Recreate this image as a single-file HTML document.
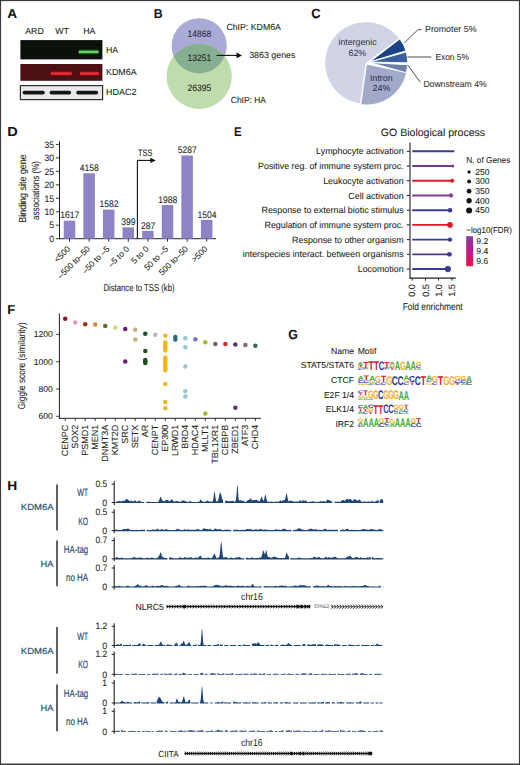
<!DOCTYPE html>
<html><head><meta charset="utf-8"><style>
html,body{margin:0;padding:0;background:#fff;}
svg{display:block;font-family:"Liberation Sans", sans-serif;text-rendering:geometricPrecision;}
</style></head><body>
<svg width="520" height="765" viewBox="0 0 520 765">
<rect x="0" y="0" width="520" height="765" fill="#fff"/>
<text x="0" y="0" font-size="100" font-weight="bold" fill="#111" stroke="#111" stroke-width="0.365" transform="translate(7.16 17.6) scale(0.13713 0.12936)">A</text>
<text x="34.5" y="34.33" font-size="8.8" fill="#231f20" stroke="#231f20" stroke-width="0.08" text-anchor="middle">ARD</text>
<text x="62.1" y="34.33" font-size="8.8" fill="#231f20" stroke="#231f20" stroke-width="0.08" text-anchor="middle">WT</text>
<text x="89.3" y="34.33" font-size="8.8" fill="#231f20" stroke="#231f20" stroke-width="0.08" text-anchor="middle">HA</text>
<rect x="20.4" y="40.1" width="82" height="19.3" fill="#0b100b" />
<rect x="78.3" y="49.6" width="20.6" height="4.6" rx="1.5" fill="#1f5a1f" opacity="0.9"/>
<rect x="78.6" y="50.5" width="20" height="2.8" rx="1" fill="#38a038"/>
<rect x="79" y="51.2" width="19.4" height="1.4" fill="#7ce67c"/>
<rect x="20.4" y="64" width="82" height="16.8" fill="#4c1012" />
<rect x="50.4" y="71.3" width="21.8" height="4.4" rx="1.5" fill="#8a1418" opacity="0.9"/>
<rect x="50.7" y="72.0" width="21.2" height="3" rx="1" fill="#c81e26"/>
<rect x="51" y="72.7" width="20.6" height="1.5" fill="#ea3439"/>
<rect x="79.6" y="71.3" width="19.7" height="4.4" rx="1.5" fill="#8a1418" opacity="0.9"/>
<rect x="79.9" y="72.0" width="19.1" height="3" rx="1" fill="#c81e26"/>
<rect x="80.2" y="72.7" width="18.5" height="1.5" fill="#ea3439"/>
<rect x="20.4" y="85.6" width="82.2" height="14" fill="#e9e9e9" stroke="#2e2e2e" stroke-width="1.2"/>
<rect x="22.6" y="90.8" width="22.2" height="3.7" rx="1.8" fill="#151515"/>
<rect x="49.6" y="90.8" width="21.5" height="3.7" rx="1.8" fill="#151515"/>
<rect x="76.2" y="90.8" width="22" height="3.7" rx="1.8" fill="#151515"/>
<text x="106" y="52.63" font-size="8.8" fill="#231f20" stroke="#231f20" stroke-width="0.08">HA</text>
<text x="106" y="75.13" font-size="8.8" fill="#231f20" stroke="#231f20" stroke-width="0.08" textLength="30.6" lengthAdjust="spacingAndGlyphs">KDM6A</text>
<text x="106" y="94.83" font-size="8.8" fill="#231f20" stroke="#231f20" stroke-width="0.08" textLength="30.6" lengthAdjust="spacingAndGlyphs">HDAC2</text>
<text x="0" y="0" font-size="100" font-weight="bold" fill="#111" stroke="#111" stroke-width="0.407" transform="translate(153.78 17.6) scale(0.12298 0.12936)">B</text>
<circle cx="199.2" cy="45.8" r="27.6" fill="#a9abd6" />
<circle cx="199.2" cy="76.3" r="32.6" fill="#bfdcac" />
<clipPath id="cpTop"><circle cx="199.2" cy="45.8" r="27.6"/></clipPath>
<circle cx="199.2" cy="76.3" r="32.6" fill="#86ae90" clip-path="url(#cpTop)"/>
<text x="199.4" y="37.4" font-size="9.3" fill="#2a2a3a" stroke="#2a2a3a" stroke-width="0.08" text-anchor="middle" textLength="24" lengthAdjust="spacingAndGlyphs">14868</text>
<text x="199.4" y="61.3" font-size="9.3" fill="#1f2a22" stroke="#1f2a22" stroke-width="0.08" text-anchor="middle" textLength="24" lengthAdjust="spacingAndGlyphs">13251</text>
<text x="199.4" y="91.2" font-size="9.3" fill="#1f2a1a" stroke="#1f2a1a" stroke-width="0.08" text-anchor="middle" textLength="24" lengthAdjust="spacingAndGlyphs">26395</text>
<line x1="216.5" y1="55.4" x2="238" y2="55.4" stroke="#111" stroke-width="1.1" />
<path d="M242,55.4 L236.5,52.6 L236.5,58.2 Z" fill="#111"/>
<text x="249.2" y="58.43" font-size="8.8" fill="#231f20" stroke="#231f20" stroke-width="0.08" textLength="46.2" lengthAdjust="spacingAndGlyphs">3863 genes</text>
<text x="226.4" y="29.53" font-size="8.8" fill="#231f20" stroke="#231f20" stroke-width="0.08" textLength="54.5" lengthAdjust="spacingAndGlyphs">ChIP: KDM6A</text>
<text x="230.8" y="102.93" font-size="8.8" fill="#231f20" stroke="#231f20" stroke-width="0.08" textLength="35.2" lengthAdjust="spacingAndGlyphs">ChIP: HA</text>
<text x="0" y="0" font-size="100" font-weight="bold" fill="#111" stroke="#111" stroke-width="0.389" transform="translate(311.27 17.77) scale(0.12848 0.13418)">C</text>
<path d="M366.1,63 L360.35,103.9 A41.3,41.3 0 1 1 399.3,38.43 Z" fill="#d1d3e6" stroke="#fff" stroke-width="0.9"/>
<path d="M366.5,64 L406.7,72.55 A41.1,41.1 0 0 1 360.78,104.7 Z" fill="#a3a9c9" stroke="#fff" stroke-width="0.9"/>
<path d="M370,61.8 L399.83,38.91 A37.6,37.6 0 0 1 405.96,50.81 Z" fill="#1b4582" stroke="#fff" stroke-width="0.9"/>
<path d="M370,62.1 L406.21,51.99 A37.6,37.6 0 0 1 407.59,62.76 Z" fill="#3b5f98" stroke="#fff" stroke-width="0.9"/>
<path d="M370,62.6 L407.54,64.76 A37.6,37.6 0 0 1 406.23,72.65 Z" fill="#6b7ea6" stroke="#fff" stroke-width="0.9"/>
<text x="357.5" y="45.3" font-size="8.8" fill="#3b3f55" stroke="#3b3f55" stroke-width="0.08" text-anchor="middle">intergenic</text>
<text x="357.3" y="55.63" font-size="8.8" fill="#3b3f55" stroke="#3b3f55" stroke-width="0.08" text-anchor="middle">62%</text>
<text x="381.3" y="81.33" font-size="8.8" fill="#34385a" stroke="#34385a" stroke-width="0.08" text-anchor="middle">Intron</text>
<text x="381.4" y="91.33" font-size="8.8" fill="#34385a" stroke="#34385a" stroke-width="0.08" text-anchor="middle">24%</text>
<path d="M404.2,43 L418,29.7 L421.5,29.7" fill="none" stroke="#3a3a3a" stroke-width="0.9"/>
<line x1="407.5" y1="57" x2="431.3" y2="57" stroke="#3a3a3a" stroke-width="0.9" />
<path d="M407.7,65 L420.4,82.3" fill="none" stroke="#3a3a3a" stroke-width="0.9"/>
<text x="425" y="32.23" font-size="8.8" fill="#333" stroke="#333" stroke-width="0.08" textLength="51.5" lengthAdjust="spacingAndGlyphs">Promoter 5%</text>
<text x="435.4" y="60.03" font-size="8.8" fill="#333" stroke="#333" stroke-width="0.08" textLength="33.6" lengthAdjust="spacingAndGlyphs">Exon 5%</text>
<text x="423.4" y="87.23" font-size="8.8" fill="#333" stroke="#333" stroke-width="0.08" textLength="63.2" lengthAdjust="spacingAndGlyphs">Downstream 4%</text>
<text x="0" y="0" font-size="100" font-weight="bold" fill="#111" stroke="#111" stroke-width="0.345" transform="translate(7.13 135.9) scale(0.14512 0.13082)">D</text>
<line x1="59.5" y1="141.3" x2="59.5" y2="239.2" stroke="#231f20" stroke-width="1" />
<line x1="59" y1="238.7" x2="216.1" y2="238.7" stroke="#231f20" stroke-width="1" />
<line x1="55.9" y1="238.7" x2="59.5" y2="238.7" stroke="#231f20" stroke-width="0.9" />
<text x="54" y="241.93" font-size="9.4" fill="#231f20" stroke="#231f20" stroke-width="0.08" text-anchor="end" textLength="4.8" lengthAdjust="spacingAndGlyphs">0</text>
<line x1="55.9" y1="225.23" x2="59.5" y2="225.23" stroke="#231f20" stroke-width="0.9" />
<text x="54" y="228.46" font-size="9.4" fill="#231f20" stroke="#231f20" stroke-width="0.08" text-anchor="end" textLength="4.8" lengthAdjust="spacingAndGlyphs">5</text>
<line x1="55.9" y1="211.76" x2="59.5" y2="211.76" stroke="#231f20" stroke-width="0.9" />
<text x="54" y="214.99" font-size="9.4" fill="#231f20" stroke="#231f20" stroke-width="0.08" text-anchor="end" textLength="9.6" lengthAdjust="spacingAndGlyphs">10</text>
<line x1="55.9" y1="198.29" x2="59.5" y2="198.29" stroke="#231f20" stroke-width="0.9" />
<text x="54" y="201.52" font-size="9.4" fill="#231f20" stroke="#231f20" stroke-width="0.08" text-anchor="end" textLength="9.6" lengthAdjust="spacingAndGlyphs">15</text>
<line x1="55.9" y1="184.82" x2="59.5" y2="184.82" stroke="#231f20" stroke-width="0.9" />
<text x="54" y="188.05" font-size="9.4" fill="#231f20" stroke="#231f20" stroke-width="0.08" text-anchor="end" textLength="9.6" lengthAdjust="spacingAndGlyphs">20</text>
<line x1="55.9" y1="171.35" x2="59.5" y2="171.35" stroke="#231f20" stroke-width="0.9" />
<text x="54" y="174.58" font-size="9.4" fill="#231f20" stroke="#231f20" stroke-width="0.08" text-anchor="end" textLength="9.6" lengthAdjust="spacingAndGlyphs">25</text>
<line x1="55.9" y1="157.88" x2="59.5" y2="157.88" stroke="#231f20" stroke-width="0.9" />
<text x="54" y="161.11" font-size="9.4" fill="#231f20" stroke="#231f20" stroke-width="0.08" text-anchor="end" textLength="9.6" lengthAdjust="spacingAndGlyphs">30</text>
<line x1="55.9" y1="144.41" x2="59.5" y2="144.41" stroke="#231f20" stroke-width="0.9" />
<text x="54" y="147.64" font-size="9.4" fill="#231f20" stroke="#231f20" stroke-width="0.08" text-anchor="end" textLength="9.6" lengthAdjust="spacingAndGlyphs">35</text>
<rect x="63.75" y="220.65" width="11.5" height="18.05" fill="#8c84c6" />
<text x="69.7" y="218.32" font-size="9.5" fill="#231f20" stroke="#231f20" stroke-width="0.08" text-anchor="middle" textLength="19" lengthAdjust="spacingAndGlyphs">1617</text>
<line x1="69.5" y1="238.7" x2="69.5" y2="241.7" stroke="#231f20" stroke-width="0.9" />
<text x="70.9" y="249.5" font-size="8.4" fill="#231f20" stroke="#231f20" stroke-width="0.08" text-anchor="end" transform="rotate(-45 70.9 249.5)">&lt;500</text>
<rect x="83.35" y="173.24" width="11.5" height="65.46" fill="#8c84c6" />
<text x="89.3" y="170.9" font-size="9.5" fill="#231f20" stroke="#231f20" stroke-width="0.08" text-anchor="middle" textLength="19" lengthAdjust="spacingAndGlyphs">4158</text>
<line x1="89.1" y1="238.7" x2="89.1" y2="241.7" stroke="#231f20" stroke-width="0.9" />
<text x="90.5" y="249.5" font-size="8.4" fill="#231f20" stroke="#231f20" stroke-width="0.08" text-anchor="end" transform="rotate(-45 90.5 249.5)">–500 to–50</text>
<rect x="102.95" y="209.6" width="11.5" height="29.1" fill="#8c84c6" />
<text x="108.9" y="207.27" font-size="9.5" fill="#231f20" stroke="#231f20" stroke-width="0.08" text-anchor="middle" textLength="19" lengthAdjust="spacingAndGlyphs">1582</text>
<line x1="108.7" y1="238.7" x2="108.7" y2="241.7" stroke="#231f20" stroke-width="0.9" />
<text x="110.1" y="249.5" font-size="8.4" fill="#231f20" stroke="#231f20" stroke-width="0.08" text-anchor="end" transform="rotate(-45 110.1 249.5)">–50 to –5</text>
<rect x="122.55" y="227.39" width="11.5" height="11.31" fill="#8c84c6" />
<text x="128.5" y="225.05" font-size="9.5" fill="#231f20" stroke="#231f20" stroke-width="0.08" text-anchor="middle" textLength="14.3" lengthAdjust="spacingAndGlyphs">399</text>
<line x1="128.3" y1="238.7" x2="128.3" y2="241.7" stroke="#231f20" stroke-width="0.9" />
<text x="129.7" y="249.5" font-size="8.4" fill="#231f20" stroke="#231f20" stroke-width="0.08" text-anchor="end" transform="rotate(-45 129.7 249.5)">–5 to 0</text>
<rect x="142.15" y="230.89" width="11.5" height="7.81" fill="#8c84c6" />
<text x="148.1" y="228.56" font-size="9.5" fill="#231f20" stroke="#231f20" stroke-width="0.08" text-anchor="middle" textLength="14.3" lengthAdjust="spacingAndGlyphs">287</text>
<line x1="147.9" y1="238.7" x2="147.9" y2="241.7" stroke="#231f20" stroke-width="0.9" />
<text x="149.3" y="249.5" font-size="8.4" fill="#231f20" stroke="#231f20" stroke-width="0.08" text-anchor="end" transform="rotate(-45 149.3 249.5)">5 to 0</text>
<rect x="161.75" y="205.02" width="11.5" height="33.68" fill="#8c84c6" />
<text x="167.7" y="202.69" font-size="9.5" fill="#231f20" stroke="#231f20" stroke-width="0.08" text-anchor="middle" textLength="19" lengthAdjust="spacingAndGlyphs">1988</text>
<line x1="167.5" y1="238.7" x2="167.5" y2="241.7" stroke="#231f20" stroke-width="0.9" />
<text x="168.9" y="249.5" font-size="8.4" fill="#231f20" stroke="#231f20" stroke-width="0.08" text-anchor="end" transform="rotate(-45 168.9 249.5)">50 to –5</text>
<rect x="181.35" y="155.46" width="11.5" height="83.24" fill="#8c84c6" />
<text x="187.3" y="153.12" font-size="9.5" fill="#231f20" stroke="#231f20" stroke-width="0.08" text-anchor="middle" textLength="19" lengthAdjust="spacingAndGlyphs">5287</text>
<line x1="187.1" y1="238.7" x2="187.1" y2="241.7" stroke="#231f20" stroke-width="0.9" />
<text x="188.5" y="249.5" font-size="8.4" fill="#231f20" stroke="#231f20" stroke-width="0.08" text-anchor="end" transform="rotate(-45 188.5 249.5)">500 to–50</text>
<rect x="200.95" y="219.84" width="11.5" height="18.86" fill="#8c84c6" />
<text x="206.9" y="217.51" font-size="9.5" fill="#231f20" stroke="#231f20" stroke-width="0.08" text-anchor="middle" textLength="19" lengthAdjust="spacingAndGlyphs">1504</text>
<line x1="206.7" y1="238.7" x2="206.7" y2="241.7" stroke="#231f20" stroke-width="0.9" />
<text x="208.1" y="249.5" font-size="8.4" fill="#231f20" stroke="#231f20" stroke-width="0.08" text-anchor="end" transform="rotate(-45 208.1 249.5)">&gt;500</text>
<line x1="137.4" y1="160.4" x2="137.4" y2="238.7" stroke="#111" stroke-width="1.1" />
<line x1="136.9" y1="160.4" x2="151.5" y2="160.4" stroke="#111" stroke-width="1.1" />
<path d="M155.8,160.4 L150.3,157.7 L150.3,163.1 Z" fill="#111"/>
<text x="145.2" y="155.63" font-size="9.4" fill="#111" stroke="#111" stroke-width="0.08" text-anchor="middle" textLength="14.2" lengthAdjust="spacingAndGlyphs">TSS</text>
<text x="26.1" y="188.5" font-size="10.1" fill="#231f20" stroke="#231f20" stroke-width="0.08" text-anchor="middle" textLength="68.5" lengthAdjust="spacingAndGlyphs" transform="rotate(-90 26.1 188.5)">Binding site gene</text>
<text x="39.4" y="190.5" font-size="10" fill="#231f20" stroke="#231f20" stroke-width="0.08" text-anchor="middle" textLength="59" lengthAdjust="spacingAndGlyphs" transform="rotate(-90 39.4 190.5)">associations (%)</text>
<text x="139" y="290.61" font-size="9.9" fill="#231f20" stroke="#231f20" stroke-width="0.08" text-anchor="middle" textLength="71.2" lengthAdjust="spacingAndGlyphs">Distance to TSS (kb)</text>
<text x="0" y="0" font-size="100" font-weight="bold" fill="#111" stroke="#111" stroke-width="0.438" transform="translate(234.04 135.6) scale(0.11407 0.12646)">E</text>
<text x="433" y="136.25" font-size="10.6" fill="#231f20" stroke="#231f20" stroke-width="0.08" text-anchor="middle" textLength="104.3" lengthAdjust="spacingAndGlyphs">GO Biological process</text>
<line x1="410" y1="142.5" x2="410" y2="278.6" stroke="#231f20" stroke-width="1.1" />
<line x1="409.5" y1="278.1" x2="455.8" y2="278.1" stroke="#231f20" stroke-width="1.1" />
<line x1="406.7" y1="151.3" x2="410" y2="151.3" stroke="#231f20" stroke-width="1" />
<line x1="412.2" y1="151.3" x2="453.5" y2="151.3" stroke="#393d8f" stroke-width="1.9" />
<circle cx="453.5" cy="151.3" r="0.95" fill="#393d8f" />
<text x="403.6" y="154.36" font-size="8.9" fill="#231f20" stroke="#231f20" stroke-width="0.08" text-anchor="end">Lymphocyte activation</text>
<line x1="406.7" y1="166.02" x2="410" y2="166.02" stroke="#231f20" stroke-width="1" />
<line x1="412.2" y1="166.02" x2="452.7" y2="166.02" stroke="#783a8c" stroke-width="1.9" />
<circle cx="452.7" cy="166.02" r="1.5" fill="#783a8c" />
<text x="403.6" y="169.08" font-size="8.9" fill="#231f20" stroke="#231f20" stroke-width="0.08" text-anchor="end">Positive reg. of immune system proc.</text>
<line x1="406.7" y1="180.74" x2="410" y2="180.74" stroke="#231f20" stroke-width="1" />
<line x1="412.2" y1="180.74" x2="452.2" y2="180.74" stroke="#dc1a26" stroke-width="1.9" />
<circle cx="452.2" cy="180.74" r="1.9" fill="#dc1a26" />
<text x="403.6" y="183.8" font-size="8.9" fill="#231f20" stroke="#231f20" stroke-width="0.08" text-anchor="end">Leukocyte activation</text>
<line x1="406.7" y1="195.46" x2="410" y2="195.46" stroke="#231f20" stroke-width="1" />
<line x1="412.2" y1="195.46" x2="451" y2="195.46" stroke="#853c96" stroke-width="1.9" />
<circle cx="451" cy="195.46" r="2.1" fill="#853c96" />
<text x="403.6" y="198.52" font-size="8.9" fill="#231f20" stroke="#231f20" stroke-width="0.08" text-anchor="end">Cell activation</text>
<line x1="406.7" y1="210.18" x2="410" y2="210.18" stroke="#231f20" stroke-width="1" />
<line x1="412.2" y1="210.18" x2="450" y2="210.18" stroke="#393d8f" stroke-width="1.9" />
<circle cx="450" cy="210.18" r="2.3" fill="#393d8f" />
<text x="403.6" y="213.24" font-size="8.9" fill="#231f20" stroke="#231f20" stroke-width="0.08" text-anchor="end">Response to external biotic stimulus</text>
<line x1="406.7" y1="224.9" x2="410" y2="224.9" stroke="#231f20" stroke-width="1" />
<line x1="412.2" y1="224.9" x2="450" y2="224.9" stroke="#dc1a26" stroke-width="1.9" />
<circle cx="450" cy="224.9" r="2.8" fill="#dc1a26" />
<text x="403.6" y="227.96" font-size="8.9" fill="#231f20" stroke="#231f20" stroke-width="0.08" text-anchor="end">Regulation of immune system proc.</text>
<line x1="406.7" y1="239.62" x2="410" y2="239.62" stroke="#231f20" stroke-width="1" />
<line x1="412.2" y1="239.62" x2="450" y2="239.62" stroke="#393d8f" stroke-width="1.9" />
<circle cx="450" cy="239.62" r="2.2" fill="#393d8f" />
<text x="403.6" y="242.68" font-size="8.9" fill="#231f20" stroke="#231f20" stroke-width="0.08" text-anchor="end">Response to other organism</text>
<line x1="406.7" y1="254.34" x2="410" y2="254.34" stroke="#231f20" stroke-width="1" />
<line x1="412.2" y1="254.34" x2="449.4" y2="254.34" stroke="#463a92" stroke-width="1.9" />
<circle cx="449.4" cy="254.34" r="2.45" fill="#463a92" />
<text x="403.6" y="257.4" font-size="8.9" fill="#231f20" stroke="#231f20" stroke-width="0.08" text-anchor="end">interspecies interact. between organisms</text>
<line x1="406.7" y1="269.06" x2="410" y2="269.06" stroke="#231f20" stroke-width="1" />
<line x1="412.2" y1="269.06" x2="447.9" y2="269.06" stroke="#393d8f" stroke-width="1.9" />
<circle cx="447.9" cy="269.06" r="3.1" fill="#393d8f" />
<text x="403.6" y="272.12" font-size="8.9" fill="#231f20" stroke="#231f20" stroke-width="0.08" text-anchor="end">Locomotion</text>
<line x1="412.2" y1="278.1" x2="412.2" y2="280.6" stroke="#231f20" stroke-width="1" />
<text x="415.4" y="284" font-size="9.2" fill="#231f20" stroke="#231f20" stroke-width="0.08" text-anchor="end" transform="rotate(-90 415.4 284)">0.0</text>
<line x1="425.5" y1="278.1" x2="425.5" y2="280.6" stroke="#231f20" stroke-width="1" />
<text x="428.7" y="284" font-size="9.2" fill="#231f20" stroke="#231f20" stroke-width="0.08" text-anchor="end" transform="rotate(-90 428.7 284)">0.5</text>
<line x1="438.5" y1="278.1" x2="438.5" y2="280.6" stroke="#231f20" stroke-width="1" />
<text x="441.7" y="284" font-size="9.2" fill="#231f20" stroke="#231f20" stroke-width="0.08" text-anchor="end" transform="rotate(-90 441.7 284)">1.0</text>
<line x1="451.9" y1="278.1" x2="451.9" y2="280.6" stroke="#231f20" stroke-width="1" />
<text x="455.1" y="284" font-size="9.2" fill="#231f20" stroke="#231f20" stroke-width="0.08" text-anchor="end" transform="rotate(-90 455.1 284)">1.5</text>
<text x="432.7" y="309.94" font-size="10" fill="#231f20" stroke="#231f20" stroke-width="0.08" text-anchor="middle" textLength="60" lengthAdjust="spacingAndGlyphs">Fold enrichment</text>
<text x="466.3" y="162.66" font-size="8.6" fill="#231f20" stroke="#231f20" stroke-width="0.08" textLength="44" lengthAdjust="spacingAndGlyphs">N. of Genes</text>
<circle cx="469.1" cy="171.9" r="1.6" fill="#111" />
<text x="475.3" y="174.86" font-size="8.6" fill="#231f20" stroke="#231f20" stroke-width="0.08">250</text>
<circle cx="469.1" cy="181.52" r="1.95" fill="#111" />
<text x="475.3" y="184.48" font-size="8.6" fill="#231f20" stroke="#231f20" stroke-width="0.08">300</text>
<circle cx="469.1" cy="191.14" r="2.3" fill="#111" />
<text x="475.3" y="194.1" font-size="8.6" fill="#231f20" stroke="#231f20" stroke-width="0.08">350</text>
<circle cx="469.1" cy="200.76" r="2.65" fill="#111" />
<text x="475.3" y="203.72" font-size="8.6" fill="#231f20" stroke="#231f20" stroke-width="0.08">400</text>
<circle cx="469.1" cy="210.38" r="3" fill="#111" />
<text x="475.3" y="213.34" font-size="8.6" fill="#231f20" stroke="#231f20" stroke-width="0.08">450</text>
<text x="466.3" y="232.76" font-size="8.6" fill="#231f20" stroke="#231f20" stroke-width="0.08" textLength="45.6" lengthAdjust="spacingAndGlyphs">−log10(FDR)</text>
<defs><linearGradient id="gFDR" x1="0" y1="0" x2="0" y2="1"><stop offset="0" stop-color="#7f3f9c"/><stop offset="0.45" stop-color="#c01890"/><stop offset="1" stop-color="#ec1040"/></linearGradient></defs>
<rect x="466.2" y="236.2" width="6.8" height="30" fill="url(#gFDR)" />
<text x="476.3" y="244.36" font-size="8.6" fill="#231f20" stroke="#231f20" stroke-width="0.08">9.2</text>
<text x="476.3" y="254.06" font-size="8.6" fill="#231f20" stroke="#231f20" stroke-width="0.08">9.4</text>
<text x="476.3" y="263.56" font-size="8.6" fill="#231f20" stroke="#231f20" stroke-width="0.08">9.6</text>
<text x="0" y="0" font-size="100" font-weight="bold" fill="#111" stroke="#111" stroke-width="0.384" transform="translate(7.23 313.6) scale(0.13009 0.12936)">F</text>
<line x1="59.4" y1="313.5" x2="59.4" y2="418.8" stroke="#231f20" stroke-width="1" />
<line x1="58.9" y1="418.3" x2="261" y2="418.3" stroke="#231f20" stroke-width="1" />
<line x1="56.2" y1="416.3" x2="59.4" y2="416.3" stroke="#231f20" stroke-width="0.9" />
<text x="52.8" y="419.26" font-size="8.6" fill="#231f20" stroke="#231f20" stroke-width="0.08" text-anchor="end">600</text>
<line x1="56.2" y1="389" x2="59.4" y2="389" stroke="#231f20" stroke-width="0.9" />
<text x="52.8" y="391.96" font-size="8.6" fill="#231f20" stroke="#231f20" stroke-width="0.08" text-anchor="end">800</text>
<line x1="56.2" y1="361.7" x2="59.4" y2="361.7" stroke="#231f20" stroke-width="0.9" />
<text x="52.8" y="364.66" font-size="8.6" fill="#231f20" stroke="#231f20" stroke-width="0.08" text-anchor="end">1000</text>
<line x1="56.2" y1="334.4" x2="59.4" y2="334.4" stroke="#231f20" stroke-width="0.9" />
<text x="52.8" y="337.36" font-size="8.6" fill="#231f20" stroke="#231f20" stroke-width="0.08" text-anchor="end">1200</text>
<text x="25.4" y="366" font-size="10" fill="#231f20" stroke="#231f20" stroke-width="0.08" text-anchor="middle" textLength="87" lengthAdjust="spacingAndGlyphs" transform="rotate(-90 25.4 366)">Giggle score (similarity)</text>
<line x1="65.2" y1="418.3" x2="65.2" y2="420.9" stroke="#231f20" stroke-width="0.9" />
<text x="68.3" y="424.7" font-size="9" fill="#231f20" stroke="#231f20" stroke-width="0.08" text-anchor="end" transform="rotate(-90 68.3 424.7)">CENPC</text>
<circle cx="65.2" cy="318.8" r="2.25" fill="#851a1c" />
<line x1="75.21" y1="418.3" x2="75.21" y2="420.9" stroke="#231f20" stroke-width="0.9" />
<text x="78.31" y="424.7" font-size="9" fill="#231f20" stroke="#231f20" stroke-width="0.08" text-anchor="end" transform="rotate(-90 78.31 424.7)">SOX2</text>
<circle cx="75.21" cy="322.6" r="2.25" fill="#d9a0c4" />
<line x1="85.22" y1="418.3" x2="85.22" y2="420.9" stroke="#231f20" stroke-width="0.9" />
<text x="88.32" y="424.7" font-size="9" fill="#231f20" stroke="#231f20" stroke-width="0.08" text-anchor="end" transform="rotate(-90 88.32 424.7)">PSMD1</text>
<circle cx="85.22" cy="324.2" r="2.25" fill="#923a14" />
<line x1="95.23" y1="418.3" x2="95.23" y2="420.9" stroke="#231f20" stroke-width="0.9" />
<text x="98.33" y="424.7" font-size="9" fill="#231f20" stroke="#231f20" stroke-width="0.08" text-anchor="end" transform="rotate(-90 98.33 424.7)">MEN1</text>
<circle cx="95.23" cy="324.6" r="2.25" fill="#e08a36" />
<line x1="105.24" y1="418.3" x2="105.24" y2="420.9" stroke="#231f20" stroke-width="0.9" />
<text x="108.34" y="424.7" font-size="9" fill="#231f20" stroke="#231f20" stroke-width="0.08" text-anchor="end" transform="rotate(-90 108.34 424.7)">DNMT3A</text>
<circle cx="105.24" cy="326" r="2.25" fill="#5a6e2a" />
<line x1="115.25" y1="418.3" x2="115.25" y2="420.9" stroke="#231f20" stroke-width="0.9" />
<text x="118.35" y="424.7" font-size="9" fill="#231f20" stroke="#231f20" stroke-width="0.08" text-anchor="end" transform="rotate(-90 118.35 424.7)">KMT2D</text>
<circle cx="115.25" cy="327.5" r="2.25" fill="#cadb74" />
<line x1="125.26" y1="418.3" x2="125.26" y2="420.9" stroke="#231f20" stroke-width="0.9" />
<text x="128.36" y="424.7" font-size="9" fill="#231f20" stroke="#231f20" stroke-width="0.08" text-anchor="end" transform="rotate(-90 128.36 424.7)">SRC</text>
<circle cx="125.26" cy="329.1" r="2.25" fill="#6e1a72" />
<circle cx="125.26" cy="361.4" r="2.25" fill="#6e1a72" />
<line x1="135.27" y1="418.3" x2="135.27" y2="420.9" stroke="#231f20" stroke-width="0.9" />
<text x="138.37" y="424.7" font-size="9" fill="#231f20" stroke="#231f20" stroke-width="0.08" text-anchor="end" transform="rotate(-90 138.37 424.7)">SETX</text>
<circle cx="135.27" cy="329.7" r="2.25" fill="#bdb57e" />
<circle cx="135.27" cy="339.6" r="2.25" fill="#bdb57e" />
<line x1="145.28" y1="418.3" x2="145.28" y2="420.9" stroke="#231f20" stroke-width="0.9" />
<text x="148.38" y="424.7" font-size="9" fill="#231f20" stroke="#231f20" stroke-width="0.08" text-anchor="end" transform="rotate(-90 148.38 424.7)">AR</text>
<circle cx="145.28" cy="333.7" r="2.25" fill="#1d4f23" />
<circle cx="145.28" cy="351.1" r="2.25" fill="#1d4f23" />
<circle cx="145.28" cy="360" r="2.25" fill="#1d4f23" />
<circle cx="145.28" cy="361.5" r="2.25" fill="#1d4f23" />
<circle cx="145.28" cy="363" r="2.25" fill="#1d4f23" />
<line x1="155.29" y1="418.3" x2="155.29" y2="420.9" stroke="#231f20" stroke-width="0.9" />
<text x="158.39" y="424.7" font-size="9" fill="#231f20" stroke="#231f20" stroke-width="0.08" text-anchor="end" transform="rotate(-90 158.39 424.7)">CENPT</text>
<circle cx="155.29" cy="334.8" r="2.25" fill="#b8b8b8" />
<line x1="165.3" y1="418.3" x2="165.3" y2="420.9" stroke="#231f20" stroke-width="0.9" />
<text x="168.4" y="424.7" font-size="9" fill="#231f20" stroke="#231f20" stroke-width="0.08" text-anchor="end" transform="rotate(-90 168.4 424.7)">EP300</text>
<circle cx="165.3" cy="335.7" r="2.25" fill="#f2b623" />
<circle cx="165.3" cy="342.4" r="2.25" fill="#f2b623" />
<circle cx="165.3" cy="344" r="2.25" fill="#f2b623" />
<circle cx="165.3" cy="345.6" r="2.25" fill="#f2b623" />
<circle cx="165.3" cy="347.2" r="2.25" fill="#f2b623" />
<circle cx="165.3" cy="348.8" r="2.25" fill="#f2b623" />
<circle cx="165.3" cy="350.5" r="2.25" fill="#f2b623" />
<circle cx="165.3" cy="357.5" r="2.25" fill="#f2b623" />
<circle cx="165.3" cy="359.2" r="2.25" fill="#f2b623" />
<circle cx="165.3" cy="361" r="2.25" fill="#f2b623" />
<circle cx="165.3" cy="362.8" r="2.25" fill="#f2b623" />
<circle cx="165.3" cy="364.6" r="2.25" fill="#f2b623" />
<circle cx="165.3" cy="366.4" r="2.25" fill="#f2b623" />
<circle cx="165.3" cy="368.2" r="2.25" fill="#f2b623" />
<circle cx="165.3" cy="370.2" r="2.25" fill="#f2b623" />
<circle cx="165.3" cy="384" r="2.25" fill="#f2b623" />
<circle cx="165.3" cy="402.1" r="2.25" fill="#f2b623" />
<circle cx="165.3" cy="408.2" r="2.25" fill="#f2b623" />
<line x1="175.31" y1="418.3" x2="175.31" y2="420.9" stroke="#231f20" stroke-width="0.9" />
<text x="178.41" y="424.7" font-size="9" fill="#231f20" stroke="#231f20" stroke-width="0.08" text-anchor="end" transform="rotate(-90 178.41 424.7)">LRWD1</text>
<circle cx="175.31" cy="337" r="2.25" fill="#1f6f8a" />
<circle cx="175.31" cy="339.4" r="2.25" fill="#1f6f8a" />
<line x1="185.32" y1="418.3" x2="185.32" y2="420.9" stroke="#231f20" stroke-width="0.9" />
<text x="188.42" y="424.7" font-size="9" fill="#231f20" stroke="#231f20" stroke-width="0.08" text-anchor="end" transform="rotate(-90 188.42 424.7)">BRD4</text>
<circle cx="185.32" cy="338.3" r="2.25" fill="#94c7d6" />
<circle cx="185.32" cy="347.2" r="2.25" fill="#94c7d6" />
<circle cx="185.32" cy="366.4" r="2.25" fill="#94c7d6" />
<circle cx="185.32" cy="391.2" r="2.25" fill="#94c7d6" />
<circle cx="185.32" cy="396.5" r="2.25" fill="#94c7d6" />
<line x1="195.33" y1="418.3" x2="195.33" y2="420.9" stroke="#231f20" stroke-width="0.9" />
<text x="198.43" y="424.7" font-size="9" fill="#231f20" stroke="#231f20" stroke-width="0.08" text-anchor="end" transform="rotate(-90 198.43 424.7)">HDAC4</text>
<circle cx="195.33" cy="339.3" r="2.25" fill="#707bbd" />
<line x1="205.34" y1="418.3" x2="205.34" y2="420.9" stroke="#231f20" stroke-width="0.9" />
<text x="208.44" y="424.7" font-size="9" fill="#231f20" stroke="#231f20" stroke-width="0.08" text-anchor="end" transform="rotate(-90 208.44 424.7)">MLLT1</text>
<circle cx="205.34" cy="342.3" r="2.25" fill="#a8b834" />
<circle cx="205.34" cy="413.6" r="2.25" fill="#a8b834" />
<line x1="215.35" y1="418.3" x2="215.35" y2="420.9" stroke="#231f20" stroke-width="0.9" />
<text x="218.45" y="424.7" font-size="9" fill="#231f20" stroke="#231f20" stroke-width="0.08" text-anchor="end" transform="rotate(-90 218.45 424.7)">TBL1XR1</text>
<circle cx="215.35" cy="343.9" r="2.25" fill="#6e6452" />
<line x1="225.36" y1="418.3" x2="225.36" y2="420.9" stroke="#231f20" stroke-width="0.9" />
<text x="228.46" y="424.7" font-size="9" fill="#231f20" stroke="#231f20" stroke-width="0.08" text-anchor="end" transform="rotate(-90 228.46 424.7)">CEBPB</text>
<circle cx="225.36" cy="343.9" r="2.25" fill="#e1232b" />
<line x1="235.37" y1="418.3" x2="235.37" y2="420.9" stroke="#231f20" stroke-width="0.9" />
<text x="238.47" y="424.7" font-size="9" fill="#231f20" stroke="#231f20" stroke-width="0.08" text-anchor="end" transform="rotate(-90 238.47 424.7)">ZBED1</text>
<circle cx="235.37" cy="344.4" r="2.25" fill="#52386e" />
<circle cx="235.37" cy="407.7" r="2.25" fill="#52386e" />
<line x1="245.38" y1="418.3" x2="245.38" y2="420.9" stroke="#231f20" stroke-width="0.9" />
<text x="248.48" y="424.7" font-size="9" fill="#231f20" stroke="#231f20" stroke-width="0.08" text-anchor="end" transform="rotate(-90 248.48 424.7)">ATF3</text>
<circle cx="245.38" cy="345" r="2.25" fill="#846a78" />
<line x1="255.39" y1="418.3" x2="255.39" y2="420.9" stroke="#231f20" stroke-width="0.9" />
<text x="258.49" y="424.7" font-size="9" fill="#231f20" stroke="#231f20" stroke-width="0.08" text-anchor="end" transform="rotate(-90 258.49 424.7)">CHD4</text>
<circle cx="255.39" cy="345.8" r="2.25" fill="#2b6b5a" />
<text x="0" y="0" font-size="100" font-weight="bold" fill="#111" stroke="#111" stroke-width="0.407" transform="translate(288.2 339.47) scale(0.12300 0.13418)">G</text>
<text x="354" y="353.56" font-size="8.6" fill="#231f20" stroke="#231f20" stroke-width="0.08" text-anchor="end">Name</text>
<text x="357.7" y="353.56" font-size="8.6" fill="#231f20" stroke="#231f20" stroke-width="0.08">Motif</text>
<text x="354" y="367.86" font-size="8.6" fill="#231f20" stroke="#231f20" stroke-width="0.08" text-anchor="end">STAT5/STAT6</text>
<text x="354" y="382.76" font-size="8.6" fill="#231f20" stroke="#231f20" stroke-width="0.08" text-anchor="end">CTCF</text>
<text x="354" y="397.56" font-size="8.6" fill="#231f20" stroke="#231f20" stroke-width="0.08" text-anchor="end">E2F 1/4</text>
<text x="354" y="411.86" font-size="8.6" fill="#231f20" stroke="#231f20" stroke-width="0.08" text-anchor="end">ELK1/4</text>
<text x="354" y="426.56" font-size="8.6" fill="#231f20" stroke="#231f20" stroke-width="0.08" text-anchor="end">IRF2</text>
<text x="0" y="0" font-size="100" font-weight="bold" fill="#26359a" transform="translate(357.69 370.18) scale(0.0775 0.0246)">C</text>
<text x="0" y="0" font-size="100" font-weight="bold" fill="#f4ad1c" transform="translate(357.7 368.44) scale(0.0751 0.0246)">G</text>
<text x="0" y="0" font-size="100" font-weight="bold" fill="#d0202a" transform="translate(357.91 366.72) scale(0.0861 0.0316)">T</text>
<text x="0" y="0" font-size="100" font-weight="bold" fill="#3daa3a" transform="translate(357.82 364.54) scale(0.0756 0.0443)">A</text>
<text x="0" y="0" font-size="100" font-weight="bold" fill="#f4ad1c" transform="translate(362.98 370.19) scale(0.0751 0.0123)">G</text>
<text x="0" y="0" font-size="100" font-weight="bold" fill="#26359a" transform="translate(362.97 369.31) scale(0.0775 0.0246)">C</text>
<text x="0" y="0" font-size="100" font-weight="bold" fill="#d0202a" transform="translate(363.19 367.59) scale(0.0861 0.0885)">T</text>
<text x="0" y="0" font-size="100" font-weight="bold" fill="#d0202a" transform="translate(368.47 370.2) scale(0.0861 0.1265)">T</text>
<text x="0" y="0" font-size="100" font-weight="bold" fill="#d0202a" transform="translate(373.75 370.2) scale(0.0861 0.1265)">T</text>
<text x="0" y="0" font-size="100" font-weight="bold" fill="#26359a" transform="translate(378.81 370.08) scale(0.0775 0.1229)">C</text>
<text x="0" y="0" font-size="100" font-weight="bold" fill="#3daa3a" transform="translate(384.22 370.2) scale(0.0756 0.0126)">A</text>
<text x="0" y="0" font-size="100" font-weight="bold" fill="#26359a" transform="translate(384.09 369.31) scale(0.0775 0.0246)">C</text>
<text x="0" y="0" font-size="100" font-weight="bold" fill="#d0202a" transform="translate(384.31 367.59) scale(0.0861 0.0885)">T</text>
<text x="0" y="0" font-size="100" font-weight="bold" fill="#d0202a" transform="translate(389.59 370.2) scale(0.0861 0.0253)">T</text>
<text x="0" y="0" font-size="100" font-weight="bold" fill="#26359a" transform="translate(389.37 368.44) scale(0.0775 0.0246)">C</text>
<text x="0" y="0" font-size="100" font-weight="bold" fill="#f4ad1c" transform="translate(389.38 366.69) scale(0.0751 0.0307)">G</text>
<text x="0" y="0" font-size="100" font-weight="bold" fill="#3daa3a" transform="translate(389.5 364.54) scale(0.0756 0.0443)">A</text>
<text x="0" y="0" font-size="100" font-weight="bold" fill="#3daa3a" transform="translate(394.78 370.2) scale(0.0756 0.1265)">A</text>
<text x="0" y="0" font-size="100" font-weight="bold" fill="#f4ad1c" transform="translate(399.94 370.08) scale(0.0751 0.1229)">G</text>
<text x="0" y="0" font-size="100" font-weight="bold" fill="#3daa3a" transform="translate(405.34 370.2) scale(0.0756 0.1265)">A</text>
<text x="0" y="0" font-size="100" font-weight="bold" fill="#3daa3a" transform="translate(410.62 370.2) scale(0.0756 0.1265)">A</text>
<text x="0" y="0" font-size="100" font-weight="bold" fill="#3daa3a" transform="translate(415.9 370.2) scale(0.0756 0.0253)">A</text>
<text x="0" y="0" font-size="100" font-weight="bold" fill="#26359a" transform="translate(415.77 368.42) scale(0.0775 0.0369)">C</text>
<text x="0" y="0" font-size="100" font-weight="bold" fill="#f4ad1c" transform="translate(415.78 365.8) scale(0.0751 0.0553)">G</text>
<text x="0" y="0" font-size="100" font-weight="bold" fill="#f4ad1c" transform="translate(357.68 384.78) scale(0.0811 0.0249)">G</text>
<text x="0" y="0" font-size="100" font-weight="bold" fill="#26359a" transform="translate(357.67 383) scale(0.0837 0.0435)">C</text>
<text x="0" y="0" font-size="100" font-weight="bold" fill="#3daa3a" transform="translate(357.81 379.96) scale(0.0816 0.0576)">A</text>
<text x="0" y="0" font-size="100" font-weight="bold" fill="#f4ad1c" transform="translate(363.38 384.78) scale(0.0811 0.0249)">G</text>
<text x="0" y="0" font-size="100" font-weight="bold" fill="#26359a" transform="translate(363.37 383) scale(0.0837 0.0373)">C</text>
<text x="0" y="0" font-size="100" font-weight="bold" fill="#d0202a" transform="translate(363.61 380.4) scale(0.0929 0.0640)">T</text>
<text x="0" y="0" font-size="100" font-weight="bold" fill="#26359a" transform="translate(369.07 384.78) scale(0.0837 0.0249)">C</text>
<text x="0" y="0" font-size="100" font-weight="bold" fill="#f4ad1c" transform="translate(369.08 383.02) scale(0.0811 0.0249)">G</text>
<text x="0" y="0" font-size="100" font-weight="bold" fill="#3daa3a" transform="translate(369.21 381.28) scale(0.0816 0.0767)">A</text>
<text x="0" y="0" font-size="100" font-weight="bold" fill="#26359a" transform="translate(374.77 384.76) scale(0.0837 0.0373)">C</text>
<text x="0" y="0" font-size="100" font-weight="bold" fill="#f4ad1c" transform="translate(374.78 382.08) scale(0.0811 0.0870)">G</text>
<text x="0" y="0" font-size="100" font-weight="bold" fill="#26359a" transform="translate(380.47 384.76) scale(0.0837 0.0373)">C</text>
<text x="0" y="0" font-size="100" font-weight="bold" fill="#d0202a" transform="translate(380.71 382.16) scale(0.0929 0.0895)">T</text>
<text x="0" y="0" font-size="100" font-weight="bold" fill="#f4ad1c" transform="translate(386.18 384.68) scale(0.0811 0.1243)">G</text>
<text x="0" y="0" font-size="100" font-weight="bold" fill="#26359a" transform="translate(391.87 384.68) scale(0.0837 0.1243)">C</text>
<text x="0" y="0" font-size="100" font-weight="bold" fill="#26359a" transform="translate(397.57 384.68) scale(0.0837 0.1243)">C</text>
<text x="0" y="0" font-size="100" font-weight="bold" fill="#26359a" transform="translate(403.27 384.76) scale(0.0837 0.0373)">C</text>
<text x="0" y="0" font-size="100" font-weight="bold" fill="#f4ad1c" transform="translate(403.28 382.14) scale(0.0811 0.0249)">G</text>
<text x="0" y="0" font-size="100" font-weight="bold" fill="#3daa3a" transform="translate(403.41 380.4) scale(0.0816 0.0640)">A</text>
<text x="0" y="0" font-size="100" font-weight="bold" fill="#d0202a" transform="translate(409.21 384.8) scale(0.0929 0.0384)">T</text>
<text x="0" y="0" font-size="100" font-weight="bold" fill="#26359a" transform="translate(408.97 382.08) scale(0.0837 0.0870)">C</text>
<text x="0" y="0" font-size="100" font-weight="bold" fill="#26359a" transform="translate(414.67 384.68) scale(0.0837 0.1243)">C</text>
<text x="0" y="0" font-size="100" font-weight="bold" fill="#d0202a" transform="translate(420.61 384.8) scale(0.0929 0.1279)">T</text>
<text x="0" y="0" font-size="100" font-weight="bold" fill="#f4ad1c" transform="translate(426.08 384.76) scale(0.0811 0.0373)">G</text>
<text x="0" y="0" font-size="100" font-weight="bold" fill="#26359a" transform="translate(426.07 382.14) scale(0.0837 0.0249)">C</text>
<text x="0" y="0" font-size="100" font-weight="bold" fill="#3daa3a" transform="translate(426.21 380.4) scale(0.0816 0.0640)">A</text>
<text x="0" y="0" font-size="100" font-weight="bold" fill="#26359a" transform="translate(431.77 384.76) scale(0.0837 0.0373)">C</text>
<text x="0" y="0" font-size="100" font-weight="bold" fill="#f4ad1c" transform="translate(431.78 382.08) scale(0.0811 0.0870)">G</text>
<text x="0" y="0" font-size="100" font-weight="bold" fill="#d0202a" transform="translate(437.71 384.8) scale(0.0929 0.1279)">T</text>
<text x="0" y="0" font-size="100" font-weight="bold" fill="#f4ad1c" transform="translate(443.18 384.68) scale(0.0811 0.1243)">G</text>
<text x="0" y="0" font-size="100" font-weight="bold" fill="#f4ad1c" transform="translate(448.88 384.68) scale(0.0811 0.1243)">G</text>
<text x="0" y="0" font-size="100" font-weight="bold" fill="#d0202a" transform="translate(454.81 384.8) scale(0.0929 0.0320)">T</text>
<text x="0" y="0" font-size="100" font-weight="bold" fill="#26359a" transform="translate(454.57 382.56) scale(0.0837 0.0373)">C</text>
<text x="0" y="0" font-size="100" font-weight="bold" fill="#f4ad1c" transform="translate(454.58 379.91) scale(0.0811 0.0559)">G</text>
<text x="0" y="0" font-size="100" font-weight="bold" fill="#3daa3a" transform="translate(460.41 384.8) scale(0.0816 0.0256)">A</text>
<text x="0" y="0" font-size="100" font-weight="bold" fill="#26359a" transform="translate(460.27 383) scale(0.0837 0.0435)">C</text>
<text x="0" y="0" font-size="100" font-weight="bold" fill="#f4ad1c" transform="translate(460.28 379.91) scale(0.0811 0.0559)">G</text>
<text x="0" y="0" font-size="100" font-weight="bold" fill="#26359a" transform="translate(465.97 384.76) scale(0.0837 0.0435)">C</text>
<text x="0" y="0" font-size="100" font-weight="bold" fill="#3daa3a" transform="translate(466.11 381.72) scale(0.0816 0.0831)">A</text>
<text x="0" y="0" font-size="100" font-weight="bold" fill="#3daa3a" transform="translate(357.82 399.6) scale(0.0728 0.0256)">A</text>
<text x="0" y="0" font-size="100" font-weight="bold" fill="#f4ad1c" transform="translate(357.7 397.8) scale(0.0724 0.0373)">G</text>
<text x="0" y="0" font-size="100" font-weight="bold" fill="#d0202a" transform="translate(357.91 395.2) scale(0.0830 0.0256)">T</text>
<text x="0" y="0" font-size="100" font-weight="bold" fill="#26359a" transform="translate(357.7 393.4) scale(0.0747 0.0373)">C</text>
<text x="0" y="0" font-size="100" font-weight="bold" fill="#3daa3a" transform="translate(362.91 399.6) scale(0.0728 0.0256)">A</text>
<text x="0" y="0" font-size="100" font-weight="bold" fill="#f4ad1c" transform="translate(362.79 397.8) scale(0.0724 0.0373)">G</text>
<text x="0" y="0" font-size="100" font-weight="bold" fill="#d0202a" transform="translate(363 395.2) scale(0.0830 0.0640)">T</text>
<text x="0" y="0" font-size="100" font-weight="bold" fill="#26359a" transform="translate(367.88 399.58) scale(0.0747 0.0186)">C</text>
<text x="0" y="0" font-size="100" font-weight="bold" fill="#f4ad1c" transform="translate(367.88 398.18) scale(0.0724 0.1056)">G</text>
<text x="0" y="0" font-size="100" font-weight="bold" fill="#f4ad1c" transform="translate(372.97 399.48) scale(0.0724 0.1243)">G</text>
<text x="0" y="0" font-size="100" font-weight="bold" fill="#26359a" transform="translate(378.06 399.48) scale(0.0747 0.1243)">C</text>
<text x="0" y="0" font-size="100" font-weight="bold" fill="#f4ad1c" transform="translate(383.15 399.48) scale(0.0724 0.1243)">G</text>
<text x="0" y="0" font-size="100" font-weight="bold" fill="#f4ad1c" transform="translate(388.24 399.48) scale(0.0724 0.1243)">G</text>
<text x="0" y="0" font-size="100" font-weight="bold" fill="#f4ad1c" transform="translate(393.33 399.48) scale(0.0724 0.1243)">G</text>
<text x="0" y="0" font-size="100" font-weight="bold" fill="#3daa3a" transform="translate(398.54 399.6) scale(0.0728 0.1279)">A</text>
<text x="0" y="0" font-size="100" font-weight="bold" fill="#3daa3a" transform="translate(403.63 399.6) scale(0.0728 0.1279)">A</text>
<text x="0" y="0" font-size="100" font-weight="bold" fill="#3daa3a" transform="translate(357.82 413.6) scale(0.0728 0.0443)">A</text>
<text x="0" y="0" font-size="100" font-weight="bold" fill="#d0202a" transform="translate(357.91 410.56) scale(0.0830 0.0379)">T</text>
<text x="0" y="0" font-size="100" font-weight="bold" fill="#26359a" transform="translate(357.7 407.9) scale(0.0747 0.0430)">C</text>
<text x="0" y="0" font-size="100" font-weight="bold" fill="#26359a" transform="translate(362.79 413.56) scale(0.0747 0.0369)">C</text>
<text x="0" y="0" font-size="100" font-weight="bold" fill="#d0202a" transform="translate(363 410.99) scale(0.0830 0.0253)">T</text>
<text x="0" y="0" font-size="100" font-weight="bold" fill="#3daa3a" transform="translate(362.91 409.25) scale(0.0728 0.0632)">A</text>
<text x="0" y="0" font-size="100" font-weight="bold" fill="#d0202a" transform="translate(368.09 413.6) scale(0.0830 0.0316)">T</text>
<text x="0" y="0" font-size="100" font-weight="bold" fill="#f4ad1c" transform="translate(367.88 411.38) scale(0.0724 0.0430)">G</text>
<text x="0" y="0" font-size="100" font-weight="bold" fill="#26359a" transform="translate(367.88 408.33) scale(0.0747 0.0492)">C</text>
<text x="0" y="0" font-size="100" font-weight="bold" fill="#d0202a" transform="translate(373.18 413.6) scale(0.0830 0.1265)">T</text>
<text x="0" y="0" font-size="100" font-weight="bold" fill="#d0202a" transform="translate(378.27 413.6) scale(0.0830 0.1265)">T</text>
<text x="0" y="0" font-size="100" font-weight="bold" fill="#26359a" transform="translate(383.15 413.48) scale(0.0747 0.1229)">C</text>
<text x="0" y="0" font-size="100" font-weight="bold" fill="#26359a" transform="translate(388.24 413.48) scale(0.0747 0.1229)">C</text>
<text x="0" y="0" font-size="100" font-weight="bold" fill="#3daa3a" transform="translate(393.45 413.6) scale(0.0728 0.0253)">A</text>
<text x="0" y="0" font-size="100" font-weight="bold" fill="#26359a" transform="translate(393.33 411.82) scale(0.0747 0.0369)">C</text>
<text x="0" y="0" font-size="100" font-weight="bold" fill="#f4ad1c" transform="translate(393.33 409.19) scale(0.0724 0.0614)">G</text>
<text x="0" y="0" font-size="100" font-weight="bold" fill="#26359a" transform="translate(398.42 413.56) scale(0.0747 0.0369)">C</text>
<text x="0" y="0" font-size="100" font-weight="bold" fill="#3daa3a" transform="translate(398.54 410.99) scale(0.0728 0.0253)">A</text>
<text x="0" y="0" font-size="100" font-weight="bold" fill="#f4ad1c" transform="translate(398.42 409.19) scale(0.0724 0.0614)">G</text>
<text x="0" y="0" font-size="100" font-weight="bold" fill="#3daa3a" transform="translate(403.63 413.6) scale(0.0728 0.0253)">A</text>
<text x="0" y="0" font-size="100" font-weight="bold" fill="#26359a" transform="translate(403.51 411.82) scale(0.0747 0.0369)">C</text>
<text x="0" y="0" font-size="100" font-weight="bold" fill="#d0202a" transform="translate(403.72 409.25) scale(0.0830 0.0632)">T</text>
<text x="0" y="0" font-size="100" font-weight="bold" fill="#26359a" transform="translate(357.69 427.17) scale(0.0775 0.0307)">C</text>
<text x="0" y="0" font-size="100" font-weight="bold" fill="#3daa3a" transform="translate(357.82 425.02) scale(0.0756 0.0443)">A</text>
<text x="0" y="0" font-size="100" font-weight="bold" fill="#f4ad1c" transform="translate(357.7 421.93) scale(0.0751 0.0492)">G</text>
<text x="0" y="0" font-size="100" font-weight="bold" fill="#3daa3a" transform="translate(363.1 427.2) scale(0.0756 0.1265)">A</text>
<text x="0" y="0" font-size="100" font-weight="bold" fill="#3daa3a" transform="translate(368.38 427.2) scale(0.0756 0.1265)">A</text>
<text x="0" y="0" font-size="100" font-weight="bold" fill="#3daa3a" transform="translate(373.66 427.2) scale(0.0756 0.1265)">A</text>
<text x="0" y="0" font-size="100" font-weight="bold" fill="#26359a" transform="translate(378.81 427.15) scale(0.0775 0.0553)">C</text>
<text x="0" y="0" font-size="100" font-weight="bold" fill="#f4ad1c" transform="translate(378.82 423.22) scale(0.0751 0.0676)">G</text>
<text x="0" y="0" font-size="100" font-weight="bold" fill="#3daa3a" transform="translate(384.22 427.2) scale(0.0756 0.0253)">A</text>
<text x="0" y="0" font-size="100" font-weight="bold" fill="#26359a" transform="translate(384.09 425.42) scale(0.0775 0.0430)">C</text>
<text x="0" y="0" font-size="100" font-weight="bold" fill="#d0202a" transform="translate(384.31 422.41) scale(0.0861 0.0569)">T</text>
<text x="0" y="0" font-size="100" font-weight="bold" fill="#3daa3a" transform="translate(389.5 427.2) scale(0.0756 0.0506)">A</text>
<text x="0" y="0" font-size="100" font-weight="bold" fill="#f4ad1c" transform="translate(389.38 423.65) scale(0.0751 0.0737)">G</text>
<text x="0" y="0" font-size="100" font-weight="bold" fill="#3daa3a" transform="translate(394.78 427.2) scale(0.0756 0.1265)">A</text>
<text x="0" y="0" font-size="100" font-weight="bold" fill="#3daa3a" transform="translate(400.06 427.2) scale(0.0756 0.1265)">A</text>
<text x="0" y="0" font-size="100" font-weight="bold" fill="#3daa3a" transform="translate(405.34 427.2) scale(0.0756 0.1265)">A</text>
<text x="0" y="0" font-size="100" font-weight="bold" fill="#26359a" transform="translate(410.49 427.15) scale(0.0775 0.0553)">C</text>
<text x="0" y="0" font-size="100" font-weight="bold" fill="#f4ad1c" transform="translate(410.5 423.22) scale(0.0751 0.0676)">G</text>
<text x="0" y="0" font-size="100" font-weight="bold" fill="#26359a" transform="translate(415.77 427.15) scale(0.0775 0.0553)">C</text>
<text x="0" y="0" font-size="100" font-weight="bold" fill="#d0202a" transform="translate(415.99 423.28) scale(0.0861 0.0696)">T</text>
<text x="0" y="0" font-size="100" font-weight="bold" fill="#111" stroke="#111" stroke-width="0.363" transform="translate(7.18 489.7) scale(0.13778 0.12936)">H</text>
<line x1="57" y1="484.5" x2="57" y2="530.5" stroke="#2e2e2e" stroke-width="1.5" />
<line x1="57" y1="540.5" x2="57" y2="586.3" stroke="#2e2e2e" stroke-width="1.5" />
<text x="53.5" y="510.23" font-size="8.8" fill="#2d4f7e" stroke="#2d4f7e" stroke-width="0.2" text-anchor="end" textLength="32.7" lengthAdjust="spacingAndGlyphs">KDM6A</text>
<text x="53.5" y="566.83" font-size="8.8" fill="#2d4f7e" stroke="#2d4f7e" stroke-width="0.2" text-anchor="end" textLength="13" lengthAdjust="spacingAndGlyphs">HA</text>
<text x="88.2" y="496.41" font-size="10.5" fill="#2d4f7e" stroke="#2d4f7e" stroke-width="0.2" text-anchor="end" textLength="11" lengthAdjust="spacingAndGlyphs">WT</text>
<text x="88.2" y="524.51" font-size="10.5" fill="#2d4f7e" stroke="#2d4f7e" stroke-width="0.2" text-anchor="end" textLength="9.9" lengthAdjust="spacingAndGlyphs">KO</text>
<text x="88.2" y="552.71" font-size="10.5" fill="#2d4f7e" stroke="#2d4f7e" stroke-width="0.2" text-anchor="end" textLength="24.4" lengthAdjust="spacingAndGlyphs">HA-tag</text>
<text x="88.2" y="581.31" font-size="10.5" fill="#2d4f7e" stroke="#2d4f7e" stroke-width="0.2" text-anchor="end" textLength="22.2" lengthAdjust="spacingAndGlyphs">no HA</text>
<line x1="114.2" y1="481.2" x2="114.2" y2="504.9" stroke="#231f20" stroke-width="1.1" />
<line x1="111.7" y1="484.2" x2="114.2" y2="484.2" stroke="#231f20" stroke-width="1" />
<line x1="111.7" y1="502.5" x2="115.2" y2="502.5" stroke="#231f20" stroke-width="1" />
<text x="107.2" y="487.03" font-size="9.4" fill="#231f20" stroke="#231f20" stroke-width="0.08" text-anchor="end" textLength="11.8" lengthAdjust="spacingAndGlyphs">0.5</text>
<text x="107.2" y="505.73" font-size="9.4" fill="#231f20" stroke="#231f20" stroke-width="0.08" text-anchor="end" textLength="4.9" lengthAdjust="spacingAndGlyphs">0</text>
<path d="M115,503.1 L115,501.9 L115.4,501.89 L115.8,501.88 L116.2,501.85 L116.6,501.79 L117,501.69 L117.4,501.54 L117.8,501.37 L118.2,501.18 L118.6,500.93 L119,500.77 L119.4,500.97 L119.8,501.22 L120.2,501.31 L120.6,501.32 L121,501.33 L121.4,501.38 L121.81,501.38 L122.21,501.07 L122.61,500.7 L123.01,500.64 L123.41,500.57 L123.81,501.01 L124.21,501.34 L124.61,500.9 L125.01,500.01 L125.41,499.38 L125.81,499.42 L126.21,499.61 L126.61,499.31 L127.01,498.87 L127.41,499.11 L127.81,499.72 L128.21,500.09 L128.61,500.3 L129.01,500.55 L129.41,500.87 L129.81,501.16 L130.21,501.3 L130.61,501.17 L131.01,500.83 L131.41,500.54 L131.81,500.57 L132.21,500.94 L132.61,501.37 L133.01,501.63 L133.41,501.59 L133.81,501.26 L134.21,500.75 L134.61,500.36 L135.01,500.35 L135.42,500.68 L135.82,501.1 L136.22,501.42 L136.62,501.6 L137.02,501.68 L137.42,501.65 L137.82,501.51 L138.22,501.22 L138.62,500.8 L139.02,500.46 L139.42,500.47 L139.82,500.81 L140.22,501.23 L140.62,501.54 L141.02,501.74 L141.42,501.84 L141.82,501.88 L142.22,501.89 L142.62,501.9 L143.02,501.9 L143.42,501.9 L143.82,501.9 L144.22,501.9 L144.22,503.1 Z" fill="#1d4677"/>
<path d="M146.22,503.1 L146.22,501.9 L146.62,501.89 L147.02,501.87 L147.42,501.84 L147.82,501.79 L148.22,501.73 L148.63,501.7 L149.03,501.7 L149.43,501.74 L149.83,501.8 L150.23,501.84 L150.63,501.88 L151.03,501.89 L151.43,501.9 L151.83,501.9 L152.23,501.9 L152.63,501.9 L153.03,501.9 L153.43,501.9 L153.83,501.9 L154.23,501.9 L154.63,501.9 L155.03,501.9 L155.43,501.9 L155.83,501.9 L156.23,501.9 L156.63,501.9 L157.03,501.9 L157.43,501.89 L157.83,501.85 L158.23,501.72 L158.63,501.39 L159.03,500.71 L159.43,499.6 L159.83,498.2 L160.23,497.03 L160.63,496.66 L161.03,497.26 L161.43,498.44 L161.83,499.61 L162.24,500.42 L162.64,500.86 L163.04,501.06 L163.44,501.14 L163.84,501.12 L164.24,501.04 L164.64,500.95 L165.04,500.84 L165.44,500.56 L165.84,500.06 L166.24,499.8 L166.64,499.96 L167.04,500.03 L167.44,499.97 L167.84,500.08 L168.24,500.37 L168.64,500.72 L169.04,501.07 L169.44,501.3 L169.84,501.29 L170.24,500.96 L170.64,500.35 L171.04,499.7 L171.44,499.35 L171.84,499.4 L172.24,499.72 L172.64,500.16 L173.04,500.61 L173.44,501.04 L173.84,501.38 L174.24,501.61 L174.64,501.69 L175.04,501.59 L175.45,501.31 L175.85,501.02 L176.25,500.93 L176.65,500.98 L177.05,501.05 L177.45,501.09 L177.85,501.19 L178.25,501.35 L178.65,501.53 L179.05,501.7 L179.45,501.81 L179.85,501.86 L180.25,501.85 L180.65,501.76 L181.05,501.54 L181.45,501.18 L181.85,500.79 L182.25,500.53 L182.65,500.51 L183.05,500.58 L183.45,500.53 L183.85,500.42 L184.25,500.51 L184.65,500.74 L185.05,501.04 L185.45,501.35 L185.85,501.61 L186.25,501.74 L186.65,501.72 L187.05,501.61 L187.45,501.65 L187.85,501.8 L188.25,501.88 L188.65,501.88 L189.06,501.78 L189.46,501.41 L189.86,500.85 L190.26,500.68 L190.66,501.13 L191.06,501.64 L191.46,501.85 L191.86,501.89 L192.26,501.9 L192.66,501.9 L193.06,501.9 L193.46,501.9 L193.86,501.9 L194.26,501.9 L194.66,501.9 L195.06,501.9 L195.46,501.9 L195.86,501.9 L196.26,501.9 L196.66,501.9 L197.06,501.9 L197.46,501.9 L197.86,501.89 L198.26,501.86 L198.66,501.8 L199.06,501.67 L199.46,501.41 L199.86,500.79 L200.26,499.7 L200.66,499.3 L201.06,500.04 L201.46,500.72 L201.86,501.09 L202.27,501.38 L202.67,501.57 L203.07,501.67 L203.47,501.76 L203.87,501.85 L204.27,501.88 L204.67,501.86 L205.07,501.81 L205.47,501.71 L205.87,501.53 L206.27,501.27 L206.67,500.95 L207.07,500.65 L207.47,500.5 L207.87,500.61 L208.27,500.93 L208.67,501.32 L209.07,501.61 L209.47,501.7 L209.87,501.52 L210.27,501.32 L210.67,501.46 L211.07,501.68 L211.47,501.73 L211.87,501.68 L212.27,501.53 L212.67,501.14 L213.07,500.11 L213.47,497.94 L213.87,494.77 L214.27,492.09 L214.67,491.8 L215.07,494.14 L215.47,497.4 L215.88,499.81 L216.28,500.97 L216.68,501.39 L217.08,501.49 L217.48,501.36 L217.88,500.85 L218.28,499.78 L218.68,498.11 L219.08,496.11 L219.48,494.23 L219.88,492.95 L220.28,492.55 L220.68,493.09 L221.08,494.34 L221.48,495.92 L221.88,497.42 L222.28,498.7 L222.68,499.84 L223.08,500.77 L223.08,503.1 Z" fill="#1d4677"/>
<path d="M225.08,503.1 L225.08,500.93 L225.48,500.67 L225.88,500.52 L226.28,500.53 L226.68,500.66 L227.08,500.85 L227.48,501.03 L227.88,501.19 L228.28,501.25 L228.68,501.13 L229.09,501.06 L229.49,501.26 L229.89,501.38 L230.29,501.26 L230.69,501.07 L231.09,500.91 L231.49,500.84 L231.89,500.9 L232.29,500.98 L232.69,500.81 L233.09,500.59 L233.49,501.01 L233.89,501.58 L234.29,501.74 L234.69,501.66 L235.09,501.48 L235.49,501.11 L235.89,500.11 L236.29,497.36 L236.69,492.08 L237.09,486.36 L237.49,484.86 L237.89,489.11 L238.29,495.21 L238.69,499.16 L239.09,500.49 L239.49,500.5 L239.89,500.22 L240.29,500.06 L240.69,500.14 L241.09,500.43 L241.49,500.81 L241.89,501.08 L242.29,500.98 L242.7,500.52 L243.1,500.28 L243.5,500.71 L243.9,501.35 L244.3,501.72 L244.7,501.83 L245.1,501.85 L245.5,501.82 L245.9,501.74 L246.3,501.57 L246.7,501.29 L247.1,500.93 L247.5,500.56 L247.9,500.26 L248.3,500.09 L248.7,500.03 L249.1,499.9 L249.5,499.45 L249.9,498.76 L250.3,498.44 L250.7,498.47 L251.1,498.78 L251.5,499.42 L251.9,500.13 L252.3,500.53 L252.7,500.47 L253.1,500.22 L253.5,500.12 L253.9,500.06 L254.3,499.98 L254.7,499.92 L255.1,499.91 L255.5,499.94 L255.91,499.99 L256.31,500.04 L256.71,500.07 L257.11,500.13 L257.51,500.28 L257.91,500.53 L258.31,500.85 L258.71,501.16 L259.11,501.35 L259.51,501.29 L259.91,500.85 L260.31,499.94 L260.71,498.67 L261.11,497.47 L261.51,496.85 L261.91,497.09 L262.31,498.02 L262.71,499.21 L263.11,500.2 L263.51,500.63 L263.91,500.17 L264.31,498.71 L264.71,496.63 L265.11,494.92 L265.51,494.64 L265.91,495.97 L266.31,498.03 L266.71,499.82 L267.11,500.94 L267.51,501.48 L267.91,501.71 L268.31,501.79 L268.71,501.82 L269.11,501.83 L269.52,501.82 L269.92,501.79 L270.32,501.74 L270.72,501.66 L271.12,501.58 L271.52,501.58 L271.92,501.68 L272.32,501.78 L272.72,501.84 L273.12,501.87 L273.52,501.89 L273.92,501.89 L274.32,501.85 L274.72,501.8 L275.12,501.76 L275.52,501.74 L275.92,501.71 L276.32,501.62 L276.72,501.54 L277.12,501.61 L277.52,501.78 L277.92,501.85 L278.32,501.82 L278.72,501.67 L279.12,501.41 L279.52,501.11 L279.92,500.83 L280.32,500.44 L280.72,500.31 L281.12,500.84 L281.52,501.24 L281.92,501.02 L282.32,500.74 L282.73,500.73 L283.13,500.6 L283.53,500.19 L283.93,499.93 L284.33,500.01 L284.73,499.98 L285.13,499.25 L285.53,497.56 L285.93,495.31 L286.33,493.63 L286.73,493.59 L287.13,495.19 L287.53,497.48 L287.93,499.51 L288.33,500.78 L288.73,501.33 L289.13,501.4 L289.53,501.18 L289.93,500.77 L290.33,500.41 L290.73,500.42 L291.13,500.62 L291.53,500.76 L291.93,500.85 L292.33,500.99 L292.73,501.2 L293.13,501.44 L293.53,501.58 L293.93,501.59 L294.33,501.62 L294.73,501.69 L295.13,501.71 L295.53,501.64 L295.93,501.54 L296.34,501.47 L296.74,501.49 L297.14,501.58 L297.54,501.7 L297.94,501.75 L298.34,501.67 L298.74,501.42 L299.14,501.03 L299.54,500.59 L299.94,500.26 L300.34,500.29 L300.74,500.78 L301.14,501.28 L301.54,501.45 L301.94,501.35 L302.34,500.93 L302.74,500 L303.14,499.74 L303.54,500.58 L303.94,501.05 L304.34,501.04 L304.74,500.8 L305.14,500.42 L305.54,500.18 L305.94,500.42 L306.34,501.03 L306.74,501.56 L307.14,501.81 L307.54,501.88 L307.94,501.89 L308.34,501.89 L308.74,501.89 L309.14,501.88 L309.55,501.83 L309.95,501.81 L310.35,501.81 L310.75,501.78 L311.15,501.68 L311.55,501.5 L311.95,501.31 L312.35,501.2 L312.75,501.2 L313.15,501.28 L313.55,501.43 L313.95,501.6 L314.35,501.74 L314.75,501.83 L315.15,501.87 L315.55,501.89 L315.95,501.89 L316.35,501.88 L316.75,501.87 L317.15,501.86 L317.55,501.87 L317.95,501.88 L318.35,501.88 L318.75,501.86 L319.15,501.8 L319.55,501.65 L319.95,501.39 L320.35,501.1 L320.75,500.98 L321.15,501.14 L321.55,501.45 L321.95,501.68 L322.35,501.7 L322.75,501.5 L323.16,501.18 L323.56,500.95 L323.96,501.03 L324.36,501.34 L324.76,501.63 L325.16,501.75 L325.56,501.67 L325.96,501.43 L326.36,501.04 L326.76,500.43 L327.16,499.64 L327.56,499.48 L327.96,499.96 L328.36,500.09 L328.76,499.96 L329.16,499.96 L329.56,500.13 L329.96,500.39 L330.36,500.7 L330.76,501.04 L331.16,501.35 L331.56,501.58 L331.96,501.73 L332.36,501.79 L332.36,503.1 Z" fill="#1d4677"/>
<path d="M334.76,503.1 L334.76,501.36 L335.16,501.47 L335.56,501.62 L335.96,501.73 L336.37,501.8 L336.77,501.8 L337.17,501.76 L337.57,501.72 L337.97,501.68 L338.37,501.68 L338.77,501.71 L339.17,501.77 L339.57,501.82 L339.97,501.85 L340.37,501.83 L340.77,501.63 L341.17,501.1 L341.57,500.47 L341.97,500.24 L342.37,500.24 L342.77,500.07 L343.17,499.9 L343.57,500.02 L343.97,500.37 L344.37,500.66 L344.77,500.7 L345.17,500.46 L345.57,500.04 L345.97,499.58 L346.37,499.17 L346.77,498.92 L347.17,498.87 L347.57,499.04 L347.97,499.34 L348.37,499.62 L348.77,499.74 L349.17,499.61 L349.57,499.28 L349.98,498.92 L350.38,498.75 L350.78,498.91 L351.18,499.4 L351.58,500.05 L351.98,500.63 L352.38,500.92 L352.78,500.83 L353.18,500.39 L353.58,499.78 L353.98,499.27 L354.38,499.07 L354.78,499.21 L355.18,499.52 L355.58,499.8 L355.98,499.93 L356.38,499.99 L356.78,500.16 L357.18,500.46 L357.58,500.67 L357.98,500.62 L358.38,500.38 L358.78,500.06 L359.18,499.6 L359.58,499.5 L359.98,499.99 L360.38,500.51 L360.78,500.98 L361.18,501.41 L361.58,501.68 L361.98,501.8 L362.38,501.83 L362.78,501.84 L363.19,501.86 L363.59,501.86 L363.99,501.85 L364.39,501.69 L364.79,501.34 L365.19,501.17 L365.59,501.46 L365.99,501.78 L366.39,501.88 L366.79,501.88 L367.19,501.8 L367.59,501.62 L367.99,501.39 L368.39,501.29 L368.79,501.42 L369.19,501.65 L369.59,501.81 L369.99,501.87 L370.39,501.87 L370.79,501.84 L371.19,501.66 L371.59,501.05 L371.99,500.58 L372.39,501.13 L372.79,501.6 L373.19,501.74 L373.59,501.79 L373.99,501.76 L374.39,501.65 L374.79,501.52 L375.19,501.46 L375.59,501.42 L375.99,501.3 L376.39,501.06 L376.8,500.73 L377.2,500.41 L377.6,500.16 L378,500.08 L378.4,500.34 L378.8,500.86 L378.8,503.1 Z" fill="#1d4677"/>
<path d="M379.6,503.1 L379.6,501.32 L380,500.81 L380.4,499.77 L380.8,499.22 L381.2,499.29 L381.6,499.24 L382,499.15 L382.4,499.31 L382.8,499.73 L383.2,500.28 L383.2,503.1 Z" fill="#1d4677"/>
<line x1="114.2" y1="509.2" x2="114.2" y2="533" stroke="#231f20" stroke-width="1.1" />
<line x1="111.7" y1="512.2" x2="114.2" y2="512.2" stroke="#231f20" stroke-width="1" />
<line x1="111.7" y1="530.6" x2="115.2" y2="530.6" stroke="#231f20" stroke-width="1" />
<text x="107.2" y="515.03" font-size="9.4" fill="#231f20" stroke="#231f20" stroke-width="0.08" text-anchor="end" textLength="11.8" lengthAdjust="spacingAndGlyphs">0.5</text>
<text x="107.2" y="533.83" font-size="9.4" fill="#231f20" stroke="#231f20" stroke-width="0.08" text-anchor="end" textLength="4.9" lengthAdjust="spacingAndGlyphs">0</text>
<path d="M115,531.2 L115,529.59 L115.4,529.54 L115.8,529.56 L116.2,529.61 L116.6,529.66 L117,529.69 L117.4,529.71 L117.8,529.76 L118.2,529.82 L118.6,529.89 L119,529.94 L119.4,529.98 L119.8,529.99 L120.2,530 L120.6,530 L121,530 L121.4,529.99 L121.81,529.96 L122.21,529.84 L122.61,529.43 L123.01,528.94 L123.41,528.9 L123.81,528.95 L124.21,528.93 L124.61,529.03 L125.01,529.19 L125.41,529.23 L125.81,529.06 L126.21,528.87 L126.61,528.82 L127.01,528.81 L127.41,528.75 L127.81,528.69 L128.21,528.72 L128.61,528.87 L129.01,529.12 L129.41,529.41 L129.81,529.66 L130.21,529.83 L130.61,529.92 L131.01,529.97 L131.41,529.99 L131.81,530 L132.21,530 L132.61,530 L133.01,530 L133.41,530 L133.81,530 L134.21,530 L134.61,530 L135.01,530 L135.42,530 L135.82,529.97 L136.22,529.91 L136.62,529.84 L137.02,529.82 L137.42,529.89 L137.82,529.96 L138.22,529.99 L138.62,529.99 L139.02,529.98 L139.42,529.96 L139.82,529.94 L140.22,529.9 L140.62,529.83 L141.02,529.78 L141.42,529.81 L141.82,529.86 L142.22,529.85 L142.62,529.82 L143.02,529.81 L143.42,529.8 L143.82,529.74 L144.22,529.64 L144.62,529.53 L145.02,529.46 L145.02,531.2 Z" fill="#1d4677"/>
<path d="M146.62,531.2 L146.62,529.69 L147.02,529.8 L147.42,529.88 L147.82,529.91 L148.22,529.93 L148.63,529.94 L149.03,529.93 L149.43,529.89 L149.83,529.87 L150.23,529.88 L150.63,529.91 L151.03,529.93 L151.43,529.9 L151.83,529.81 L152.23,529.66 L152.63,529.5 L153.03,529.42 L153.43,529.44 L153.83,529.55 L154.23,529.66 L154.63,529.66 L155.03,529.59 L155.43,529.61 L155.83,529.67 L156.23,529.57 L156.63,529.24 L157.03,528.85 L157.43,528.64 L157.83,528.77 L158.23,529.15 L158.63,529.55 L159.03,529.81 L159.43,529.9 L159.83,529.86 L160.23,529.72 L160.63,529.5 L161.03,529.28 L161.43,529.13 L161.83,529.08 L162.24,529.13 L162.64,529.29 L163.04,529.5 L163.44,529.69 L163.84,529.81 L164.24,529.84 L164.64,529.76 L165.04,529.56 L165.44,529.29 L165.84,529.15 L166.24,529.2 L166.64,529.33 L167.04,529.48 L167.44,529.6 L167.84,529.72 L168.24,529.82 L168.64,529.9 L169.04,529.96 L169.44,529.98 L169.84,529.99 L170.24,529.99 L170.64,529.98 L171.04,529.97 L171.44,529.96 L171.84,529.96 L172.24,529.97 L172.64,529.99 L173.04,530 L173.44,530 L173.84,530 L174.24,529.98 L174.64,529.95 L175.04,529.9 L175.45,529.83 L175.85,529.73 L176.25,529.53 L176.65,529.18 L177.05,528.83 L177.45,528.71 L177.85,528.86 L178.25,529.09 L178.65,529.24 L179.05,529.29 L179.45,529.41 L179.85,529.6 L180.25,529.74 L180.65,529.84 L181.05,529.91 L181.45,529.96 L181.85,529.98 L182.25,529.99 L182.65,529.98 L183.05,529.91 L183.45,529.71 L183.85,529.39 L184.25,529.19 L184.65,529.31 L185.05,529.61 L185.45,529.83 L185.85,529.86 L186.25,529.78 L186.65,529.7 L187.05,529.62 L187.45,529.52 L187.85,529.44 L188.25,529.45 L188.65,529.53 L189.06,529.64 L189.46,529.75 L189.86,529.82 L190.26,529.75 L190.66,529.61 L191.06,529.73 L191.46,529.91 L191.86,529.96 L192.26,529.93 L192.66,529.86 L193.06,529.76 L193.46,529.67 L193.86,529.62 L194.26,529.66 L194.66,529.75 L195.06,529.84 L195.46,529.84 L195.86,529.71 L196.26,529.44 L196.66,529.15 L197.06,529.02 L197.46,529.06 L197.86,529.17 L198.26,529.27 L198.66,529.38 L199.06,529.52 L199.46,529.68 L199.86,529.81 L200.26,529.91 L200.66,529.96 L201.06,529.97 L201.46,529.94 L201.86,529.85 L202.27,529.66 L202.67,529.34 L203.07,528.94 L203.47,528.57 L203.87,528.32 L204.27,528.27 L204.67,528.41 L205.07,528.64 L205.47,528.83 L205.87,528.92 L206.27,528.9 L206.67,528.86 L207.07,528.88 L207.47,529.01 L207.87,529.23 L208.27,529.44 L208.67,529.53 L209.07,529.37 L209.47,528.96 L209.87,528.6 L210.27,528.67 L210.67,529.12 L211.07,529.59 L211.47,529.83 L211.87,529.91 L212.27,529.96 L212.67,529.97 L213.07,529.92 L213.47,529.8 L213.87,529.55 L214.27,529.15 L214.67,528.69 L215.07,528.42 L215.47,528.47 L215.88,528.7 L216.28,528.91 L216.68,529.02 L217.08,529.11 L217.48,529.25 L217.88,529.41 L218.28,529.47 L218.68,529.38 L219.08,529.23 L219.48,529.12 L219.88,528.99 L220.28,528.96 L220.68,529.24 L221.08,529.6 L221.48,529.81 L221.88,529.88 L222.28,529.92 L222.68,529.95 L223.08,529.97 L223.48,529.96 L223.88,529.92 L224.28,529.86 L224.68,529.78 L225.08,529.71 L225.48,529.68 L225.88,529.7 L226.28,529.77 L226.68,529.84 L227.08,529.81 L227.48,529.57 L227.88,529.38 L228.28,529.61 L228.68,529.89 L229.09,529.99 L229.49,530 L229.89,530 L230.29,529.99 L230.69,529.98 L231.09,529.96 L231.09,531.2 Z" fill="#1d4677"/>
<path d="M233.09,531.2 L233.09,529.75 L233.49,529.77 L233.89,529.81 L234.29,529.81 L234.69,529.78 L235.09,529.71 L235.49,529.63 L235.89,529.59 L236.29,529.64 L236.69,529.74 L237.09,529.84 L237.49,529.84 L237.89,529.7 L238.29,529.71 L238.69,529.9 L239.09,529.99 L239.49,530 L239.89,529.99 L240.29,529.98 L240.69,529.95 L241.09,529.9 L241.49,529.83 L241.89,529.74 L242.29,529.66 L242.7,529.63 L243.1,529.66 L243.5,529.75 L243.9,529.84 L244.3,529.9 L244.7,529.91 L245.1,529.86 L245.5,529.73 L245.9,529.53 L246.3,529.3 L246.7,529.09 L247.1,528.98 L247.5,529.01 L247.9,529.11 L248.3,529.22 L248.7,529.27 L249.1,529.19 L249.5,528.92 L249.9,528.69 L250.3,528.83 L250.7,529.13 L251.1,529.35 L251.5,529.54 L251.9,529.69 L252.3,529.77 L252.7,529.8 L253.1,529.81 L253.5,529.81 L253.9,529.78 L254.3,529.74 L254.7,529.64 L255.1,529.4 L255.5,529.15 L255.91,529.27 L256.31,529.52 L256.71,529.59 L257.11,529.57 L257.51,529.6 L257.91,529.67 L258.31,529.7 L258.71,529.65 L259.11,529.52 L259.51,529.34 L259.91,529.16 L260.31,529.03 L260.71,528.96 L261.11,529.01 L261.51,529.18 L261.91,529.41 L262.31,529.62 L262.71,529.76 L263.11,529.78 L263.51,529.64 L263.91,529.43 L264.31,529.37 L264.71,529.56 L265.11,529.77 L265.51,529.84 L265.91,529.78 L266.31,529.67 L266.71,529.59 L267.11,529.6 L267.51,529.69 L267.91,529.81 L268.31,529.91 L268.71,529.96 L269.11,529.99 L269.52,529.99 L269.92,529.98 L270.32,529.97 L270.72,529.95 L271.12,529.94 L271.52,529.94 L271.92,529.96 L272.32,529.97 L272.72,529.99 L273.12,529.99 L273.52,529.99 L273.92,529.97 L274.32,529.92 L274.72,529.81 L275.12,529.64 L275.52,529.42 L275.92,529.24 L276.32,529.19 L276.72,529.3 L277.12,529.51 L277.52,529.72 L277.92,529.86 L278.32,529.9 L278.72,529.77 L279.12,529.53 L279.52,529.48 L279.92,529.71 L280.32,529.91 L280.72,529.97 L281.12,529.93 L281.52,529.82 L281.92,529.61 L282.32,529.33 L282.73,529.03 L283.13,528.82 L283.53,528.74 L283.93,528.77 L284.33,528.85 L284.73,528.95 L285.13,528.98 L285.53,529.07 L285.93,529.46 L286.33,529.79 L286.73,529.92 L287.13,529.96 L287.53,529.97 L287.93,529.95 L288.33,529.93 L288.73,529.91 L289.13,529.88 L289.53,529.84 L289.93,529.83 L290.33,529.87 L290.73,529.92 L291.13,529.95 L291.53,529.95 L291.53,531.2 Z" fill="#1d4677"/>
<path d="M293.13,531.2 L293.13,529.53 L293.53,529.63 L293.93,529.79 L294.33,529.91 L294.73,529.95 L295.13,529.91 L295.53,529.81 L295.93,529.67 L296.34,529.54 L296.74,529.46 L297.14,529.37 L297.54,529.16 L297.94,528.81 L298.34,528.41 L298.74,528.15 L299.14,528.12 L299.54,528.27 L299.94,528.52 L300.34,528.83 L300.74,529.12 L301.14,529.29 L301.54,529.36 L301.94,529.4 L302.34,529.47 L302.74,529.58 L303.14,529.71 L303.54,529.82 L303.94,529.9 L304.34,529.95 L304.74,529.98 L305.14,529.99 L305.54,529.99 L305.94,529.98 L306.34,529.95 L306.74,529.92 L307.14,529.85 L307.54,529.79 L307.94,529.76 L308.34,529.71 L308.74,529.57 L309.14,529.32 L309.55,529.02 L309.95,528.78 L310.35,528.71 L310.75,528.75 L311.15,528.8 L311.55,528.85 L311.95,528.95 L312.35,529.14 L312.75,529.35 L313.15,529.51 L313.55,529.56 L313.95,529.52 L314.35,529.43 L314.75,529.3 L315.15,529.22 L315.55,529.31 L315.95,529.43 L316.35,529.48 L316.75,529.54 L317.15,529.63 L317.55,529.74 L317.95,529.83 L318.35,529.87 L318.75,529.88 L319.15,529.87 L319.55,529.86 L319.95,529.85 L320.35,529.86 L320.75,529.9 L321.15,529.95 L321.55,529.98 L321.95,529.98 L322.35,529.95 L322.75,529.87 L323.16,529.71 L323.56,529.45 L323.96,529.14 L324.36,528.86 L324.76,528.7 L325.16,528.72 L325.56,528.9 L325.96,529.19 L326.36,529.5 L326.76,529.71 L327.16,529.77 L327.56,529.71 L327.96,529.67 L328.36,529.74 L328.76,529.85 L329.16,529.88 L329.56,529.8 L329.96,529.71 L330.36,529.67 L330.76,529.67 L331.16,529.71 L331.56,529.74 L331.96,529.76 L332.36,529.77 L332.76,529.79 L333.16,529.82 L333.56,529.85 L333.96,529.88 L334.36,529.89 L334.76,529.88 L335.16,529.86 L335.56,529.83 L335.96,529.79 L336.37,529.77 L336.77,529.77 L337.17,529.8 L337.57,529.84 L337.97,529.89 L337.97,531.2 Z" fill="#1d4677"/>
<path d="M339.97,531.2 L339.97,530 L340.37,530 L340.77,530 L341.17,529.98 L341.57,529.92 L341.97,529.75 L342.37,529.5 L342.77,529.35 L343.17,529.44 L343.57,529.64 L343.97,529.78 L344.37,529.82 L344.77,529.82 L345.17,529.74 L345.57,529.55 L345.97,529.27 L346.37,528.97 L346.77,528.75 L347.17,528.65 L347.57,528.64 L347.97,528.82 L348.37,529.22 L348.77,529.64 L349.17,529.88 L349.57,529.96 L349.98,529.97 L350.38,529.93 L350.78,529.83 L351.18,529.73 L351.58,529.73 L351.98,529.82 L352.38,529.9 L352.78,529.91 L353.18,529.86 L353.58,529.82 L353.98,529.82 L354.38,529.87 L354.78,529.91 L355.18,529.94 L355.58,529.94 L355.98,529.94 L356.38,529.95 L356.78,529.96 L357.18,529.98 L357.58,529.99 L357.98,529.99 L358.38,530 L358.78,530 L359.18,529.99 L359.58,529.98 L359.98,529.95 L360.38,529.89 L360.78,529.8 L361.18,529.67 L361.58,529.52 L361.98,529.4 L362.38,529.23 L362.78,529.08 L363.19,529.17 L363.59,529.16 L363.99,529.02 L364.39,528.98 L364.79,529.12 L365.19,529.32 L365.59,529.45 L365.99,529.48 L366.39,529.47 L366.79,529.49 L367.19,529.56 L367.59,529.67 L367.99,529.78 L368.39,529.86 L368.79,529.89 L369.19,529.83 L369.59,529.63 L369.99,529.31 L370.39,529.01 L370.79,528.92 L371.19,529.06 L371.59,529.24 L371.99,529.22 L372.39,529.09 L372.79,529.16 L373.19,529.39 L373.59,529.48 L373.99,529.44 L374.39,529.49 L374.79,529.66 L375.19,529.83 L375.59,529.94 L375.99,529.98 L376.39,529.98 L376.8,529.93 L377.2,529.81 L377.6,529.69 L378,529.65 L378.4,529.61 L378.8,529.44 L379.2,529.21 L379.6,529.03 L380,528.98 L380.4,529.06 L380.8,529.22 L381.2,529.44 L381.6,529.67 L382,529.85 L382.4,529.94 L382.8,529.97 L383.2,529.98 L383.2,531.2 Z" fill="#1d4677"/>
<line x1="114.2" y1="537.5" x2="114.2" y2="561.2" stroke="#231f20" stroke-width="1.1" />
<line x1="111.7" y1="540.5" x2="114.2" y2="540.5" stroke="#231f20" stroke-width="1" />
<line x1="111.7" y1="558.8" x2="115.2" y2="558.8" stroke="#231f20" stroke-width="1" />
<text x="107.2" y="543.33" font-size="9.4" fill="#231f20" stroke="#231f20" stroke-width="0.08" text-anchor="end" textLength="11.8" lengthAdjust="spacingAndGlyphs">0.7</text>
<text x="107.2" y="562.03" font-size="9.4" fill="#231f20" stroke="#231f20" stroke-width="0.08" text-anchor="end" textLength="4.9" lengthAdjust="spacingAndGlyphs">0</text>
<path d="M115,559.4 L115,558.14 L115.4,558.04 L115.8,557.81 L116.2,557.45 L116.6,557.12 L117,557.03 L117.4,557.25 L117.8,557.58 L118.2,557.8 L118.6,557.87 L119,557.9 L119.4,557.97 L119.8,558.06 L120.2,558.09 L120.6,557.99 L121,557.74 L121.4,557.47 L121.81,557.43 L122.21,557.65 L122.61,557.94 L123.01,558.11 L123.41,558.18 L123.81,558.19 L124.21,558.19 L124.61,558.19 L125.01,558.19 L125.41,558.19 L125.81,558.18 L126.21,558.18 L126.61,558.18 L127.01,558.19 L127.41,558.19 L127.81,558.19 L128.21,558.2 L128.61,558.2 L129.01,558.2 L129.41,558.2 L129.81,558.19 L130.21,558.18 L130.61,558.14 L131.01,558.08 L131.41,557.99 L131.81,557.91 L132.21,557.83 L132.61,557.72 L133.01,557.52 L133.41,557.24 L133.81,557.01 L134.21,556.98 L134.61,557.15 L135.01,557.39 L135.42,557.6 L135.82,557.73 L136.22,557.81 L136.62,557.87 L137.02,557.91 L137.42,557.94 L137.82,557.91 L138.22,557.81 L138.62,557.67 L139.02,557.54 L139.42,557.45 L139.82,557.44 L140.22,557.48 L140.62,557.57 L141.02,557.68 L141.42,557.78 L141.82,557.87 L142.22,558 L142.62,558.12 L143.02,558.16 L143.42,558.17 L143.82,558.18 L144.22,558.18 L144.62,558.19 L145.02,558.19 L145.42,558.19 L145.82,558.18 L146.22,558.1 L146.62,557.81 L147.02,557.39 L147.42,557.28 L147.82,557.63 L148.22,557.99 L148.63,558.12 L149.03,558.12 L149.43,558.11 L149.83,558.11 L150.23,558.09 L150.63,558 L151.03,557.81 L151.43,557.59 L151.83,557.48 L152.23,557.55 L152.63,557.75 L153.03,557.97 L153.43,558.11 L153.83,558.17 L154.23,558.19 L154.63,558.2 L155.03,558.2 L155.43,558.2 L155.83,558.19 L156.23,558.16 L156.63,558.09 L157.03,557.94 L157.43,557.7 L157.83,557.4 L158.23,557.03 L158.63,556.62 L159.03,556.11 L159.43,555.28 L159.83,554.03 L160.23,552.78 L160.63,552.34 L161.03,553.12 L161.43,554.58 L161.83,555.86 L162.24,556.58 L162.64,556.92 L163.04,557.15 L163.44,557.35 L163.84,557.51 L164.24,557.69 L164.64,557.87 L165.04,558.01 L165.44,558.08 L165.84,558.1 L166.24,558.1 L166.64,558.1 L167.04,558.12 L167.44,558.13 L167.44,559.4 Z" fill="#1d4677"/>
<path d="M169.04,559.4 L169.04,557.99 L169.44,557.77 L169.84,557.51 L170.24,557.31 L170.64,557.29 L171.04,557.39 L171.44,557.52 L171.84,557.65 L172.24,557.78 L172.64,557.91 L173.04,558.03 L173.44,558.11 L173.84,558.15 L174.24,558.18 L174.64,558.19 L175.04,558.19 L175.45,558.2 L175.85,558.2 L176.25,558.2 L176.65,558.2 L177.05,558.2 L177.45,558.2 L177.85,558.18 L178.25,558.15 L178.65,558.05 L179.05,557.87 L179.45,557.61 L179.85,557.31 L180.25,557.17 L180.65,557.26 L181.05,557.48 L181.45,557.72 L181.85,557.89 L182.25,557.96 L182.65,557.97 L183.05,557.96 L183.45,557.93 L183.85,557.72 L184.25,557.18 L184.65,556.9 L185.05,557.18 L185.45,557.4 L185.85,557.54 L186.25,557.73 L186.65,557.86 L187.05,557.86 L187.45,557.81 L187.85,557.78 L188.25,557.77 L188.65,557.75 L189.06,557.7 L189.46,557.61 L189.86,557.42 L190.26,557.15 L190.66,557 L191.06,557.14 L191.46,557.44 L191.86,557.69 L192.26,557.86 L192.66,557.99 L193.06,558.08 L193.46,558.13 L193.86,558.13 L194.26,558.09 L194.66,557.99 L195.06,557.84 L195.46,557.67 L195.86,557.53 L196.26,557.49 L196.66,557.54 L197.06,557.65 L197.46,557.76 L197.86,557.8 L198.26,557.7 L198.66,557.38 L199.06,556.84 L199.46,556.22 L199.86,555.76 L200.26,555.43 L200.66,555.61 L201.06,556.59 L201.46,557.32 L201.86,557.64 L202.27,557.85 L202.67,557.99 L203.07,558.07 L203.47,558.08 L203.87,558.03 L204.27,557.96 L204.67,557.9 L205.07,557.87 L205.47,557.89 L205.87,557.97 L206.27,558.05 L206.67,558.1 L207.07,558.02 L207.47,557.71 L207.87,557.33 L208.27,557.32 L208.67,557.53 L209.07,557.64 L209.47,557.82 L209.87,558.05 L210.27,558.16 L210.67,558.18 L211.07,558.16 L211.47,558.09 L211.87,557.93 L212.27,557.61 L212.67,557.04 L213.07,556.16 L213.47,555.09 L213.87,554.16 L214.27,553.79 L214.67,554.06 L215.07,554.75 L215.47,555.86 L215.88,557.08 L216.28,557.83 L216.68,558.1 L217.08,558.18 L217.48,558.16 L217.88,557.94 L218.28,557.5 L218.68,557.31 L219.08,557.15 L219.48,555.98 L219.88,553.29 L220.28,549.17 L220.68,544.68 L221.08,541.87 L221.48,542.42 L221.88,546.07 L222.28,550.78 L222.68,554.56 L223.08,556.71 L223.48,557.58 L223.88,557.75 L224.28,557.61 L224.68,557.37 L225.08,557.13 L225.48,556.95 L225.88,556.89 L226.28,557.02 L226.68,557.35 L227.08,557.72 L227.48,557.98 L227.88,558.11 L228.28,558.16 L228.68,558.16 L229.09,558.13 L229.49,558.07 L229.89,557.95 L230.29,557.77 L230.69,557.61 L231.09,557.52 L231.49,557.54 L231.89,557.63 L232.29,557.76 L232.69,557.9 L233.09,558.02 L233.49,558.1 L233.89,558.15 L234.29,558.16 L234.69,558.08 L235.09,557.86 L235.49,557.55 L235.89,557.43 L236.29,557.59 L236.69,557.74 L237.09,557.62 L237.49,557.25 L237.89,557.05 L238.29,557.27 L238.69,557.52 L239.09,557.36 L239.49,556.94 L239.89,556.82 L240.29,557.2 L240.69,557.72 L241.09,558.04 L241.49,558.16 L241.89,558.19 L242.29,558.2 L242.7,558.19 L243.1,558.18 L243.5,558.13 L243.9,558.04 L244.3,557.88 L244.3,559.4 Z" fill="#1d4677"/>
<path d="M245.9,559.4 L245.9,557.51 L246.3,557.64 L246.7,557.74 L247.1,557.74 L247.5,557.7 L247.9,557.72 L248.3,557.86 L248.7,558.01 L249.1,558.1 L249.5,558.14 L249.9,558.13 L250.3,558.09 L250.7,557.99 L251.1,557.81 L251.5,557.57 L251.9,557.4 L252.3,557.4 L252.7,557.57 L253.1,557.8 L253.5,557.99 L253.9,558.11 L254.3,558.15 L254.7,558.14 L255.1,558.09 L255.5,558.04 L255.91,558 L256.31,557.99 L256.71,557.99 L257.11,558.01 L257.51,558.04 L257.91,558.07 L258.31,558.05 L258.71,557.91 L259.11,557.63 L259.51,557.38 L259.91,557.4 L260.31,557.59 L260.71,557.63 L261.11,557.32 L261.51,556.64 L261.91,555.53 L262.31,553.89 L262.71,551.97 L263.11,550.56 L263.51,550.39 L263.91,551.46 L264.31,553.09 L264.71,554.3 L265.11,554.15 L265.51,552.45 L265.91,550.46 L266.31,550.05 L266.71,551.77 L267.11,554.3 L267.51,556.12 L267.91,556.85 L268.31,556.94 L268.71,556.93 L269.11,557.06 L269.52,557.32 L269.92,557.62 L270.32,557.82 L270.72,557.89 L271.12,557.84 L271.52,557.71 L271.92,557.55 L272.32,557.4 L272.72,557.24 L273.12,557.04 L273.52,556.78 L273.92,556.55 L274.32,556.51 L274.72,556.69 L275.12,556.94 L275.52,557.12 L275.92,557.21 L276.32,557.29 L276.72,557.41 L277.12,557.57 L277.52,557.75 L277.92,557.91 L278.32,558.02 L278.72,558.07 L279.12,558.07 L279.52,558.04 L279.92,558 L280.32,557.96 L280.72,557.95 L281.12,557.95 L281.52,557.97 L281.92,557.99 L282.32,557.99 L282.73,558.01 L283.13,558.06 L283.53,558.11 L283.93,558.13 L284.33,558.1 L284.73,557.95 L285.13,557.47 L285.53,556.32 L285.93,554.53 L286.33,552.9 L286.73,552.51 L287.13,553.4 L287.53,554.58 L287.93,555.4 L288.33,556.02 L288.73,556.61 L289.13,557.14 L289.13,559.4 Z" fill="#1d4677"/>
<path d="M290.33,559.4 L290.33,557.94 L290.73,558.03 L291.13,558.03 L291.53,558.07 L291.93,558.15 L292.33,558.19 L292.73,558.2 L293.13,558.2 L293.53,558.2 L293.93,558.2 L294.33,558.2 L294.73,558.2 L295.13,558.2 L295.53,558.2 L295.93,558.2 L296.34,558.2 L296.74,558.19 L297.14,558.16 L297.54,558.05 L297.94,557.81 L298.34,557.51 L298.74,557.34 L299.14,557.45 L299.54,557.71 L299.94,557.9 L300.34,557.95 L300.74,557.96 L301.14,558.03 L301.54,558.12 L301.94,558.18 L302.34,558.19 L302.74,558.18 L303.14,558.15 L303.54,558.13 L303.94,558.13 L304.34,558.16 L304.74,558.18 L305.14,558.2 L305.54,558.2 L305.94,558.2 L306.34,558.2 L306.74,558.2 L307.14,558.2 L307.54,558.19 L307.94,558.18 L308.34,558.16 L308.74,558.17 L309.14,558.17 L309.55,558.14 L309.95,558.07 L310.35,557.99 L310.75,557.96 L311.15,557.97 L311.55,558 L311.95,557.99 L312.35,557.93 L312.75,557.81 L313.15,557.6 L313.55,557.28 L313.95,556.92 L314.35,556.64 L314.75,556.57 L315.15,556.77 L315.55,557.16 L315.95,557.56 L316.35,557.84 L316.75,557.93 L317.15,557.75 L317.55,557.27 L317.95,557 L318.35,557 L318.75,556.93 L319.15,556.94 L319.55,557.12 L319.95,557.41 L320.35,557.72 L320.75,557.95 L321.15,558.09 L321.55,558.15 L321.95,558.15 L322.35,558.09 L322.75,558.08 L323.16,558.14 L323.56,558.13 L323.96,558.05 L324.36,557.88 L324.76,557.6 L325.16,557.26 L325.56,557 L325.96,556.83 L326.36,556.68 L326.76,557.08 L327.16,557.69 L327.56,557.89 L327.96,557.81 L328.36,557.5 L328.76,557.06 L329.16,556.92 L329.56,557.23 L329.96,557.62 L330.36,557.84 L330.76,557.89 L331.16,557.84 L331.56,557.72 L331.96,557.58 L332.36,557.47 L332.76,557.38 L333.16,557.27 L333.56,557.1 L333.96,556.92 L334.36,556.77 L334.76,556.71 L335.16,556.76 L335.56,556.89 L335.96,557.11 L336.37,557.38 L336.77,557.66 L337.17,557.89 L337.57,558.05 L337.97,558.13 L338.37,558.18 L338.77,558.19 L339.17,558.2 L339.57,558.2 L339.97,558.2 L340.37,558.2 L340.77,558.2 L341.17,558.2 L341.57,558.2 L341.97,558.2 L342.37,558.2 L342.77,558.2 L343.17,558.2 L343.57,558.2 L343.97,558.2 L344.37,558.19 L344.77,558.17 L345.17,558.1 L345.57,557.93 L345.97,557.66 L346.37,557.36 L346.77,557.11 L347.17,556.88 L347.57,556.68 L347.97,556.57 L348.37,556.55 L348.77,556.49 L349.17,556.21 L349.57,555.82 L349.98,555.69 L350.38,555.82 L350.78,556.22 L351.18,556.83 L351.58,557.19 L351.98,557.44 L352.38,557.73 L352.78,557.9 L353.18,557.97 L353.58,557.98 L353.98,557.93 L354.38,557.81 L354.78,557.63 L355.18,557.41 L355.58,557.18 L355.98,557.01 L356.38,556.93 L356.78,556.92 L357.18,556.99 L357.58,557.15 L357.98,557.43 L358.38,557.73 L358.78,557.96 L359.18,558.09 L359.58,558.13 L359.98,558.03 L360.38,557.6 L360.78,556.89 L361.18,556.95 L361.58,557.75 L361.98,558.11 L362.38,558.13 L362.78,558.07 L363.19,558 L363.59,557.94 L363.99,557.93 L364.39,557.97 L364.79,558.04 L365.19,558.11 L365.59,558.15 L365.99,558.12 L366.39,557.98 L366.79,557.67 L367.19,557.35 L367.59,557.27 L367.99,557.47 L368.39,557.68 L368.79,557.65 L369.19,557.4 L369.59,557.06 L369.99,556.88 L370.39,556.97 L370.79,557.26 L370.79,559.4 Z" fill="#1d4677"/>
<path d="M371.59,559.4 L371.59,557.77 L371.99,557.7 L372.39,557.33 L372.79,557.01 L373.19,557.26 L373.59,557.74 L373.99,558 L374.39,558.1 L374.79,558.14 L375.19,558.16 L375.59,558.16 L375.99,558.14 L376.39,558.12 L376.8,558.08 L377.2,558.06 L377.6,558.06 L378,558.07 L378.4,558.09 L378.8,558.09 L379.2,558.08 L379.6,558.06 L380,558.05 L380.4,558.06 L380.8,558.09 L381.2,558.13 L381.6,558.16 L382,558.18 L382.4,558.19 L382.8,558.2 L383.2,558.2 L383.2,559.4 Z" fill="#1d4677"/>
<line x1="114.2" y1="565" x2="114.2" y2="589.4" stroke="#231f20" stroke-width="1.1" />
<line x1="111.7" y1="568" x2="114.2" y2="568" stroke="#231f20" stroke-width="1" />
<line x1="111.7" y1="587" x2="115.2" y2="587" stroke="#231f20" stroke-width="1" />
<text x="107.2" y="570.83" font-size="9.4" fill="#231f20" stroke="#231f20" stroke-width="0.08" text-anchor="end" textLength="11.8" lengthAdjust="spacingAndGlyphs">0.7</text>
<text x="107.2" y="590.23" font-size="9.4" fill="#231f20" stroke="#231f20" stroke-width="0.08" text-anchor="end" textLength="4.9" lengthAdjust="spacingAndGlyphs">0</text>
<path d="M115,587.6 L115,586.34 L115.4,586.21 L115.8,586 L116.2,585.88 L116.6,585.97 L117,586.16 L117.4,586.28 L117.8,586.24 L118.2,586.1 L118.6,585.9 L119,585.68 L119.4,585.65 L119.8,585.92 L120.2,586.16 L120.6,586.23 L121,586.24 L121.4,586.27 L121.81,586.31 L122.21,586.35 L122.61,586.37 L123.01,586.38 L123.41,586.38 L123.81,586.38 L124.21,586.38 L124.61,586.39 L125.01,586.38 L125.41,586.36 L125.81,586.32 L126.21,586.23 L126.61,586.1 L127.01,585.92 L127.41,585.69 L127.81,585.54 L128.21,585.64 L128.61,585.89 L129.01,586.08 L129.41,586.21 L129.81,586.3 L130.21,586.35 L130.61,586.38 L131.01,586.39 L131.41,586.4 L131.81,586.4 L132.21,586.4 L132.61,586.4 L133.01,586.39 L133.41,586.38 L133.81,586.35 L134.21,586.3 L134.61,586.22 L135.01,586.1 L135.42,585.86 L135.82,585.49 L136.22,585.31 L136.62,585.18 L137.02,584.71 L137.42,584.15 L137.82,584.09 L138.22,584.55 L138.62,585.13 L139.02,585.6 L139.42,585.83 L139.82,585.68 L140.22,585.35 L140.62,585.45 L141.02,585.9 L141.42,586.2 L141.82,586.32 L142.22,586.37 L142.62,586.38 L143.02,586.38 L143.42,586.36 L143.82,586.31 L144.22,586.22 L144.62,586.04 L145.02,585.75 L145.42,585.47 L145.82,585.34 L146.22,585.3 L146.62,585.33 L147.02,585.54 L147.42,585.86 L147.82,586.11 L148.22,586.24 L148.63,586.29 L149.03,586.32 L149.43,586.35 L149.83,586.37 L150.23,586.39 L150.63,586.39 L151.03,586.36 L151.43,586.24 L151.83,585.96 L152.23,585.65 L152.63,585.6 L153.03,585.83 L153.43,586.08 L153.83,586.19 L154.23,586.24 L154.63,586.25 L155.03,586.21 L155.43,586.14 L155.83,586.1 L156.23,586.1 L156.63,586.06 L157.03,585.91 L157.43,585.77 L157.83,585.75 L158.23,585.85 L158.63,585.96 L159.03,586.02 L159.43,585.99 L159.83,585.89 L160.23,585.76 L160.63,585.58 L161.03,585.32 L161.43,585.04 L161.83,584.9 L162.24,585.01 L162.64,585.27 L163.04,585.52 L163.44,585.7 L163.84,585.82 L164.24,585.89 L164.64,585.93 L165.04,585.97 L165.44,585.99 L165.84,585.91 L166.24,585.73 L166.64,585.6 L167.04,585.68 L167.44,585.92 L167.84,586.16 L168.24,586.31 L168.64,586.37 L169.04,586.39 L169.44,586.4 L169.84,586.4 L170.24,586.4 L170.64,586.4 L171.04,586.4 L171.44,586.4 L171.84,586.4 L172.24,586.4 L172.64,586.4 L173.04,586.4 L173.44,586.4 L173.84,586.4 L174.24,586.39 L174.64,586.33 L175.04,586.18 L175.45,585.98 L175.85,585.82 L176.25,585.66 L176.65,585.6 L177.05,585.67 L177.45,585.78 L177.85,585.76 L178.25,585.39 L178.65,584.67 L179.05,584.41 L179.45,584.88 L179.85,585.35 L180.25,585.67 L180.65,585.92 L181.05,586.13 L181.45,586.27 L181.85,586.35 L182.25,586.39 L182.65,586.4 L183.05,586.4 L183.45,586.4 L183.85,586.4 L184.25,586.4 L184.65,586.4 L185.05,586.4 L185.45,586.4 L185.85,586.4 L186.25,586.39 L186.65,586.34 L187.05,586.21 L187.45,585.97 L187.85,585.7 L188.25,585.57 L188.65,585.66 L189.06,585.87 L189.46,586.04 L189.86,586.14 L190.26,586.21 L190.66,586.26 L191.06,586.29 L191.46,586.32 L191.86,586.36 L192.26,586.37 L192.66,586.36 L193.06,586.33 L193.46,586.29 L193.86,586.25 L194.26,586.22 L194.66,586.19 L195.06,586.16 L195.46,586.16 L195.86,586.18 L196.26,586.16 L196.66,586.06 L197.06,585.97 L197.46,585.99 L197.86,586.08 L198.26,586.11 L198.66,586.13 L199.06,586.17 L199.46,586.14 L199.86,586.05 L200.26,585.94 L200.66,585.85 L201.06,585.82 L201.46,585.83 L201.86,585.87 L202.27,585.92 L202.67,586.01 L203.07,586.05 L203.47,585.9 L203.87,585.63 L204.27,585.5 L204.67,585.54 L205.07,585.67 L205.47,585.84 L205.87,585.97 L206.27,586.13 L206.67,586.32 L207.07,586.39 L207.47,586.4 L207.87,586.4 L208.27,586.4 L208.67,586.4 L209.07,586.4 L209.47,586.4 L209.87,586.4 L210.27,586.4 L210.67,586.4 L211.07,586.4 L211.47,586.4 L211.87,586.39 L212.27,586.37 L212.67,586.33 L213.07,586.22 L213.47,586.03 L213.87,585.74 L214.27,585.41 L214.67,585.15 L215.07,585.03 L215.47,585.05 L215.88,585.09 L216.28,585 L216.68,584.85 L217.08,584.82 L217.48,584.98 L217.88,585.19 L218.28,585.31 L218.68,585.32 L219.08,585.26 L219.48,585.28 L219.88,585.52 L220.28,585.87 L220.68,586.14 L221.08,586.24 L221.48,586.2 L221.88,586.07 L222.28,585.92 L222.68,585.82 L223.08,585.79 L223.48,585.84 L223.88,585.9 L224.28,585.9 L224.68,585.79 L225.08,585.59 L225.48,585.37 L225.88,585.23 L226.28,585.28 L226.68,585.51 L227.08,585.8 L227.48,585.96 L227.88,585.87 L228.28,585.65 L228.68,585.62 L229.09,585.73 L229.49,585.75 L229.89,585.69 L230.29,585.68 L230.69,585.72 L231.09,585.78 L231.49,585.84 L231.89,585.92 L232.29,586 L232.69,586.05 L233.09,586.07 L233.49,586.07 L233.89,586.1 L234.29,586.14 L234.69,586.18 L235.09,586.2 L235.49,586.2 L235.89,586.18 L236.29,586.13 L236.69,586 L237.09,585.77 L237.49,585.5 L237.89,585.39 L238.29,585.52 L238.69,585.72 L239.09,585.88 L239.49,586 L239.89,586.09 L240.29,586.11 L240.69,586.07 L241.09,585.98 L241.49,585.92 L241.89,585.91 L242.29,585.86 L242.7,585.61 L243.1,585.58 L243.5,586 L243.9,586.31 L244.3,586.38 L244.7,586.39 L245.1,586.37 L245.5,586.31 L245.9,586.2 L246.3,586.1 L246.7,586.05 L247.1,585.99 L247.5,585.85 L247.9,585.69 L248.3,585.72 L248.7,585.97 L249.1,586.22 L249.5,586.34 L249.9,586.37 L250.3,586.31 L250.7,586.14 L251.1,585.82 L251.5,585.35 L251.9,584.83 L252.3,584.36 L252.7,584.07 L253.1,584.33 L253.5,585.11 L253.9,585.8 L254.3,586.16 L254.7,586.31 L255.1,586.37 L255.5,586.39 L255.91,586.4 L256.31,586.4 L256.71,586.4 L257.11,586.4 L257.51,586.39 L257.91,586.39 L258.31,586.39 L258.71,586.39 L259.11,586.38 L259.51,586.37 L259.91,586.36 L260.31,586.35 L260.71,586.31 L261.11,586.24 L261.51,586.18 L261.51,587.6 Z" fill="#1d4677"/>
<path d="M263.51,587.6 L263.51,586.3 L263.91,586.25 L264.31,586.16 L264.71,586.06 L265.11,585.99 L265.51,586 L265.91,586.06 L266.31,586.15 L266.71,586.21 L267.11,586.24 L267.51,586.25 L267.91,586.28 L268.31,586.31 L268.71,586.33 L269.11,586.31 L269.52,586.29 L269.92,586.27 L270.32,586.28 L270.72,586.31 L271.12,586.34 L271.52,586.37 L271.92,586.38 L272.32,586.38 L272.72,586.37 L273.12,586.35 L273.52,586.34 L273.92,586.32 L274.32,586.25 L274.72,586.11 L275.12,585.9 L275.52,585.76 L275.92,585.8 L276.32,585.98 L276.72,586.19 L277.12,586.32 L277.52,586.37 L277.92,586.37 L278.32,586.32 L278.72,586.18 L279.12,585.94 L279.52,585.67 L279.92,585.51 L280.32,585.52 L280.72,585.64 L281.12,585.73 L281.52,585.75 L281.92,585.68 L282.32,585.38 L282.73,585.19 L283.13,585.64 L283.53,586.06 L283.93,586.09 L284.33,585.9 L284.73,585.63 L285.13,585.53 L285.53,585.69 L285.93,585.97 L286.33,586.19 L286.73,586.31 L287.13,586.37 L287.53,586.39 L287.93,586.4 L288.33,586.4 L288.73,586.4 L289.13,586.4 L289.53,586.39 L289.93,586.38 L290.33,586.36 L290.73,586.32 L291.13,586.29 L291.53,586.27 L291.93,586.27 L292.33,586.29 L292.73,586.27 L293.13,586.21 L293.53,586.09 L293.93,585.93 L294.33,585.76 L294.73,585.61 L295.13,585.54 L295.53,585.57 L295.93,585.67 L296.34,585.81 L296.74,585.93 L297.14,585.99 L297.54,585.99 L297.94,585.96 L298.34,585.87 L298.74,585.66 L299.14,585.46 L299.54,585.38 L299.94,585.1 L300.34,584.84 L300.74,585.18 L301.14,585.46 L301.54,585.35 L301.94,585.19 L302.34,585.15 L302.74,585.22 L303.14,585.32 L303.54,585.34 L303.94,585.28 L304.34,585.24 L304.74,585.33 L305.14,585.53 L305.54,585.74 L305.94,585.89 L306.34,585.98 L306.74,586.06 L307.14,586.13 L307.54,586.21 L307.94,586.28 L308.34,586.33 L308.74,586.36 L309.14,586.37 L309.55,586.33 L309.95,586.22 L310.35,586.02 L310.75,585.93 L310.75,587.6 Z" fill="#1d4677"/>
<path d="M313.15,587.6 L313.15,586.13 L313.55,586.21 L313.95,586.22 L314.35,586.13 L314.75,586.01 L315.15,585.89 L315.55,585.79 L315.95,585.7 L316.35,585.61 L316.75,585.52 L317.15,585.49 L317.55,585.53 L317.95,585.65 L318.35,585.82 L318.75,585.98 L319.15,586.11 L319.55,586.18 L319.95,586.2 L320.35,586.19 L320.75,586.17 L321.15,586.18 L321.55,586.2 L321.95,586.18 L322.35,586.08 L322.75,586 L323.16,586.08 L323.56,586.24 L323.96,586.34 L324.36,586.37 L324.76,586.35 L325.16,586.24 L325.56,586.19 L325.96,586.31 L326.36,586.34 L326.76,586.2 L327.16,585.85 L327.56,585.33 L327.96,584.86 L328.36,584.73 L328.76,585.01 L329.16,585.51 L329.56,585.89 L329.96,586.04 L330.36,586.03 L330.76,585.99 L331.16,585.99 L331.56,586.04 L331.96,586.14 L332.36,586.25 L332.76,586.32 L333.16,586.37 L333.56,586.38 L333.96,586.34 L334.36,586.12 L334.76,585.84 L335.16,585.99 L335.56,586.25 L335.96,586.29 L336.37,586.24 L336.77,586.18 L337.17,586.12 L337.57,586.07 L337.97,586.08 L338.37,586.14 L338.77,586.21 L339.17,586.25 L339.57,586.18 L339.97,586 L340.37,585.86 L340.77,585.94 L341.17,586.15 L341.57,586.32 L341.97,586.38 L342.37,586.4 L342.77,586.4 L343.17,586.4 L343.57,586.39 L343.97,586.35 L344.37,586.16 L344.77,585.83 L345.17,585.75 L345.57,586.02 L345.97,586.28 L346.37,586.36 L346.77,586.35 L347.17,586.34 L347.57,586.34 L347.97,586.35 L348.37,586.36 L348.77,586.37 L349.17,586.36 L349.57,586.32 L349.98,586.25 L350.38,586.21 L350.78,586.24 L351.18,586.3 L351.58,586.36 L351.98,586.38 L352.38,586.31 L352.78,586.04 L353.18,585.75 L353.58,585.82 L353.98,586.09 L354.38,586.26 L354.78,586.33 L355.18,586.32 L355.58,586.24 L355.98,586.15 L356.38,586.12 L356.78,586.19 L357.18,586.28 L357.58,586.33 L357.98,586.35 L358.38,586.34 L358.78,586.34 L359.18,586.34 L359.58,586.34 L359.98,586.32 L360.38,586.24 L360.78,586.05 L361.18,585.9 L361.58,585.9 L361.98,585.96 L362.38,585.95 L362.78,585.88 L363.19,585.77 L363.59,585.65 L363.99,585.56 L364.39,585.42 L364.79,585.12 L365.19,584.88 L365.59,584.97 L365.99,585.27 L366.39,585.57 L366.79,585.82 L367.19,585.98 L367.59,585.98 L367.99,585.94 L368.39,586.1 L368.79,586.3 L369.19,586.38 L369.59,586.39 L369.99,586.4 L370.39,586.4 L370.79,586.4 L371.19,586.4 L371.59,586.4 L371.99,586.39 L372.39,586.37 L372.79,586.36 L373.19,586.38 L373.59,586.39 L373.99,586.4 L374.39,586.4 L374.79,586.4 L375.19,586.4 L375.59,586.4 L375.99,586.4 L376.39,586.4 L376.8,586.4 L377.2,586.4 L377.6,586.4 L378,586.4 L378.4,586.38 L378.8,586.31 L379.2,586.11 L379.6,585.83 L380,585.68 L380.4,585.83 L380.8,586.1 L380.8,587.6 Z" fill="#1d4677"/>
<path d="M382.8,587.6 L382.8,586.39 L383.2,586.4 L383.2,587.6 Z" fill="#1d4677"/>
<text x="251.9" y="599.94" font-size="10" fill="#231f20" text-anchor="middle" textLength="21.6" lengthAdjust="spacingAndGlyphs">chr16</text>
<text x="135.5" y="609.63" font-size="8.8" fill="#231f20" stroke="#231f20" stroke-width="0.08" textLength="28.3" lengthAdjust="spacingAndGlyphs">NLRC5</text>
<line x1="166.3" y1="606.6" x2="310.3" y2="606.6" stroke="#151515" stroke-width="1.5" />
<path d="M166.6,605 L168.3,606.6 L166.6,608.2" fill="none" stroke="#151515" stroke-width="0.95"/>
<path d="M169.2,605 L170.9,606.6 L169.2,608.2" fill="none" stroke="#151515" stroke-width="0.95"/>
<path d="M171.8,605 L173.5,606.6 L171.8,608.2" fill="none" stroke="#151515" stroke-width="0.95"/>
<path d="M174.4,605 L176.1,606.6 L174.4,608.2" fill="none" stroke="#151515" stroke-width="0.95"/>
<path d="M177,605 L178.7,606.6 L177,608.2" fill="none" stroke="#151515" stroke-width="0.95"/>
<path d="M179.6,605 L181.3,606.6 L179.6,608.2" fill="none" stroke="#151515" stroke-width="0.95"/>
<path d="M182.2,605 L183.9,606.6 L182.2,608.2" fill="none" stroke="#151515" stroke-width="0.95"/>
<path d="M184.8,605 L186.5,606.6 L184.8,608.2" fill="none" stroke="#151515" stroke-width="0.95"/>
<path d="M187.4,605 L189.1,606.6 L187.4,608.2" fill="none" stroke="#151515" stroke-width="0.95"/>
<path d="M190,605 L191.7,606.6 L190,608.2" fill="none" stroke="#151515" stroke-width="0.95"/>
<path d="M192.6,605 L194.3,606.6 L192.6,608.2" fill="none" stroke="#151515" stroke-width="0.95"/>
<path d="M195.2,605 L196.9,606.6 L195.2,608.2" fill="none" stroke="#151515" stroke-width="0.95"/>
<path d="M197.8,605 L199.5,606.6 L197.8,608.2" fill="none" stroke="#151515" stroke-width="0.95"/>
<path d="M200.4,605 L202.1,606.6 L200.4,608.2" fill="none" stroke="#151515" stroke-width="0.95"/>
<path d="M203,605 L204.7,606.6 L203,608.2" fill="none" stroke="#151515" stroke-width="0.95"/>
<path d="M205.6,605 L207.3,606.6 L205.6,608.2" fill="none" stroke="#151515" stroke-width="0.95"/>
<path d="M208.2,605 L209.9,606.6 L208.2,608.2" fill="none" stroke="#151515" stroke-width="0.95"/>
<path d="M210.8,605 L212.5,606.6 L210.8,608.2" fill="none" stroke="#151515" stroke-width="0.95"/>
<path d="M213.4,605 L215.1,606.6 L213.4,608.2" fill="none" stroke="#151515" stroke-width="0.95"/>
<path d="M216,605 L217.7,606.6 L216,608.2" fill="none" stroke="#151515" stroke-width="0.95"/>
<path d="M218.6,605 L220.3,606.6 L218.6,608.2" fill="none" stroke="#151515" stroke-width="0.95"/>
<path d="M221.2,605 L222.9,606.6 L221.2,608.2" fill="none" stroke="#151515" stroke-width="0.95"/>
<path d="M223.8,605 L225.5,606.6 L223.8,608.2" fill="none" stroke="#151515" stroke-width="0.95"/>
<path d="M226.4,605 L228.1,606.6 L226.4,608.2" fill="none" stroke="#151515" stroke-width="0.95"/>
<path d="M229,605 L230.7,606.6 L229,608.2" fill="none" stroke="#151515" stroke-width="0.95"/>
<path d="M231.6,605 L233.3,606.6 L231.6,608.2" fill="none" stroke="#151515" stroke-width="0.95"/>
<path d="M234.2,605 L235.9,606.6 L234.2,608.2" fill="none" stroke="#151515" stroke-width="0.95"/>
<path d="M236.8,605 L238.5,606.6 L236.8,608.2" fill="none" stroke="#151515" stroke-width="0.95"/>
<path d="M239.4,605 L241.1,606.6 L239.4,608.2" fill="none" stroke="#151515" stroke-width="0.95"/>
<path d="M242,605 L243.7,606.6 L242,608.2" fill="none" stroke="#151515" stroke-width="0.95"/>
<path d="M244.6,605 L246.3,606.6 L244.6,608.2" fill="none" stroke="#151515" stroke-width="0.95"/>
<path d="M247.2,605 L248.9,606.6 L247.2,608.2" fill="none" stroke="#151515" stroke-width="0.95"/>
<path d="M249.8,605 L251.5,606.6 L249.8,608.2" fill="none" stroke="#151515" stroke-width="0.95"/>
<path d="M252.4,605 L254.1,606.6 L252.4,608.2" fill="none" stroke="#151515" stroke-width="0.95"/>
<path d="M255,605 L256.7,606.6 L255,608.2" fill="none" stroke="#151515" stroke-width="0.95"/>
<path d="M257.6,605 L259.3,606.6 L257.6,608.2" fill="none" stroke="#151515" stroke-width="0.95"/>
<path d="M260.2,605 L261.9,606.6 L260.2,608.2" fill="none" stroke="#151515" stroke-width="0.95"/>
<path d="M262.8,605 L264.5,606.6 L262.8,608.2" fill="none" stroke="#151515" stroke-width="0.95"/>
<path d="M265.4,605 L267.1,606.6 L265.4,608.2" fill="none" stroke="#151515" stroke-width="0.95"/>
<path d="M268,605 L269.7,606.6 L268,608.2" fill="none" stroke="#151515" stroke-width="0.95"/>
<path d="M270.6,605 L272.3,606.6 L270.6,608.2" fill="none" stroke="#151515" stroke-width="0.95"/>
<path d="M273.2,605 L274.9,606.6 L273.2,608.2" fill="none" stroke="#151515" stroke-width="0.95"/>
<path d="M275.8,605 L277.5,606.6 L275.8,608.2" fill="none" stroke="#151515" stroke-width="0.95"/>
<path d="M278.4,605 L280.1,606.6 L278.4,608.2" fill="none" stroke="#151515" stroke-width="0.95"/>
<path d="M281,605 L282.7,606.6 L281,608.2" fill="none" stroke="#151515" stroke-width="0.95"/>
<path d="M283.6,605 L285.3,606.6 L283.6,608.2" fill="none" stroke="#151515" stroke-width="0.95"/>
<path d="M286.2,605 L287.9,606.6 L286.2,608.2" fill="none" stroke="#151515" stroke-width="0.95"/>
<path d="M288.8,605 L290.5,606.6 L288.8,608.2" fill="none" stroke="#151515" stroke-width="0.95"/>
<path d="M291.4,605 L293.1,606.6 L291.4,608.2" fill="none" stroke="#151515" stroke-width="0.95"/>
<path d="M294,605 L295.7,606.6 L294,608.2" fill="none" stroke="#151515" stroke-width="0.95"/>
<path d="M296.6,605 L298.3,606.6 L296.6,608.2" fill="none" stroke="#151515" stroke-width="0.95"/>
<path d="M299.2,605 L300.9,606.6 L299.2,608.2" fill="none" stroke="#151515" stroke-width="0.95"/>
<path d="M301.8,605 L303.5,606.6 L301.8,608.2" fill="none" stroke="#151515" stroke-width="0.95"/>
<path d="M304.4,605 L306.1,606.6 L304.4,608.2" fill="none" stroke="#151515" stroke-width="0.95"/>
<path d="M307,605 L308.7,606.6 L307,608.2" fill="none" stroke="#151515" stroke-width="0.95"/>
<rect x="183.2" y="604.9" width="1.6" height="3.4" fill="#111" />
<rect x="184.6" y="604.9" width="0.8" height="3.4" fill="#111" />
<rect x="296.5" y="604.9" width="2.2" height="3.4" fill="#111" />
<rect x="300.5" y="604.9" width="2.4" height="3.4" fill="#111" />
<rect x="304.5" y="604.9" width="1.8" height="3.4" fill="#111" />
<rect x="308.5" y="604.9" width="1.6" height="3.4" fill="#111" />
<text x="314.2" y="608.49" font-size="5.2" fill="#666" stroke="#666" stroke-width="0.08" textLength="14.8" lengthAdjust="spacingAndGlyphs">CPNE2</text>
<line x1="331" y1="606.7" x2="383" y2="606.7" stroke="#222" stroke-width="0.7" />
<path d="M331.3,604.7 L333.2,606.7 L331.3,608.7" fill="none" stroke="#222" stroke-width="0.95"/>
<path d="M334.05,604.7 L335.95,606.7 L334.05,608.7" fill="none" stroke="#222" stroke-width="0.95"/>
<path d="M336.8,604.7 L338.7,606.7 L336.8,608.7" fill="none" stroke="#222" stroke-width="0.95"/>
<path d="M339.55,604.7 L341.45,606.7 L339.55,608.7" fill="none" stroke="#222" stroke-width="0.95"/>
<path d="M342.3,604.7 L344.2,606.7 L342.3,608.7" fill="none" stroke="#222" stroke-width="0.95"/>
<path d="M345.05,604.7 L346.95,606.7 L345.05,608.7" fill="none" stroke="#222" stroke-width="0.95"/>
<path d="M347.8,604.7 L349.7,606.7 L347.8,608.7" fill="none" stroke="#222" stroke-width="0.95"/>
<path d="M350.55,604.7 L352.45,606.7 L350.55,608.7" fill="none" stroke="#222" stroke-width="0.95"/>
<path d="M353.3,604.7 L355.2,606.7 L353.3,608.7" fill="none" stroke="#222" stroke-width="0.95"/>
<path d="M356.05,604.7 L357.95,606.7 L356.05,608.7" fill="none" stroke="#222" stroke-width="0.95"/>
<path d="M358.8,604.7 L360.7,606.7 L358.8,608.7" fill="none" stroke="#222" stroke-width="0.95"/>
<path d="M361.55,604.7 L363.45,606.7 L361.55,608.7" fill="none" stroke="#222" stroke-width="0.95"/>
<path d="M364.3,604.7 L366.2,606.7 L364.3,608.7" fill="none" stroke="#222" stroke-width="0.95"/>
<path d="M367.05,604.7 L368.95,606.7 L367.05,608.7" fill="none" stroke="#222" stroke-width="0.95"/>
<path d="M369.8,604.7 L371.7,606.7 L369.8,608.7" fill="none" stroke="#222" stroke-width="0.95"/>
<path d="M372.55,604.7 L374.45,606.7 L372.55,608.7" fill="none" stroke="#222" stroke-width="0.95"/>
<path d="M375.3,604.7 L377.2,606.7 L375.3,608.7" fill="none" stroke="#222" stroke-width="0.95"/>
<path d="M378.05,604.7 L379.95,606.7 L378.05,608.7" fill="none" stroke="#222" stroke-width="0.95"/>
<path d="M380.8,604.7 L382.7,606.7 L380.8,608.7" fill="none" stroke="#222" stroke-width="0.95"/>
<line x1="57" y1="627" x2="57" y2="673.8" stroke="#2e2e2e" stroke-width="1.5" />
<line x1="57" y1="684.5" x2="57" y2="731.3" stroke="#2e2e2e" stroke-width="1.5" />
<text x="53.5" y="653.53" font-size="8.8" fill="#2d4f7e" stroke="#2d4f7e" stroke-width="0.2" text-anchor="end" textLength="32.7" lengthAdjust="spacingAndGlyphs">KDM6A</text>
<text x="53.5" y="710.53" font-size="8.8" fill="#2d4f7e" stroke="#2d4f7e" stroke-width="0.2" text-anchor="end" textLength="13" lengthAdjust="spacingAndGlyphs">HA</text>
<text x="88.2" y="639.61" font-size="10.5" fill="#2d4f7e" stroke="#2d4f7e" stroke-width="0.2" text-anchor="end" textLength="11" lengthAdjust="spacingAndGlyphs">WT</text>
<text x="88.2" y="667.81" font-size="10.5" fill="#2d4f7e" stroke="#2d4f7e" stroke-width="0.2" text-anchor="end" textLength="9.9" lengthAdjust="spacingAndGlyphs">KO</text>
<text x="88.2" y="697.11" font-size="10.5" fill="#2d4f7e" stroke="#2d4f7e" stroke-width="0.2" text-anchor="end" textLength="24.4" lengthAdjust="spacingAndGlyphs">HA-tag</text>
<text x="88.2" y="725.31" font-size="10.5" fill="#2d4f7e" stroke="#2d4f7e" stroke-width="0.2" text-anchor="end" textLength="22.2" lengthAdjust="spacingAndGlyphs">no HA</text>
<line x1="114.2" y1="623.3" x2="114.2" y2="647.9" stroke="#231f20" stroke-width="1.1" />
<line x1="111.7" y1="626.3" x2="114.2" y2="626.3" stroke="#231f20" stroke-width="1" />
<line x1="111.7" y1="645.5" x2="115.2" y2="645.5" stroke="#231f20" stroke-width="1" />
<text x="107.2" y="629.13" font-size="9.4" fill="#231f20" stroke="#231f20" stroke-width="0.08" text-anchor="end" textLength="11.8" lengthAdjust="spacingAndGlyphs">1.2</text>
<text x="107.2" y="648.73" font-size="9.4" fill="#231f20" stroke="#231f20" stroke-width="0.08" text-anchor="end" textLength="4.9" lengthAdjust="spacingAndGlyphs">0</text>
<path d="M115,645.88 L115,645.12 L115.4,645.11 L115.8,645.08 L116.2,644.98 L116.6,644.77 L117,644.47 L117.4,644.18 L117.8,644.06 L118.2,644.18 L118.6,644.44 L119,644.69 L119.4,644.79 L119.8,644.68 L120.2,644.33 L120.6,643.88 L121,643.66 L121.4,643.74 L121.81,644.03 L121.81,645.88 Z" fill="#1d4677"/>
<path d="M123.01,645.88 L123.01,644.89 L123.41,645.02 L123.81,645.08 L124.21,645.11 L124.61,645.12 L125.01,645.12 L125.41,645.12 L125.81,645.12 L126.21,645.12 L126.61,645.12 L127.01,645.12 L127.41,645.12 L127.81,645.11 L128.21,645.09 L128.61,645.04 L129.01,644.92 L129.41,644.74 L129.81,644.57 L130.21,644.52 L130.61,644.59 L131.01,644.7 L131.01,645.88 Z" fill="#1d4677"/>
<path d="M132.21,645.88 L132.21,644.86 L132.61,644.93 L133.01,645 L133.41,645.06 L133.81,645.09 L134.21,645.11 L134.61,645.12 L135.01,645.11 L135.42,645.09 L135.82,645.06 L136.22,645.01 L136.62,644.95 L137.02,644.88 L137.42,644.81 L137.82,644.71 L138.22,644.49 L138.62,643.99 L139.02,643.34 L139.42,643.17 L139.82,643.52 L140.22,643.87 L140.62,644.1 L140.62,645.88 Z" fill="#1d4677"/>
<path d="M141.82,645.88 L141.82,644.81 L142.22,644.85 L142.62,644.68 L143.02,644.28 L143.42,643.82 L143.82,643.67 L144.22,643.95 L144.62,644.41 L145.02,644.76 L145.42,644.96 L145.82,645.05 L146.22,645.1 L146.22,645.88 Z" fill="#1d4677"/>
<path d="M147.42,645.88 L147.42,645.11 L147.82,645.1 L148.22,645.09 L148.63,645.09 L149.03,645.1 L149.43,645.11 L149.83,645.12 L150.23,645.12 L150.63,645.12 L151.03,645.11 L151.43,645.09 L151.83,645.07 L152.23,645.05 L152.63,645.04 L153.03,645.04 L153.03,645.88 Z" fill="#1d4677"/>
<path d="M154.63,645.88 L154.63,645.11 L155.03,645.12 L155.43,645.12 L155.83,645.12 L156.23,645.12 L156.63,645.12 L157.03,645.12 L157.43,645.12 L157.83,645.1 L158.23,645.04 L158.63,644.87 L159.03,644.52 L159.43,643.9 L159.83,643.05 L160.23,642.22 L160.63,641.73 L161.03,641.83 L161.43,642.47 L161.83,643.35 L162.24,644.14 L162.64,644.67 L163.04,644.95 L163.44,645.07 L163.84,645.11 L164.24,645.12 L164.64,645.12 L165.04,645.12 L165.04,645.88 Z" fill="#1d4677"/>
<path d="M166.24,645.88 L166.24,645.1 L166.64,645 L167.04,644.72 L167.44,644.36 L167.84,644.28 L168.24,644.54 L168.64,644.78 L169.04,644.85 L169.44,644.84 L169.84,644.85 L170.24,644.91 L170.64,644.99 L171.04,645.07 L171.44,645.1 L171.84,645.12 L172.24,645.12 L172.24,645.88 Z" fill="#1d4677"/>
<path d="M173.84,645.88 L173.84,645.07 L174.24,644.95 L174.64,644.66 L175.04,644.14 L175.45,643.44 L175.85,642.83 L176.25,642.61 L176.65,642.88 L177.05,643.4 L177.45,643.87 L177.85,644.2 L177.85,645.88 Z" fill="#1d4677"/>
<path d="M179.45,645.88 L179.45,645.07 L179.85,645.06 L180.25,644.95 L180.65,644.7 L181.05,644.22 L181.45,643.63 L181.85,643.28 L182.25,643.2 L182.65,642.92 L183.05,642 L183.45,640.88 L183.85,640.53 L184.25,641.42 L184.65,642.93 L185.05,644.16 L185.45,644.78 L185.85,644.93 L186.25,644.86 L186.65,644.67 L187.05,644.41 L187.45,644.08 L187.85,643.63 L188.25,643.02 L188.65,642.36 L189.06,642.04 L189.46,642.4 L189.86,643.3 L190.26,644.21 L190.66,644.79 L191.06,645.03 L191.06,645.88 Z" fill="#1d4677"/>
<path d="M192.66,645.88 L192.66,645.12 L193.06,645.12 L193.46,645.12 L193.86,645.12 L194.26,645.11 L194.66,645.07 L195.06,644.98 L195.46,644.77 L195.86,644.45 L196.26,644.22 L196.66,644.24 L196.66,645.88 Z" fill="#1d4677"/>
<path d="M197.86,645.88 L197.86,644.6 L198.26,644.7 L198.66,644.83 L199.06,644.96 L199.46,645.04 L199.86,645.03 L200.26,644.7 L200.66,643.25 L201.06,639.36 L201.46,633.19 L201.86,628.5 L202.27,629.54 L202.67,635.28 L203.07,640.94 L203.47,643.93 L203.87,644.89 L204.27,645.1 L204.67,645.12 L205.07,645.12 L205.47,645.12 L205.87,645.12 L206.27,645.12 L206.27,645.88 Z" fill="#1d4677"/>
<path d="M207.47,645.88 L207.47,645.04 L207.87,645.08 L208.27,645.1 L208.67,645.09 L209.07,645.07 L209.47,645.03 L209.87,644.99 L210.27,644.98 L210.67,644.99 L211.07,645.01 L211.47,645.04 L211.47,645.88 Z" fill="#1d4677"/>
<path d="M213.07,645.88 L213.07,645.1 L213.47,645.1 L213.87,645.09 L214.27,645.06 L214.67,645.02 L215.07,644.99 L215.47,644.97 L215.88,644.96 L216.28,644.92 L216.68,644.81 L217.08,644.62 L217.48,644.37 L217.88,644.16 L218.28,644.06 L218.68,644.13 L219.08,644.32 L219.08,645.88 Z" fill="#1d4677"/>
<path d="M219.88,645.88 L219.88,644.55 L220.28,644.39 L220.68,644.25 L221.08,644.33 L221.48,644.61 L221.88,644.86 L222.28,645 L222.68,645.06 L222.68,645.88 Z" fill="#1d4677"/>
<path d="M224.28,645.88 L224.28,645.07 L224.68,645.06 L225.08,645.05 L225.48,645.06 L225.88,645.07 L226.28,645.09 L226.68,645.1 L227.08,645.11 L227.48,645.11 L227.88,645.1 L228.28,645.05 L228.28,645.88 Z" fill="#1d4677"/>
<path d="M229.89,645.88 L229.89,644.88 L230.29,644.88 L230.69,644.94 L231.09,645.01 L231.49,645.07 L231.89,645.1 L232.29,645.1 L232.69,645.07 L233.09,645.04 L233.49,645.06 L233.89,645.08 L234.29,645.09 L234.69,645.09 L235.09,645.09 L235.49,645.09 L235.89,645.09 L236.29,645.09 L236.29,645.88 Z" fill="#1d4677"/>
<path d="M237.89,645.88 L237.89,645.08 L238.29,645.09 L238.69,645.1 L239.09,645.11 L239.49,645.11 L239.89,645.11 L240.29,645.1 L240.69,645.08 L241.09,645.02 L241.49,644.93 L241.49,645.88 Z" fill="#1d4677"/>
<path d="M242.7,645.88 L242.7,644.61 L243.1,644.56 L243.5,644.58 L243.9,644.64 L244.3,644.73 L244.7,644.79 L245.1,644.83 L245.5,644.86 L245.9,644.91 L246.3,644.98 L246.7,645.05 L247.1,645.09 L247.5,645.12 L247.9,645.12 L248.3,645.12 L248.7,645.12 L249.1,645.12 L249.5,645.12 L249.9,645.12 L249.9,645.88 Z" fill="#1d4677"/>
<path d="M251.9,645.88 L251.9,644.51 L252.3,644.02 L252.7,643.62 L253.1,643.44 L253.5,643.36 L253.9,643.35 L254.3,643.48 L254.7,643.4 L255.1,643.17 L255.5,643.19 L255.91,643.5 L256.31,643.77 L256.71,643.74 L257.11,643.38 L257.51,642.87 L257.91,642.44 L258.31,642.23 L258.71,642.37 L259.11,642.88 L259.51,643.59 L259.91,644.24 L260.31,644.7 L260.71,644.95 L261.11,645.06 L261.51,645.11 L261.91,645.12 L262.31,645.12 L262.71,645.12 L263.11,645.12 L263.51,645.12 L263.91,645.12 L264.31,645.12 L264.31,645.88 Z" fill="#1d4677"/>
<path d="M265.51,645.88 L265.51,644.78 L265.91,644.82 L266.31,645.03 L266.71,645.11 L267.11,645.08 L267.51,644.98 L267.91,644.84 L268.31,644.78 L268.71,644.87 L269.11,644.96 L269.11,645.88 Z" fill="#1d4677"/>
<path d="M270.32,645.88 L270.32,644.73 L270.72,644.71 L271.12,644.62 L271.52,644.67 L271.92,644.86 L272.32,645.01 L272.72,645.08 L273.12,645.1 L273.52,645.11 L273.52,645.88 Z" fill="#1d4677"/>
<path d="M274.72,645.88 L274.72,645.07 L275.12,645.07 L275.52,645 L275.92,644.77 L276.32,644.71 L276.72,644.91 L277.12,644.87 L277.52,644.62 L277.92,644.7 L278.32,644.99 L278.32,645.88 Z" fill="#1d4677"/>
<path d="M280.32,645.88 L280.32,645.07 L280.72,645 L281.12,644.91 L281.52,644.77 L281.92,644.6 L282.32,644.42 L282.73,644.38 L283.13,644.54 L283.53,644.77 L283.93,644.94 L284.33,645.02 L284.73,645.05 L285.13,644.97 L285.53,644.8 L285.93,644.72 L286.33,644.78 L286.73,644.74 L287.13,644.42 L287.53,643.93 L287.93,643.44 L288.33,643.12 L288.73,643.16 L289.13,643.57 L289.53,644.07 L289.93,644.35 L290.33,644.38 L290.73,644.42 L291.13,644.65 L291.53,644.93 L291.93,645.07 L291.93,645.88 Z" fill="#1d4677"/>
<path d="M293.53,645.88 L293.53,645.12 L293.93,645.12 L294.33,645.12 L294.73,645.12 L295.13,645.12 L295.53,645.12 L295.93,645.12 L296.34,645.12 L296.74,645.12 L297.14,645.12 L297.54,645.12 L297.94,645.12 L298.34,645.12 L298.74,645.12 L299.14,645.12 L299.54,645.12 L299.94,645.12 L300.34,645.11 L300.74,645.08 L300.74,645.88 Z" fill="#1d4677"/>
<path d="M302.34,645.88 L302.34,644.58 L302.74,644.43 L303.14,644.24 L303.54,644.01 L303.94,643.85 L304.34,643.88 L304.74,644.11 L305.14,644.44 L305.54,644.72 L305.54,645.88 Z" fill="#1d4677"/>
<path d="M307.14,645.88 L307.14,645.05 L307.54,645.02 L307.94,644.83 L308.34,644.43 L308.74,644.13 L309.14,644.28 L309.55,644.63 L309.95,644.84 L310.35,644.93 L310.75,644.93 L311.15,644.82 L311.55,644.62 L311.95,644.4 L312.35,644.25 L312.75,644.2 L313.15,644.23 L313.55,644.31 L313.95,644.4 L314.35,644.43 L314.75,644.32 L315.15,644.12 L315.55,644 L315.95,644.1 L315.95,645.88 Z" fill="#1d4677"/>
<path d="M317.15,645.88 L317.15,644.88 L317.55,644.84 L317.95,644.61 L318.35,644.34 L318.75,644.23 L319.15,644.32 L319.55,644.41 L319.95,644.4 L320.35,644.33 L320.75,644.26 L321.15,644.26 L321.55,644.36 L321.95,644.55 L322.35,644.75 L322.75,644.92 L323.16,645.03 L323.56,645.09 L323.96,645.11 L323.96,645.88 Z" fill="#1d4677"/>
<path d="M325.16,645.88 L325.16,645.1 L325.56,645.05 L325.96,644.94 L326.36,644.77 L326.76,644.58 L327.16,644.43 L327.56,644.41 L327.96,644.51 L328.36,644.66 L328.76,644.79 L329.16,644.86 L329.56,644.88 L329.96,644.89 L330.36,644.9 L330.76,644.9 L331.16,644.9 L331.56,644.91 L331.96,644.93 L332.36,644.97 L332.76,645.01 L333.16,645.04 L333.16,645.88 Z" fill="#1d4677"/>
<path d="M333.96,645.88 L333.96,644.7 L334.36,644.18 L334.76,644.06 L335.16,644.31 L335.56,644.6 L335.96,644.78 L336.37,644.72 L336.77,644.52 L337.17,644.34 L337.57,644.26 L337.97,644.33 L338.37,644.5 L338.77,644.69 L339.17,644.85 L339.57,644.93 L339.97,644.95 L340.37,644.92 L340.37,645.88 Z" fill="#1d4677"/>
<path d="M341.97,645.88 L341.97,644.94 L342.37,645.02 L342.77,645.07 L343.17,645.08 L343.57,645.07 L343.97,645.06 L344.37,645.04 L344.77,645.04 L345.17,645.05 L345.57,645.06 L345.97,645.08 L346.37,645.1 L346.77,645.1 L346.77,645.88 Z" fill="#1d4677"/>
<path d="M347.97,645.88 L347.97,645.01 L348.37,644.92 L348.77,644.79 L349.17,644.66 L349.57,644.56 L349.98,644.52 L350.38,644.56 L350.78,644.66 L351.18,644.79 L351.58,644.91 L351.98,645 L352.38,645.06 L352.78,645.08 L353.18,645.08 L353.58,645.08 L353.98,645.08 L354.38,645.08 L354.78,645.09 L354.78,645.88 Z" fill="#1d4677"/>
<path d="M355.58,645.88 L355.58,645.11 L355.98,645.12 L356.38,645.12 L356.78,645.12 L357.18,645.11 L357.58,645.09 L357.98,645.04 L358.38,644.96 L358.78,644.84 L359.18,644.69 L359.58,644.54 L359.58,645.88 Z" fill="#1d4677"/>
<path d="M361.18,645.88 L361.18,644.58 L361.58,644.74 L361.98,644.88 L362.38,644.99 L362.78,645.06 L363.19,645.09 L363.59,645.11 L363.99,645.12 L364.39,645.12 L364.79,645.12 L365.19,645.12 L365.59,645.12 L365.99,645.12 L366.39,645.12 L366.79,645.12 L367.19,645.12 L367.59,645.12 L367.99,645.12 L368.39,645.12 L368.79,645.12 L369.19,645.12 L369.59,645.12 L369.59,645.88 Z" fill="#1d4677"/>
<path d="M370.79,645.88 L370.79,645.12 L371.19,645.12 L371.59,645.12 L371.99,645.11 L372.39,645.08 L372.79,645 L373.19,644.89 L373.59,644.77 L373.99,644.71 L374.39,644.76 L374.39,645.88 Z" fill="#1d4677"/>
<path d="M375.19,645.88 L375.19,644.93 L375.59,644.91 L375.99,644.73 L376.39,644.37 L376.8,643.93 L377.2,643.68 L377.6,643.8 L378,644.17 L378.4,644.55 L378.8,644.82 L379.2,644.98 L379.6,645.07 L380,645.1 L380.4,645.12 L380.8,645.12 L381.2,645.11 L381.6,645.07 L382,644.99 L382.4,644.9 L382.4,645.88 Z" fill="#1d4677"/>
<line x1="114.2" y1="651.5" x2="114.2" y2="676.7" stroke="#231f20" stroke-width="1.1" />
<line x1="111.7" y1="654.5" x2="114.2" y2="654.5" stroke="#231f20" stroke-width="1" />
<line x1="111.7" y1="674.3" x2="115.2" y2="674.3" stroke="#231f20" stroke-width="1" />
<text x="107.2" y="657.33" font-size="9.4" fill="#231f20" stroke="#231f20" stroke-width="0.08" text-anchor="end" textLength="11.8" lengthAdjust="spacingAndGlyphs">1.2</text>
<text x="107.2" y="677.53" font-size="9.4" fill="#231f20" stroke="#231f20" stroke-width="0.08" text-anchor="end" textLength="4.9" lengthAdjust="spacingAndGlyphs">0</text>
<path d="M115,674.67 L115,673.92 L115.4,673.92 L115.8,673.91 L116.2,673.88 L116.6,673.85 L117,673.85 L117.4,673.88 L117.8,673.9 L118.2,673.92 L118.6,673.92 L119,673.91 L119.4,673.9 L119.8,673.89 L120.2,673.88 L120.6,673.88 L121,673.89 L121.4,673.9 L121.81,673.91 L122.21,673.92 L122.61,673.92 L123.01,673.89 L123.01,674.67 Z" fill="#1d4677"/>
<path d="M125.01,674.67 L125.01,673.85 L125.41,673.92 L125.81,673.92 L126.21,673.92 L126.61,673.91 L127.01,673.89 L127.41,673.88 L127.81,673.88 L128.21,673.88 L128.61,673.88 L129.01,673.88 L129.41,673.88 L129.81,673.89 L129.81,674.67 Z" fill="#1d4677"/>
<path d="M131.41,674.67 L131.41,673.65 L131.81,673.59 L132.21,673.76 L132.61,673.89 L133.01,673.9 L133.41,673.87 L133.81,673.83 L134.21,673.81 L134.61,673.81 L135.01,673.76 L135.42,673.67 L135.82,673.57 L136.22,673.53 L136.62,673.59 L137.02,673.69 L137.02,674.67 Z" fill="#1d4677"/>
<path d="M138.22,674.67 L138.22,673.91 L138.62,673.92 L139.02,673.92 L139.42,673.92 L139.82,673.92 L140.22,673.91 L140.62,673.91 L141.02,673.9 L141.42,673.89 L141.82,673.89 L142.22,673.9 L142.62,673.91 L143.02,673.92 L143.42,673.92 L143.82,673.92 L144.22,673.92 L144.62,673.92 L145.02,673.92 L145.42,673.92 L145.82,673.92 L145.82,674.67 Z" fill="#1d4677"/>
<path d="M147.02,674.67 L147.02,673.92 L147.42,673.92 L147.82,673.92 L148.22,673.92 L148.63,673.92 L149.03,673.92 L149.43,673.92 L149.83,673.92 L150.23,673.91 L150.23,674.67 Z" fill="#1d4677"/>
<path d="M151.83,674.67 L151.83,673.71 L152.23,673.67 L152.63,673.66 L153.03,673.69 L153.43,673.73 L153.83,673.75 L154.23,673.76 L154.63,673.73 L155.03,673.68 L155.43,673.63 L155.83,673.6 L156.23,673.65 L156.63,673.76 L157.03,673.85 L157.43,673.87 L157.83,673.77 L158.23,673.56 L158.63,673.35 L158.63,674.67 Z" fill="#1d4677"/>
<path d="M160.23,674.67 L160.23,673.63 L160.63,673.75 L161.03,673.84 L161.43,673.89 L161.83,673.88 L162.24,673.8 L162.64,673.63 L163.04,673.39 L163.04,674.67 Z" fill="#1d4677"/>
<path d="M164.24,674.67 L164.24,673.24 L164.64,673.38 L165.04,673.52 L165.44,673.66 L165.84,673.77 L166.24,673.85 L166.64,673.89 L167.04,673.91 L167.44,673.92 L167.84,673.92 L168.24,673.9 L168.64,673.87 L169.04,673.79 L169.44,673.68 L169.84,673.56 L170.24,673.46 L170.64,673.43 L171.04,673.49 L171.44,673.6 L171.84,673.72 L172.24,673.81 L172.24,674.67 Z" fill="#1d4677"/>
<path d="M173.84,674.67 L173.84,673.92 L174.24,673.92 L174.64,673.92 L175.04,673.88 L175.45,673.73 L175.85,673.42 L176.25,673.24 L176.65,673.44 L177.05,673.7 L177.45,673.84 L177.45,674.67 Z" fill="#1d4677"/>
<path d="M178.65,674.67 L178.65,673.92 L179.05,673.92 L179.45,673.92 L179.85,673.92 L180.25,673.92 L180.65,673.92 L181.05,673.92 L181.45,673.9 L181.85,673.84 L182.25,673.7 L182.65,673.45 L183.05,673.11 L183.45,672.82 L183.85,672.73 L184.25,672.88 L184.65,673.2 L185.05,673.52 L185.45,673.74 L185.85,673.86 L186.25,673.91 L186.65,673.92 L186.65,674.67 Z" fill="#1d4677"/>
<path d="M187.85,674.67 L187.85,673.92 L188.25,673.92 L188.65,673.92 L189.06,673.92 L189.46,673.92 L189.86,673.92 L190.26,673.92 L190.66,673.92 L191.06,673.91 L191.46,673.86 L191.86,673.7 L191.86,674.67 Z" fill="#1d4677"/>
<path d="M193.46,674.67 L193.46,673.79 L193.86,673.9 L194.26,673.92 L194.66,673.92 L195.06,673.92 L195.46,673.92 L195.86,673.92 L196.26,673.92 L196.66,673.9 L197.06,673.89 L197.46,673.89 L197.86,673.91 L198.26,673.91 L198.66,673.89 L199.06,673.83 L199.06,674.67 Z" fill="#1d4677"/>
<path d="M200.26,674.67 L200.26,673.24 L200.66,673.06 L201.06,672.96 L201.46,672.82 L201.86,672.69 L202.27,672.8 L202.67,673.15 L203.07,673.54 L203.47,673.79 L203.47,674.67 Z" fill="#1d4677"/>
<path d="M204.67,674.67 L204.67,673.92 L205.07,673.9 L205.47,673.84 L205.87,673.74 L206.27,673.66 L206.67,673.69 L207.07,673.79 L207.47,673.86 L207.47,674.67 Z" fill="#1d4677"/>
<path d="M209.47,674.67 L209.47,673.73 L209.87,673.73 L210.27,673.72 L210.67,673.68 L211.07,673.57 L211.47,673.39 L211.87,673.21 L212.27,673.11 L212.67,673.1 L213.07,673.17 L213.47,673.28 L213.87,673.41 L214.27,673.54 L214.67,673.66 L215.07,673.76 L215.47,673.81 L215.88,673.81 L216.28,673.73 L216.28,674.67 Z" fill="#1d4677"/>
<path d="M217.48,674.67 L217.48,673.24 L217.88,673.23 L218.28,673.37 L218.68,673.57 L219.08,673.74 L219.48,673.85 L219.88,673.9 L220.28,673.92 L220.68,673.92 L221.08,673.91 L221.48,673.91 L221.88,673.89 L222.28,673.87 L222.68,673.83 L223.08,673.66 L223.48,673.32 L223.88,673.29 L224.28,673.45 L224.28,674.67 Z" fill="#1d4677"/>
<path d="M225.48,674.67 L225.48,673.48 L225.88,673.57 L226.28,673.67 L226.68,673.77 L227.08,673.84 L227.48,673.88 L227.88,673.9 L228.28,673.88 L228.68,673.85 L229.09,673.81 L229.49,673.81 L229.89,673.85 L230.29,673.89 L230.69,673.89 L231.09,673.81 L231.49,673.6 L231.89,673.27 L232.29,673.04 L232.69,673.13 L233.09,673.45 L233.49,673.72 L233.49,674.67 Z" fill="#1d4677"/>
<path d="M235.09,674.67 L235.09,673.9 L235.49,673.91 L235.89,673.91 L236.29,673.92 L236.69,673.92 L237.09,673.92 L237.49,673.92 L237.89,673.91 L238.29,673.9 L238.69,673.9 L239.09,673.92 L239.49,673.92 L239.89,673.92 L240.29,673.9 L240.69,673.86 L241.09,673.78 L241.49,673.67 L241.89,673.57 L242.29,673.48 L242.29,674.67 Z" fill="#1d4677"/>
<path d="M243.5,674.67 L243.5,673.45 L243.9,673.52 L244.3,673.59 L244.7,673.64 L245.1,673.69 L245.5,673.73 L245.9,673.78 L246.3,673.82 L246.7,673.85 L247.1,673.84 L247.5,673.79 L247.9,673.79 L248.3,673.84 L248.7,673.86 L248.7,674.67 Z" fill="#1d4677"/>
<path d="M249.9,674.67 L249.9,673.79 L250.3,673.78 L250.7,673.78 L251.1,673.81 L251.5,673.84 L251.9,673.87 L252.3,673.89 L252.7,673.9 L253.1,673.87 L253.5,673.82 L253.9,673.71 L254.3,673.58 L254.7,673.47 L255.1,673.44 L255.5,673.51 L255.91,673.62 L256.31,673.73 L256.71,673.82 L257.11,673.87 L257.51,673.88 L257.51,674.67 Z" fill="#1d4677"/>
<path d="M258.71,674.67 L258.71,673.58 L259.11,673.47 L259.51,673.47 L259.91,673.58 L260.31,673.72 L260.71,673.83 L261.11,673.89 L261.51,673.92 L261.91,673.92 L262.31,673.9 L262.71,673.85 L263.11,673.75 L263.51,673.58 L263.91,673.39 L264.31,673.28 L264.71,673.27 L265.11,673.37 L265.11,674.67 Z" fill="#1d4677"/>
<path d="M266.71,674.67 L266.71,673.79 L267.11,673.85 L267.51,673.89 L267.91,673.91 L268.31,673.92 L268.71,673.92 L269.11,673.92 L269.52,673.92 L269.92,673.91 L270.32,673.88 L270.72,673.81 L271.12,673.75 L271.12,674.67 Z" fill="#1d4677"/>
<path d="M272.72,674.67 L272.72,673.92 L273.12,673.91 L273.52,673.89 L273.92,673.86 L274.32,673.8 L274.72,673.74 L275.12,673.7 L275.52,673.69 L275.92,673.73 L276.32,673.78 L276.72,673.84 L277.12,673.89 L277.52,673.91 L277.92,673.91 L278.32,673.91 L278.72,673.9 L278.72,674.67 Z" fill="#1d4677"/>
<path d="M280.72,674.67 L280.72,673.86 L281.12,673.86 L281.52,673.88 L281.92,673.9 L282.32,673.91 L282.73,673.89 L283.13,673.87 L283.53,673.83 L283.93,673.8 L284.33,673.8 L284.73,673.82 L285.13,673.85 L285.53,673.88 L285.53,674.67 Z" fill="#1d4677"/>
<path d="M286.73,674.67 L286.73,673.92 L287.13,673.92 L287.53,673.92 L287.93,673.89 L288.33,673.79 L288.73,673.58 L289.13,673.46 L289.53,673.6 L289.93,673.81 L290.33,673.9 L290.73,673.92 L291.13,673.92 L291.53,673.92 L291.93,673.92 L292.33,673.92 L292.73,673.92 L293.13,673.92 L293.53,673.92 L293.93,673.92 L293.93,674.67 Z" fill="#1d4677"/>
<path d="M295.53,674.67 L295.53,673.85 L295.93,673.8 L296.34,673.73 L296.74,673.73 L297.14,673.81 L297.54,673.87 L297.94,673.89 L298.34,673.91 L298.74,673.91 L299.14,673.9 L299.14,674.67 Z" fill="#1d4677"/>
<path d="M300.34,674.67 L300.34,673.89 L300.74,673.87 L301.14,673.83 L301.54,673.77 L301.94,673.68 L302.34,673.56 L302.74,673.45 L303.14,673.37 L303.54,673.33 L303.94,673.34 L304.34,673.36 L304.74,673.38 L305.14,673.42 L305.54,673.48 L305.94,673.57 L306.34,673.67 L306.74,673.76 L306.74,674.67 Z" fill="#1d4677"/>
<path d="M307.94,674.67 L307.94,673.9 L308.34,673.89 L308.74,673.86 L309.14,673.8 L309.55,673.68 L309.95,673.51 L310.35,673.36 L310.75,673.28 L311.15,673.32 L311.55,673.45 L311.95,673.6 L312.35,673.73 L312.35,674.67 Z" fill="#1d4677"/>
<path d="M313.55,674.67 L313.55,673.91 L313.95,673.92 L314.35,673.92 L314.75,673.91 L315.15,673.91 L315.55,673.9 L315.95,673.89 L316.35,673.88 L316.75,673.88 L317.15,673.89 L317.55,673.9 L317.95,673.91 L318.35,673.91 L318.75,673.92 L319.15,673.92 L319.55,673.92 L319.55,674.67 Z" fill="#1d4677"/>
<path d="M320.75,674.67 L320.75,673.92 L321.15,673.91 L321.55,673.89 L321.95,673.85 L322.35,673.8 L322.75,673.76 L323.16,673.75 L323.56,673.79 L323.96,673.84 L324.36,673.88 L324.76,673.91 L325.16,673.92 L325.56,673.92 L325.96,673.92 L326.36,673.91 L326.76,673.85 L327.16,673.76 L327.16,674.67 Z" fill="#1d4677"/>
<path d="M328.76,674.67 L328.76,673.6 L329.16,673.42 L329.56,673.43 L329.96,673.64 L330.36,673.83 L330.76,673.91 L331.16,673.92 L331.56,673.92 L331.96,673.92 L332.36,673.92 L332.76,673.92 L333.16,673.92 L333.56,673.92 L333.96,673.91 L334.36,673.89 L334.76,673.86 L335.16,673.81 L335.56,673.74 L335.96,673.66 L335.96,674.67 Z" fill="#1d4677"/>
<path d="M337.57,674.67 L337.57,673.62 L337.97,673.69 L338.37,673.77 L338.77,673.83 L339.17,673.87 L339.57,673.9 L339.97,673.91 L340.37,673.92 L340.77,673.92 L341.17,673.92 L341.57,673.92 L341.97,673.92 L342.37,673.92 L342.77,673.92 L343.17,673.92 L343.57,673.92 L343.97,673.92 L344.37,673.92 L344.37,674.67 Z" fill="#1d4677"/>
<path d="M345.57,674.67 L345.57,673.91 L345.97,673.9 L346.37,673.89 L346.77,673.87 L347.17,673.87 L347.57,673.87 L347.97,673.87 L348.37,673.88 L348.77,673.87 L349.17,673.85 L349.57,673.82 L349.98,673.79 L350.38,673.77 L350.78,673.76 L350.78,674.67 Z" fill="#1d4677"/>
<path d="M351.98,674.67 L351.98,673.84 L352.38,673.86 L352.78,673.87 L353.18,673.85 L353.58,673.81 L353.98,673.74 L354.38,673.64 L354.78,673.48 L355.18,673.29 L355.58,673.12 L355.98,673.06 L356.38,673.14 L356.78,673.34 L357.18,673.55 L357.58,673.73 L357.98,673.84 L358.38,673.89 L358.38,674.67 Z" fill="#1d4677"/>
<path d="M359.98,674.67 L359.98,673.84 L360.38,673.75 L360.78,673.6 L361.18,673.39 L361.58,673.15 L361.98,672.99 L362.38,672.99 L362.78,673.15 L363.19,673.4 L363.59,673.63 L363.99,673.78 L364.39,673.87 L364.79,673.9 L365.19,673.91 L365.59,673.91 L365.99,673.91 L366.39,673.9 L366.79,673.89 L367.19,673.89 L367.59,673.88 L367.59,674.67 Z" fill="#1d4677"/>
<path d="M368.79,674.67 L368.79,673.9 L369.19,673.91 L369.59,673.92 L369.99,673.92 L370.39,673.91 L370.79,673.89 L371.19,673.81 L371.59,673.71 L371.99,673.64 L371.99,674.67 Z" fill="#1d4677"/>
<path d="M373.99,674.67 L373.99,673.92 L374.39,673.92 L374.79,673.91 L375.19,673.87 L375.59,673.81 L375.99,673.79 L376.39,673.81 L376.8,673.83 L377.2,673.81 L377.6,673.77 L378,673.73 L378.4,673.7 L378.8,673.7 L379.2,673.73 L379.6,673.78 L380,673.83 L380.4,673.87 L380.8,673.89 L381.2,673.91 L381.6,673.92 L381.6,674.67 Z" fill="#1d4677"/>
<line x1="114.2" y1="680" x2="114.2" y2="705.4" stroke="#231f20" stroke-width="1.1" />
<line x1="111.7" y1="683" x2="114.2" y2="683" stroke="#231f20" stroke-width="1" />
<line x1="111.7" y1="703" x2="115.2" y2="703" stroke="#231f20" stroke-width="1" />
<text x="107.2" y="685.83" font-size="9.4" fill="#231f20" stroke="#231f20" stroke-width="0.08" text-anchor="end" textLength="4.9" lengthAdjust="spacingAndGlyphs">1</text>
<text x="107.2" y="706.23" font-size="9.4" fill="#231f20" stroke="#231f20" stroke-width="0.08" text-anchor="end" textLength="4.9" lengthAdjust="spacingAndGlyphs">0</text>
<path d="M115,703.38 L115,702.62 L115.4,702.62 L115.8,702.62 L116.2,702.61 L116.6,702.6 L117,702.58 L117.4,702.57 L117.8,702.57 L118.2,702.59 L118.6,702.6 L119,702.58 L119.4,702.51 L119.8,702.38 L120.2,702.17 L120.6,701.89 L121,701.51 L121.4,701.13 L121.81,700.92 L122.21,700.92 L122.61,701.07 L123.01,701.45 L123.41,701.81 L123.81,701.92 L124.21,701.88 L124.61,701.89 L125.01,702.05 L125.41,702.28 L125.81,702.46 L126.21,702.53 L126.61,702.47 L127.01,702.21 L127.41,701.82 L127.81,701.63 L128.21,701.77 L128.61,702.02 L129.01,702.25 L129.41,702.43 L129.81,702.55 L130.21,702.6 L130.61,702.62 L131.01,702.62 L131.41,702.62 L131.81,702.62 L132.21,702.62 L132.21,703.38 Z" fill="#1d4677"/>
<path d="M133.41,703.38 L133.41,702.52 L133.81,702.44 L134.21,702.33 L134.61,702.22 L135.01,702.12 L135.42,702.08 L135.82,702.11 L136.22,702.19 L136.62,702.3 L137.02,702.39 L137.42,702.39 L137.82,702.19 L138.22,701.9 L138.62,701.79 L139.02,701.68 L139.42,701.51 L139.82,701.52 L140.22,701.8 L140.22,703.38 Z" fill="#1d4677"/>
<path d="M141.02,703.38 L141.02,702.48 L141.42,702.6 L141.82,702.62 L142.22,702.62 L142.62,702.62 L143.02,702.62 L143.42,702.62 L143.82,702.62 L144.22,702.6 L144.62,702.57 L145.02,702.54 L145.42,702.52 L145.82,702.54 L146.22,702.56 L146.62,702.54 L147.02,702.29 L147.42,701.85 L147.82,701.88 L148.22,702.3 L148.63,702.54 L149.03,702.6 L149.43,702.62 L149.43,703.38 Z" fill="#1d4677"/>
<path d="M150.63,703.38 L150.63,702.62 L151.03,702.62 L151.43,702.62 L151.83,702.62 L152.23,702.61 L152.63,702.59 L153.03,702.57 L153.43,702.55 L153.83,702.53 L154.23,702.53 L154.63,702.51 L155.03,702.47 L155.43,702.37 L155.83,702.18 L155.83,703.38 Z" fill="#1d4677"/>
<path d="M156.63,703.38 L156.63,701.37 L157.03,700.74 L157.43,699.88 L157.83,698.7 L158.23,697.71 L158.63,697.38 L159.03,697.21 L159.43,697.08 L159.83,697.23 L160.23,697.7 L160.63,698.4 L161.03,699.23 L161.43,700.06 L161.83,700.77 L162.24,701.33 L162.64,701.75 L163.04,702.04 L163.44,702.24 L163.84,702.34 L164.24,702.39 L164.64,702.41 L164.64,703.38 Z" fill="#1d4677"/>
<path d="M165.84,703.38 L165.84,702.11 L166.24,701.92 L166.64,701.71 L167.04,701.56 L167.44,701.64 L167.84,701.98 L168.24,702.35 L168.24,703.38 Z" fill="#1d4677"/>
<path d="M169.84,703.38 L169.84,702.62 L170.24,702.62 L170.64,702.62 L171.04,702.62 L171.44,702.59 L171.84,702.56 L172.24,702.54 L172.64,702.57 L173.04,702.6 L173.44,702.62 L173.84,702.62 L174.24,702.62 L174.64,702.61 L175.04,702.54 L175.45,702.25 L175.85,701.42 L176.25,699.93 L176.65,698.67 L177.05,698.48 L177.45,699.29 L177.85,700.54 L178.25,701.47 L178.65,701.82 L179.05,701.87 L179.45,701.95 L179.85,702.13 L180.25,702.31 L180.65,702.37 L181.05,702.3 L181.45,702.09 L181.85,701.67 L182.25,700.91 L182.65,699.68 L183.05,698.11 L183.45,696.79 L183.85,696.44 L184.25,697.32 L184.65,698.95 L185.05,700.59 L185.45,701.71 L185.85,702.26 L186.25,702.3 L186.65,702.06 L187.05,702.01 L187.45,702.05 L187.85,701.68 L188.25,700.91 L188.65,700.04 L189.06,699.48 L189.46,699.55 L189.86,700.21 L190.26,701.08 L190.26,703.38 Z" fill="#1d4677"/>
<path d="M191.06,703.38 L191.06,702.28 L191.46,702.5 L191.86,702.59 L192.26,702.61 L192.66,702.62 L193.06,702.62 L193.46,702.62 L193.86,702.62 L194.26,702.62 L194.66,702.62 L195.06,702.62 L195.46,702.62 L195.86,702.62 L196.26,702.62 L196.66,702.62 L197.06,702.62 L197.46,702.62 L197.86,702.62 L198.26,702.62 L198.66,702.62 L198.66,703.38 Z" fill="#1d4677"/>
<path d="M199.86,703.38 L199.86,702.45 L200.26,701.82 L200.66,699.86 L201.06,695.75 L201.46,690.22 L201.86,686.39 L202.27,687.18 L202.67,691.92 L203.07,697.18 L203.47,700.54 L203.87,701.98 L204.27,702.42 L204.67,702.54 L205.07,702.59 L205.47,702.61 L205.87,702.62 L206.27,702.62 L206.67,702.62 L207.07,702.62 L207.47,702.62 L207.87,702.62 L208.27,702.62 L208.27,703.38 Z" fill="#1d4677"/>
<path d="M209.87,703.38 L209.87,702.62 L210.27,702.62 L210.67,702.62 L211.07,702.62 L211.47,702.62 L211.87,702.62 L212.27,702.62 L212.67,702.62 L213.07,702.62 L213.07,703.38 Z" fill="#1d4677"/>
<path d="M214.67,703.38 L214.67,702.62 L215.07,702.62 L215.47,702.62 L215.88,702.62 L216.28,702.62 L216.68,702.61 L217.08,702.56 L217.48,702.32 L217.88,701.82 L218.28,701.73 L218.68,702.1 L219.08,702.32 L219.48,702.43 L219.88,702.52 L220.28,702.57 L220.68,702.58 L221.08,702.51 L221.48,702.31 L221.88,701.99 L222.28,701.69 L222.68,701.56 L223.08,701.6 L223.48,701.71 L223.48,703.38 Z" fill="#1d4677"/>
<path d="M224.28,703.38 L224.28,701.96 L224.68,702.09 L225.08,702.24 L225.48,702.39 L225.88,702.51 L226.28,702.58 L226.68,702.61 L227.08,702.62 L227.48,702.62 L227.88,702.62 L228.28,702.62 L228.68,702.62 L229.09,702.62 L229.49,702.62 L229.89,702.61 L230.29,702.59 L230.69,702.55 L231.09,702.48 L231.09,703.38 Z" fill="#1d4677"/>
<path d="M233.09,703.38 L233.09,701.95 L233.49,701.92 L233.89,701.75 L234.29,701.49 L234.69,701.52 L235.09,701.91 L235.49,702.24 L235.89,702.34 L236.29,702.33 L236.69,702.32 L237.09,702.35 L237.49,702.4 L237.89,702.48 L238.29,702.54 L238.69,702.58 L239.09,702.6 L239.49,702.59 L239.89,702.55 L240.29,702.47 L240.69,702.31 L241.09,702.04 L241.09,703.38 Z" fill="#1d4677"/>
<path d="M242.7,703.38 L242.7,702.39 L243.1,702.49 L243.5,702.55 L243.9,702.57 L244.3,702.54 L244.7,702.48 L245.1,702.39 L245.5,702.3 L245.9,702.26 L246.3,702.26 L246.7,702.31 L247.1,702.38 L247.5,702.46 L247.9,702.52 L248.3,702.54 L248.7,702.54 L249.1,702.53 L249.5,702.52 L249.9,702.52 L250.3,702.5 L250.7,702.47 L250.7,703.38 Z" fill="#1d4677"/>
<path d="M251.9,703.38 L251.9,702.3 L252.3,702.28 L252.7,702.27 L253.1,702.26 L253.5,702.23 L253.9,702.21 L254.3,702.2 L254.7,702.22 L255.1,702.27 L255.5,702.33 L255.91,702.37 L256.31,702.42 L256.71,702.49 L257.11,702.56 L257.51,702.61 L257.91,702.62 L258.31,702.62 L258.71,702.62 L258.71,703.38 Z" fill="#1d4677"/>
<path d="M260.71,703.38 L260.71,702.52 L261.11,702.49 L261.51,702.51 L261.91,702.55 L262.31,702.59 L262.71,702.61 L263.11,702.61 L263.51,702.59 L263.91,702.5 L264.31,702.33 L264.71,702.19 L265.11,702.11 L265.51,702.12 L265.91,702.34 L266.31,702.53 L266.31,703.38 Z" fill="#1d4677"/>
<path d="M267.51,703.38 L267.51,702.62 L267.91,702.62 L268.31,702.61 L268.71,702.55 L269.11,702.38 L269.52,702.24 L269.92,702.32 L270.32,702.51 L270.72,702.6 L271.12,702.62 L271.52,702.62 L271.92,702.62 L271.92,703.38 Z" fill="#1d4677"/>
<path d="M273.12,703.38 L273.12,702.62 L273.52,702.62 L273.92,702.62 L274.32,702.6 L274.72,702.54 L275.12,702.4 L275.52,702.21 L275.92,702.08 L276.32,702.11 L276.72,702.28 L277.12,702.46 L277.52,702.57 L277.92,702.6 L278.32,702.52 L278.32,703.38 Z" fill="#1d4677"/>
<path d="M279.92,703.38 L279.92,701.92 L280.32,702.22 L280.72,702.47 L281.12,702.56 L281.52,702.56 L281.92,702.56 L282.32,702.55 L282.73,702.53 L283.13,702.47 L283.53,702.35 L283.53,703.38 Z" fill="#1d4677"/>
<path d="M284.73,703.38 L284.73,701.95 L285.13,702.01 L285.53,702.09 L285.93,702.09 L286.33,702.03 L286.73,702.11 L287.13,702.33 L287.53,702.52 L287.93,702.6 L288.33,702.62 L288.73,702.62 L289.13,702.62 L289.53,702.62 L289.93,702.62 L290.33,702.62 L290.73,702.62 L291.13,702.62 L291.13,703.38 Z" fill="#1d4677"/>
<path d="M293.13,703.38 L293.13,702.6 L293.53,702.58 L293.93,702.56 L294.33,702.55 L294.73,702.56 L295.13,702.58 L295.53,702.59 L295.93,702.58 L296.34,702.46 L296.74,702.24 L297.14,702.16 L297.54,702.32 L297.94,702.5 L298.34,702.58 L298.34,703.38 Z" fill="#1d4677"/>
<path d="M299.94,703.38 L299.94,702.62 L300.34,702.62 L300.74,702.62 L301.14,702.62 L301.54,702.62 L301.94,702.62 L302.34,702.62 L302.74,702.62 L303.14,702.6 L303.54,702.55 L303.94,702.48 L304.34,702.45 L304.74,702.47 L305.14,702.45 L305.54,702.4 L305.94,702.36 L306.34,702.4 L306.74,702.47 L306.74,703.38 Z" fill="#1d4677"/>
<path d="M308.34,703.38 L308.34,702.62 L308.74,702.62 L309.14,702.62 L309.55,702.62 L309.95,702.62 L310.35,702.62 L310.75,702.61 L311.15,702.59 L311.55,702.54 L311.95,702.47 L312.35,702.38 L312.75,702.28 L313.15,702.2 L313.55,702.17 L313.95,702.18 L314.35,702.22 L314.75,702.26 L315.15,702.31 L315.55,702.37 L315.95,702.45 L315.95,703.38 Z" fill="#1d4677"/>
<path d="M317.15,703.38 L317.15,702.6 L317.55,702.62 L317.95,702.61 L318.35,702.53 L318.75,702.28 L319.15,702.23 L319.55,702.48 L319.95,702.6 L320.35,702.59 L320.75,702.54 L321.15,702.47 L321.55,702.36 L321.95,702.21 L322.35,702.04 L322.75,701.88 L323.16,701.76 L323.56,701.7 L323.96,701.73 L323.96,703.38 Z" fill="#1d4677"/>
<path d="M325.16,703.38 L325.16,702.3 L325.56,702.45 L325.96,702.44 L326.36,702.33 L326.76,702.16 L327.16,701.99 L327.56,701.9 L327.96,701.93 L328.36,702.05 L328.76,702.2 L329.16,702.3 L329.56,702.33 L329.96,702.28 L329.96,703.38 Z" fill="#1d4677"/>
<path d="M331.96,703.38 L331.96,702 L332.36,702.08 L332.76,702.18 L333.16,702.28 L333.56,702.37 L333.96,702.45 L334.36,702.52 L334.76,702.57 L335.16,702.59 L335.16,703.38 Z" fill="#1d4677"/>
<path d="M336.77,703.38 L336.77,702.3 L337.17,702.15 L337.57,702.2 L337.97,702.39 L338.37,702.54 L338.77,702.58 L339.17,702.54 L339.57,702.43 L339.97,702.27 L340.37,702.08 L340.77,701.92 L341.17,701.87 L341.57,701.95 L341.97,702.12 L342.37,702.31 L342.77,702.46 L343.17,702.54 L343.57,702.58 L343.97,702.58 L344.37,702.57 L344.37,703.38 Z" fill="#1d4677"/>
<path d="M345.97,703.38 L345.97,702.49 L346.37,702.52 L346.77,702.52 L347.17,702.5 L347.57,702.49 L347.97,702.48 L348.37,702.46 L348.77,702.4 L349.17,702.3 L349.57,702.19 L349.98,702.13 L350.38,702.16 L350.78,702.26 L351.18,702.39 L351.58,702.5 L351.98,702.56 L352.38,702.6 L352.78,702.62 L353.18,702.62 L353.58,702.62 L353.98,702.62 L353.98,703.38 Z" fill="#1d4677"/>
<path d="M355.58,703.38 L355.58,702.62 L355.98,702.62 L356.38,702.62 L356.78,702.61 L357.18,702.5 L357.58,702.3 L357.98,702.31 L358.38,702.46 L358.78,702.46 L359.18,702.27 L359.58,701.94 L359.98,701.56 L360.38,701.34 L360.78,701.44 L361.18,701.78 L361.58,702.15 L361.58,703.38 Z" fill="#1d4677"/>
<path d="M363.19,703.38 L363.19,702.61 L363.59,702.62 L363.99,702.62 L364.39,702.62 L364.79,702.62 L365.19,702.62 L365.59,702.62 L365.99,702.62 L366.39,702.62 L366.79,702.62 L367.19,702.62 L367.59,702.6 L367.99,702.54 L368.39,702.45 L368.79,702.41 L369.19,702.46 L369.19,703.38 Z" fill="#1d4677"/>
<path d="M370.79,703.38 L370.79,702.56 L371.19,702.59 L371.59,702.61 L371.99,702.62 L372.39,702.61 L372.79,702.58 L373.19,702.54 L373.59,702.47 L373.99,702.38 L373.99,703.38 Z" fill="#1d4677"/>
<path d="M375.59,703.38 L375.59,702.19 L375.99,702.28 L376.39,702.41 L376.8,702.51 L377.2,702.58 L377.6,702.6 L378,702.6 L378.4,702.59 L378.4,703.38 Z" fill="#1d4677"/>
<path d="M379.6,703.38 L379.6,702.55 L380,702.53 L380.4,702.52 L380.8,702.51 L381.2,702.52 L381.6,702.53 L382,702.52 L382.4,702.49 L382.4,703.38 Z" fill="#1d4677"/>
<line x1="114.2" y1="708.3" x2="114.2" y2="733.7" stroke="#231f20" stroke-width="1.1" />
<line x1="111.7" y1="711.3" x2="114.2" y2="711.3" stroke="#231f20" stroke-width="1" />
<line x1="111.7" y1="731.3" x2="115.2" y2="731.3" stroke="#231f20" stroke-width="1" />
<text x="107.2" y="714.13" font-size="9.4" fill="#231f20" stroke="#231f20" stroke-width="0.08" text-anchor="end" textLength="4.9" lengthAdjust="spacingAndGlyphs">1</text>
<text x="107.2" y="734.53" font-size="9.4" fill="#231f20" stroke="#231f20" stroke-width="0.08" text-anchor="end" textLength="4.9" lengthAdjust="spacingAndGlyphs">0</text>
<path d="M115,731.67 L115,730.92 L115.4,730.92 L115.8,730.91 L116.2,730.89 L116.6,730.83 L117,730.73 L117.4,730.65 L117.8,730.66 L118.2,730.74 L118.6,730.81 L119,730.86 L119.4,730.88 L119.8,730.87 L120.2,730.78 L120.2,731.67 Z" fill="#1d4677"/>
<path d="M121,731.67 L121,730.06 L121.4,729.91 L121.81,730.21 L122.21,730.59 L122.61,730.77 L123.01,730.77 L123.41,730.71 L123.81,730.72 L124.21,730.79 L124.61,730.86 L125.01,730.9 L125.41,730.91 L125.81,730.89 L126.21,730.8 L126.21,731.67 Z" fill="#1d4677"/>
<path d="M127.81,731.67 L127.81,730.92 L128.21,730.92 L128.61,730.92 L129.01,730.92 L129.41,730.92 L129.81,730.92 L130.21,730.92 L130.61,730.89 L131.01,730.83 L131.41,730.77 L131.81,730.79 L132.21,730.86 L132.61,730.91 L133.01,730.92 L133.41,730.92 L133.81,730.91 L134.21,730.9 L134.61,730.91 L135.01,730.92 L135.42,730.92 L135.82,730.92 L136.22,730.92 L136.22,731.67 Z" fill="#1d4677"/>
<path d="M137.42,731.67 L137.42,730.92 L137.82,730.92 L138.22,730.92 L138.62,730.91 L139.02,730.88 L139.42,730.8 L139.82,730.69 L140.22,730.59 L140.22,731.67 Z" fill="#1d4677"/>
<path d="M141.82,731.67 L141.82,730.87 L142.22,730.91 L142.62,730.92 L143.02,730.92 L143.42,730.92 L143.82,730.92 L144.22,730.9 L144.62,730.88 L145.02,730.84 L145.42,730.81 L145.42,731.67 Z" fill="#1d4677"/>
<path d="M146.22,731.67 L146.22,730.8 L146.62,730.83 L147.02,730.87 L147.42,730.89 L147.82,730.91 L148.22,730.92 L148.63,730.92 L149.03,730.92 L149.43,730.92 L149.83,730.9 L150.23,730.81 L150.63,730.73 L150.63,731.67 Z" fill="#1d4677"/>
<path d="M151.83,731.67 L151.83,730.91 L152.23,730.91 L152.63,730.91 L153.03,730.92 L153.43,730.92 L153.83,730.92 L154.23,730.92 L154.23,731.67 Z" fill="#1d4677"/>
<path d="M156.23,731.67 L156.23,730.92 L156.63,730.92 L157.03,730.92 L157.43,730.92 L157.83,730.89 L158.23,730.8 L158.63,730.65 L159.03,730.5 L159.43,730.47 L159.83,730.6 L160.23,730.74 L160.63,730.82 L161.03,730.82 L161.43,730.81 L161.83,730.78 L162.24,730.73 L162.64,730.63 L163.04,730.49 L163.04,731.67 Z" fill="#1d4677"/>
<path d="M164.64,731.67 L164.64,730.57 L165.04,730.7 L165.44,730.66 L165.84,730.53 L166.24,730.66 L166.64,730.86 L167.04,730.92 L167.44,730.92 L167.84,730.92 L167.84,731.67 Z" fill="#1d4677"/>
<path d="M169.84,731.67 L169.84,730.51 L170.24,730.64 L170.64,730.83 L171.04,730.91 L171.44,730.92 L171.84,730.92 L172.24,730.92 L172.64,730.92 L173.04,730.92 L173.44,730.92 L173.84,730.92 L174.24,730.92 L174.64,730.92 L175.04,730.92 L175.45,730.92 L175.85,730.92 L176.25,730.92 L176.65,730.92 L176.65,731.67 Z" fill="#1d4677"/>
<path d="M177.85,731.67 L177.85,730.87 L178.25,730.83 L178.65,730.77 L179.05,730.7 L179.45,730.67 L179.85,730.7 L180.25,730.69 L180.65,730.41 L181.05,729.94 L181.45,730.01 L181.85,730.47 L182.25,730.78 L182.65,730.9 L183.05,730.92 L183.45,730.92 L183.85,730.92 L184.25,730.91 L184.65,730.9 L185.05,730.87 L185.45,730.82 L185.85,730.74 L186.25,730.65 L186.25,731.67 Z" fill="#1d4677"/>
<path d="M187.45,731.67 L187.45,730.45 L187.85,730.47 L188.25,730.51 L188.65,730.54 L189.06,730.52 L189.46,730.45 L189.86,730.34 L190.26,730.24 L190.66,730.18 L191.06,730.18 L191.46,730.25 L191.86,730.35 L192.26,730.44 L192.66,730.52 L193.06,730.57 L193.46,730.6 L193.86,730.63 L194.26,730.67 L194.66,730.69 L195.06,730.67 L195.46,730.62 L195.46,731.67 Z" fill="#1d4677"/>
<path d="M196.66,731.67 L196.66,730.59 L197.06,730.67 L197.46,730.72 L197.86,730.63 L198.26,730.38 L198.66,730.46 L199.06,730.77 L199.46,730.87 L199.86,730.83 L200.26,730.71 L200.66,730.55 L201.06,730.4 L201.46,730.3 L201.86,730.24 L202.27,730.27 L202.67,730.39 L203.07,730.55 L203.47,730.7 L203.87,730.77 L203.87,731.67 Z" fill="#1d4677"/>
<path d="M205.47,731.67 L205.47,730.91 L205.87,730.91 L206.27,730.91 L206.67,730.91 L207.07,730.92 L207.47,730.92 L207.87,730.92 L208.27,730.92 L208.67,730.92 L209.07,730.92 L209.47,730.92 L209.87,730.91 L210.27,730.89 L210.67,730.86 L211.07,730.77 L211.47,730.6 L211.87,730.45 L212.27,730.52 L212.67,730.72 L213.07,730.86 L213.47,730.91 L213.47,731.67 Z" fill="#1d4677"/>
<path d="M214.67,731.67 L214.67,730.9 L215.07,730.89 L215.47,730.88 L215.88,730.84 L216.28,730.77 L216.68,730.64 L217.08,730.47 L217.48,730.28 L217.88,730.07 L218.28,729.82 L218.68,729.81 L219.08,730.17 L219.48,730.47 L219.88,730.64 L220.28,730.73 L220.68,730.74 L221.08,730.7 L221.48,730.64 L221.88,730.6 L222.28,730.61 L222.68,730.68 L223.08,730.76 L223.08,731.67 Z" fill="#1d4677"/>
<path d="M224.68,731.67 L224.68,730.8 L225.08,730.69 L225.48,730.54 L225.88,730.38 L226.28,730.26 L226.68,730.22 L227.08,730.29 L227.48,730.43 L227.88,730.61 L227.88,731.67 Z" fill="#1d4677"/>
<path d="M229.49,731.67 L229.49,730.92 L229.89,730.92 L230.29,730.92 L230.69,730.92 L231.09,730.91 L231.49,730.85 L231.89,730.79 L232.29,730.8 L232.69,730.82 L233.09,730.81 L233.49,730.8 L233.89,730.8 L234.29,730.78 L234.69,730.69 L235.09,730.59 L235.49,730.53 L235.89,730.54 L236.29,730.61 L236.69,730.72 L237.09,730.81 L237.49,730.87 L237.89,730.89 L237.89,731.67 Z" fill="#1d4677"/>
<path d="M239.49,731.67 L239.49,730.3 L239.89,730.56 L240.29,730.74 L240.69,730.67 L241.09,730.58 L241.49,730.56 L241.89,730.6 L242.29,730.63 L242.7,730.65 L243.1,730.66 L243.5,730.67 L243.9,730.68 L244.3,730.69 L244.7,730.7 L245.1,730.72 L245.5,730.74 L245.9,730.69 L246.3,730.56 L246.7,730.44 L246.7,731.67 Z" fill="#1d4677"/>
<path d="M248.7,731.67 L248.7,730.92 L249.1,730.92 L249.5,730.92 L249.9,730.92 L250.3,730.9 L250.7,730.87 L251.1,730.82 L251.5,730.75 L251.9,730.7 L252.3,730.67 L252.7,730.68 L253.1,730.7 L253.5,730.68 L253.9,730.62 L254.3,730.6 L254.7,730.65 L255.1,730.75 L255.1,731.67 Z" fill="#1d4677"/>
<path d="M256.71,731.67 L256.71,730.83 L257.11,730.77 L257.51,730.69 L257.91,730.62 L258.31,730.6 L258.71,730.64 L259.11,730.73 L259.51,730.81 L259.91,730.87 L260.31,730.91 L260.71,730.92 L261.11,730.92 L261.51,730.92 L261.91,730.92 L262.31,730.92 L262.71,730.92 L263.11,730.92 L263.51,730.92 L263.91,730.92 L264.31,730.92 L264.71,730.92 L265.11,730.92 L265.11,731.67 Z" fill="#1d4677"/>
<path d="M266.31,731.67 L266.31,730.92 L266.71,730.92 L267.11,730.92 L267.51,730.92 L267.91,730.92 L268.31,730.91 L268.71,730.88 L269.11,730.82 L269.52,730.72 L269.92,730.59 L270.32,730.46 L270.72,730.37 L271.12,730.36 L271.52,730.44 L271.92,730.57 L272.32,730.66 L272.72,730.65 L273.12,730.63 L273.12,731.67 Z" fill="#1d4677"/>
<path d="M274.72,731.67 L274.72,730.92 L275.12,730.92 L275.52,730.92 L275.92,730.92 L276.32,730.92 L276.72,730.91 L277.12,730.91 L277.52,730.91 L277.52,731.67 Z" fill="#1d4677"/>
<path d="M278.72,731.67 L278.72,730.9 L279.12,730.89 L279.52,730.88 L279.92,730.88 L280.32,730.88 L280.72,730.88 L281.12,730.87 L281.52,730.84 L281.92,730.75 L282.32,730.56 L282.73,730.29 L283.13,730.17 L283.53,730.35 L283.53,731.67 Z" fill="#1d4677"/>
<path d="M285.53,731.67 L285.53,730.72 L285.93,730.67 L286.33,730.64 L286.73,730.62 L287.13,730.57 L287.53,730.49 L287.93,730.38 L288.33,730.28 L288.73,730.24 L289.13,730.29 L289.53,730.4 L289.93,730.53 L290.33,730.64 L290.73,730.69 L291.13,730.69 L291.53,730.64 L291.93,730.56 L291.93,731.67 Z" fill="#1d4677"/>
<path d="M293.13,731.67 L293.13,730.49 L293.53,730.59 L293.93,730.7 L294.33,730.8 L294.73,730.86 L295.13,730.89 L295.53,730.89 L295.93,730.87 L296.34,730.81 L296.74,730.65 L297.14,730.43 L297.54,730.33 L297.94,730.43 L298.34,730.57 L298.74,730.64 L299.14,730.68 L299.54,730.72 L299.94,730.77 L300.34,730.79 L300.74,730.78 L301.14,730.73 L301.14,731.67 Z" fill="#1d4677"/>
<path d="M302.34,731.67 L302.34,730.77 L302.74,730.85 L303.14,730.9 L303.54,730.92 L303.94,730.91 L304.34,730.85 L304.74,730.77 L305.14,730.81 L305.54,730.89 L305.94,730.92 L306.34,730.92 L306.74,730.92 L307.14,730.92 L307.54,730.92 L307.94,730.92 L308.34,730.92 L308.74,730.92 L309.14,730.92 L309.55,730.92 L309.95,730.92 L310.35,730.92 L310.75,730.86 L310.75,731.67 Z" fill="#1d4677"/>
<path d="M311.95,731.67 L311.95,730.72 L312.35,730.86 L312.75,730.91 L313.15,730.92 L313.55,730.91 L313.95,730.9 L314.35,730.89 L314.75,730.86 L315.15,730.84 L315.55,730.82 L315.95,730.82 L316.35,730.83 L316.75,730.85 L317.15,730.88 L317.55,730.9 L317.55,731.67 Z" fill="#1d4677"/>
<path d="M318.75,731.67 L318.75,730.92 L319.15,730.92 L319.55,730.92 L319.95,730.92 L320.35,730.92 L320.75,730.89 L321.15,730.75 L321.55,730.4 L321.95,729.93 L322.35,729.75 L322.75,730.02 L323.16,730.44 L323.16,731.67 Z" fill="#1d4677"/>
<path d="M324.76,731.67 L324.76,730.87 L325.16,730.82 L325.56,730.76 L325.96,730.69 L326.36,730.66 L326.76,730.66 L327.16,730.68 L327.56,730.69 L327.96,730.65 L328.36,730.55 L328.76,730.43 L329.16,730.35 L329.56,730.34 L329.96,730.42 L330.36,730.55 L330.36,731.67 Z" fill="#1d4677"/>
<path d="M331.16,731.67 L331.16,730.8 L331.56,730.87 L331.96,730.9 L332.36,730.92 L332.76,730.92 L333.16,730.92 L333.56,730.92 L333.96,730.91 L334.36,730.91 L334.76,730.91 L335.16,730.91 L335.56,730.91 L335.96,730.91 L336.37,730.91 L336.77,730.91 L337.17,730.9 L337.57,730.87 L337.97,730.81 L338.37,730.72 L338.77,730.61 L338.77,731.67 Z" fill="#1d4677"/>
<path d="M339.97,731.67 L339.97,730.32 L340.37,730.21 L340.77,730.25 L341.17,730.45 L341.57,730.47 L341.97,730.41 L342.37,730.48 L342.77,730.65 L343.17,730.67 L343.57,730.61 L343.97,730.69 L344.37,730.84 L344.77,730.91 L345.17,730.92 L345.57,730.92 L345.57,731.67 Z" fill="#1d4677"/>
<path d="M346.77,731.67 L346.77,730.92 L347.17,730.92 L347.57,730.92 L347.97,730.91 L348.37,730.9 L348.77,730.84 L349.17,730.72 L349.57,730.54 L349.98,730.42 L350.38,730.46 L350.38,731.67 Z" fill="#1d4677"/>
<path d="M351.98,731.67 L351.98,730.86 L352.38,730.88 L352.78,730.88 L353.18,730.88 L353.58,730.89 L353.98,730.91 L354.38,730.92 L354.78,730.92 L355.18,730.92 L355.58,730.92 L355.98,730.92 L355.98,731.67 Z" fill="#1d4677"/>
<path d="M357.58,731.67 L357.58,730.83 L357.98,730.81 L358.38,730.82 L358.78,730.84 L359.18,730.83 L359.58,730.78 L359.98,730.67 L360.38,730.51 L360.78,730.34 L361.18,730.2 L361.58,730.14 L361.98,730.19 L362.38,730.33 L362.78,730.49 L363.19,730.65 L363.59,730.76 L363.99,730.84 L364.39,730.89 L364.79,730.91 L365.19,730.92 L365.59,730.92 L365.99,730.92 L365.99,731.67 Z" fill="#1d4677"/>
<path d="M367.99,731.67 L367.99,730.92 L368.39,730.92 L368.79,730.92 L369.19,730.92 L369.59,730.92 L369.99,730.92 L370.39,730.92 L370.79,730.92 L371.19,730.92 L371.59,730.92 L371.59,731.67 Z" fill="#1d4677"/>
<path d="M372.79,731.67 L372.79,730.92 L373.19,730.92 L373.59,730.92 L373.99,730.92 L374.39,730.92 L374.79,730.92 L375.19,730.92 L375.59,730.92 L375.99,730.92 L376.39,730.9 L376.8,730.87 L377.2,730.82 L377.6,730.75 L378,730.68 L378.4,730.63 L378.4,731.67 Z" fill="#1d4677"/>
<path d="M379.6,731.67 L379.6,730.58 L380,730.56 L380.4,730.48 L380.8,730.34 L381.2,730.28 L381.6,730.44 L382,730.68 L382.4,730.85 L382.8,730.91 L383.2,730.92 L383.2,731.67 Z" fill="#1d4677"/>
<text x="251.7" y="745.74" font-size="10" fill="#231f20" text-anchor="middle" textLength="21.6" lengthAdjust="spacingAndGlyphs">chr16</text>
<text x="158.3" y="756.53" font-size="8.8" fill="#231f20" stroke="#231f20" stroke-width="0.08" textLength="20.3" lengthAdjust="spacingAndGlyphs">CIITA</text>
<line x1="184.4" y1="753.5" x2="372.4" y2="753.5" stroke="#151515" stroke-width="1.5" />
<path d="M184.7,751.9 L186.4,753.5 L184.7,755.1" fill="none" stroke="#151515" stroke-width="0.95"/>
<path d="M186.8,751.9 L188.5,753.5 L186.8,755.1" fill="none" stroke="#151515" stroke-width="0.95"/>
<path d="M188.9,751.9 L190.6,753.5 L188.9,755.1" fill="none" stroke="#151515" stroke-width="0.95"/>
<path d="M191,751.9 L192.7,753.5 L191,755.1" fill="none" stroke="#151515" stroke-width="0.95"/>
<path d="M193.1,751.9 L194.8,753.5 L193.1,755.1" fill="none" stroke="#151515" stroke-width="0.95"/>
<path d="M195.2,751.9 L196.9,753.5 L195.2,755.1" fill="none" stroke="#151515" stroke-width="0.95"/>
<path d="M197.3,751.9 L199,753.5 L197.3,755.1" fill="none" stroke="#151515" stroke-width="0.95"/>
<path d="M199.4,751.9 L201.1,753.5 L199.4,755.1" fill="none" stroke="#151515" stroke-width="0.95"/>
<path d="M201.5,751.9 L203.2,753.5 L201.5,755.1" fill="none" stroke="#151515" stroke-width="0.95"/>
<path d="M203.6,751.9 L205.3,753.5 L203.6,755.1" fill="none" stroke="#151515" stroke-width="0.95"/>
<path d="M205.7,751.9 L207.4,753.5 L205.7,755.1" fill="none" stroke="#151515" stroke-width="0.95"/>
<path d="M207.8,751.9 L209.5,753.5 L207.8,755.1" fill="none" stroke="#151515" stroke-width="0.95"/>
<path d="M209.9,751.9 L211.6,753.5 L209.9,755.1" fill="none" stroke="#151515" stroke-width="0.95"/>
<path d="M212,751.9 L213.7,753.5 L212,755.1" fill="none" stroke="#151515" stroke-width="0.95"/>
<path d="M214.1,751.9 L215.8,753.5 L214.1,755.1" fill="none" stroke="#151515" stroke-width="0.95"/>
<path d="M216.2,751.9 L217.9,753.5 L216.2,755.1" fill="none" stroke="#151515" stroke-width="0.95"/>
<path d="M218.3,751.9 L220,753.5 L218.3,755.1" fill="none" stroke="#151515" stroke-width="0.95"/>
<path d="M220.4,751.9 L222.1,753.5 L220.4,755.1" fill="none" stroke="#151515" stroke-width="0.95"/>
<path d="M222.5,751.9 L224.2,753.5 L222.5,755.1" fill="none" stroke="#151515" stroke-width="0.95"/>
<path d="M224.6,751.9 L226.3,753.5 L224.6,755.1" fill="none" stroke="#151515" stroke-width="0.95"/>
<path d="M226.7,751.9 L228.4,753.5 L226.7,755.1" fill="none" stroke="#151515" stroke-width="0.95"/>
<path d="M228.8,751.9 L230.5,753.5 L228.8,755.1" fill="none" stroke="#151515" stroke-width="0.95"/>
<path d="M230.9,751.9 L232.6,753.5 L230.9,755.1" fill="none" stroke="#151515" stroke-width="0.95"/>
<path d="M233,751.9 L234.7,753.5 L233,755.1" fill="none" stroke="#151515" stroke-width="0.95"/>
<path d="M235.1,751.9 L236.8,753.5 L235.1,755.1" fill="none" stroke="#151515" stroke-width="0.95"/>
<path d="M237.2,751.9 L238.9,753.5 L237.2,755.1" fill="none" stroke="#151515" stroke-width="0.95"/>
<path d="M239.3,751.9 L241,753.5 L239.3,755.1" fill="none" stroke="#151515" stroke-width="0.95"/>
<path d="M241.4,751.9 L243.1,753.5 L241.4,755.1" fill="none" stroke="#151515" stroke-width="0.95"/>
<path d="M243.5,751.9 L245.2,753.5 L243.5,755.1" fill="none" stroke="#151515" stroke-width="0.95"/>
<path d="M245.6,751.9 L247.3,753.5 L245.6,755.1" fill="none" stroke="#151515" stroke-width="0.95"/>
<path d="M247.7,751.9 L249.4,753.5 L247.7,755.1" fill="none" stroke="#151515" stroke-width="0.95"/>
<path d="M249.8,751.9 L251.5,753.5 L249.8,755.1" fill="none" stroke="#151515" stroke-width="0.95"/>
<path d="M251.9,751.9 L253.6,753.5 L251.9,755.1" fill="none" stroke="#151515" stroke-width="0.95"/>
<path d="M254,751.9 L255.7,753.5 L254,755.1" fill="none" stroke="#151515" stroke-width="0.95"/>
<path d="M256.1,751.9 L257.8,753.5 L256.1,755.1" fill="none" stroke="#151515" stroke-width="0.95"/>
<path d="M258.2,751.9 L259.9,753.5 L258.2,755.1" fill="none" stroke="#151515" stroke-width="0.95"/>
<path d="M260.3,751.9 L262,753.5 L260.3,755.1" fill="none" stroke="#151515" stroke-width="0.95"/>
<path d="M262.4,751.9 L264.1,753.5 L262.4,755.1" fill="none" stroke="#151515" stroke-width="0.95"/>
<path d="M264.5,751.9 L266.2,753.5 L264.5,755.1" fill="none" stroke="#151515" stroke-width="0.95"/>
<path d="M266.6,751.9 L268.3,753.5 L266.6,755.1" fill="none" stroke="#151515" stroke-width="0.95"/>
<path d="M268.7,751.9 L270.4,753.5 L268.7,755.1" fill="none" stroke="#151515" stroke-width="0.95"/>
<path d="M270.8,751.9 L272.5,753.5 L270.8,755.1" fill="none" stroke="#151515" stroke-width="0.95"/>
<path d="M272.9,751.9 L274.6,753.5 L272.9,755.1" fill="none" stroke="#151515" stroke-width="0.95"/>
<path d="M275,751.9 L276.7,753.5 L275,755.1" fill="none" stroke="#151515" stroke-width="0.95"/>
<path d="M277.1,751.9 L278.8,753.5 L277.1,755.1" fill="none" stroke="#151515" stroke-width="0.95"/>
<path d="M279.2,751.9 L280.9,753.5 L279.2,755.1" fill="none" stroke="#151515" stroke-width="0.95"/>
<path d="M281.3,751.9 L283,753.5 L281.3,755.1" fill="none" stroke="#151515" stroke-width="0.95"/>
<path d="M283.4,751.9 L285.1,753.5 L283.4,755.1" fill="none" stroke="#151515" stroke-width="0.95"/>
<path d="M285.5,751.9 L287.2,753.5 L285.5,755.1" fill="none" stroke="#151515" stroke-width="0.95"/>
<path d="M287.6,751.9 L289.3,753.5 L287.6,755.1" fill="none" stroke="#151515" stroke-width="0.95"/>
<path d="M289.7,751.9 L291.4,753.5 L289.7,755.1" fill="none" stroke="#151515" stroke-width="0.95"/>
<path d="M291.8,751.9 L293.5,753.5 L291.8,755.1" fill="none" stroke="#151515" stroke-width="0.95"/>
<path d="M293.9,751.9 L295.6,753.5 L293.9,755.1" fill="none" stroke="#151515" stroke-width="0.95"/>
<path d="M296,751.9 L297.7,753.5 L296,755.1" fill="none" stroke="#151515" stroke-width="0.95"/>
<path d="M298.1,751.9 L299.8,753.5 L298.1,755.1" fill="none" stroke="#151515" stroke-width="0.95"/>
<path d="M300.2,751.9 L301.9,753.5 L300.2,755.1" fill="none" stroke="#151515" stroke-width="0.95"/>
<path d="M302.3,751.9 L304,753.5 L302.3,755.1" fill="none" stroke="#151515" stroke-width="0.95"/>
<path d="M304.4,751.9 L306.1,753.5 L304.4,755.1" fill="none" stroke="#151515" stroke-width="0.95"/>
<path d="M306.5,751.9 L308.2,753.5 L306.5,755.1" fill="none" stroke="#151515" stroke-width="0.95"/>
<path d="M308.6,751.9 L310.3,753.5 L308.6,755.1" fill="none" stroke="#151515" stroke-width="0.95"/>
<path d="M310.7,751.9 L312.4,753.5 L310.7,755.1" fill="none" stroke="#151515" stroke-width="0.95"/>
<path d="M312.8,751.9 L314.5,753.5 L312.8,755.1" fill="none" stroke="#151515" stroke-width="0.95"/>
<path d="M314.9,751.9 L316.6,753.5 L314.9,755.1" fill="none" stroke="#151515" stroke-width="0.95"/>
<path d="M317,751.9 L318.7,753.5 L317,755.1" fill="none" stroke="#151515" stroke-width="0.95"/>
<path d="M319.1,751.9 L320.8,753.5 L319.1,755.1" fill="none" stroke="#151515" stroke-width="0.95"/>
<path d="M321.2,751.9 L322.9,753.5 L321.2,755.1" fill="none" stroke="#151515" stroke-width="0.95"/>
<path d="M323.3,751.9 L325,753.5 L323.3,755.1" fill="none" stroke="#151515" stroke-width="0.95"/>
<path d="M325.4,751.9 L327.1,753.5 L325.4,755.1" fill="none" stroke="#151515" stroke-width="0.95"/>
<path d="M327.5,751.9 L329.2,753.5 L327.5,755.1" fill="none" stroke="#151515" stroke-width="0.95"/>
<path d="M329.6,751.9 L331.3,753.5 L329.6,755.1" fill="none" stroke="#151515" stroke-width="0.95"/>
<path d="M331.7,751.9 L333.4,753.5 L331.7,755.1" fill="none" stroke="#151515" stroke-width="0.95"/>
<path d="M333.8,751.9 L335.5,753.5 L333.8,755.1" fill="none" stroke="#151515" stroke-width="0.95"/>
<path d="M335.9,751.9 L337.6,753.5 L335.9,755.1" fill="none" stroke="#151515" stroke-width="0.95"/>
<path d="M338,751.9 L339.7,753.5 L338,755.1" fill="none" stroke="#151515" stroke-width="0.95"/>
<path d="M340.1,751.9 L341.8,753.5 L340.1,755.1" fill="none" stroke="#151515" stroke-width="0.95"/>
<path d="M342.2,751.9 L343.9,753.5 L342.2,755.1" fill="none" stroke="#151515" stroke-width="0.95"/>
<path d="M344.3,751.9 L346,753.5 L344.3,755.1" fill="none" stroke="#151515" stroke-width="0.95"/>
<path d="M346.4,751.9 L348.1,753.5 L346.4,755.1" fill="none" stroke="#151515" stroke-width="0.95"/>
<path d="M348.5,751.9 L350.2,753.5 L348.5,755.1" fill="none" stroke="#151515" stroke-width="0.95"/>
<path d="M350.6,751.9 L352.3,753.5 L350.6,755.1" fill="none" stroke="#151515" stroke-width="0.95"/>
<path d="M352.7,751.9 L354.4,753.5 L352.7,755.1" fill="none" stroke="#151515" stroke-width="0.95"/>
<path d="M354.8,751.9 L356.5,753.5 L354.8,755.1" fill="none" stroke="#151515" stroke-width="0.95"/>
<path d="M356.9,751.9 L358.6,753.5 L356.9,755.1" fill="none" stroke="#151515" stroke-width="0.95"/>
<path d="M359,751.9 L360.7,753.5 L359,755.1" fill="none" stroke="#151515" stroke-width="0.95"/>
<path d="M361.1,751.9 L362.8,753.5 L361.1,755.1" fill="none" stroke="#151515" stroke-width="0.95"/>
<path d="M363.2,751.9 L364.9,753.5 L363.2,755.1" fill="none" stroke="#151515" stroke-width="0.95"/>
<path d="M365.3,751.9 L367,753.5 L365.3,755.1" fill="none" stroke="#151515" stroke-width="0.95"/>
<path d="M367.4,751.9 L369.1,753.5 L367.4,755.1" fill="none" stroke="#151515" stroke-width="0.95"/>
<path d="M369.5,751.9 L371.2,753.5 L369.5,755.1" fill="none" stroke="#151515" stroke-width="0.95"/>
<rect x="290.5" y="751.8" width="1.6" height="3.4" fill="#111" />
<rect x="299.5" y="751.8" width="1.4" height="3.4" fill="#111" />
<rect x="302.8" y="751.8" width="1.2" height="3.4" fill="#111" />
<rect x="368.5" y="751.8" width="3.5" height="3.4" fill="#111" />
<rect x="0" y="0" width="520" height="1.1" fill="#3c3c3c"/><rect x="0" y="0" width="1.1" height="765" fill="#3c3c3c"/><rect x="518.9" y="0" width="1.1" height="765" fill="#3c3c3c"/><rect x="0" y="763.5" width="520" height="1.5" fill="#3c3c3c"/>
</svg>
</body></html>
